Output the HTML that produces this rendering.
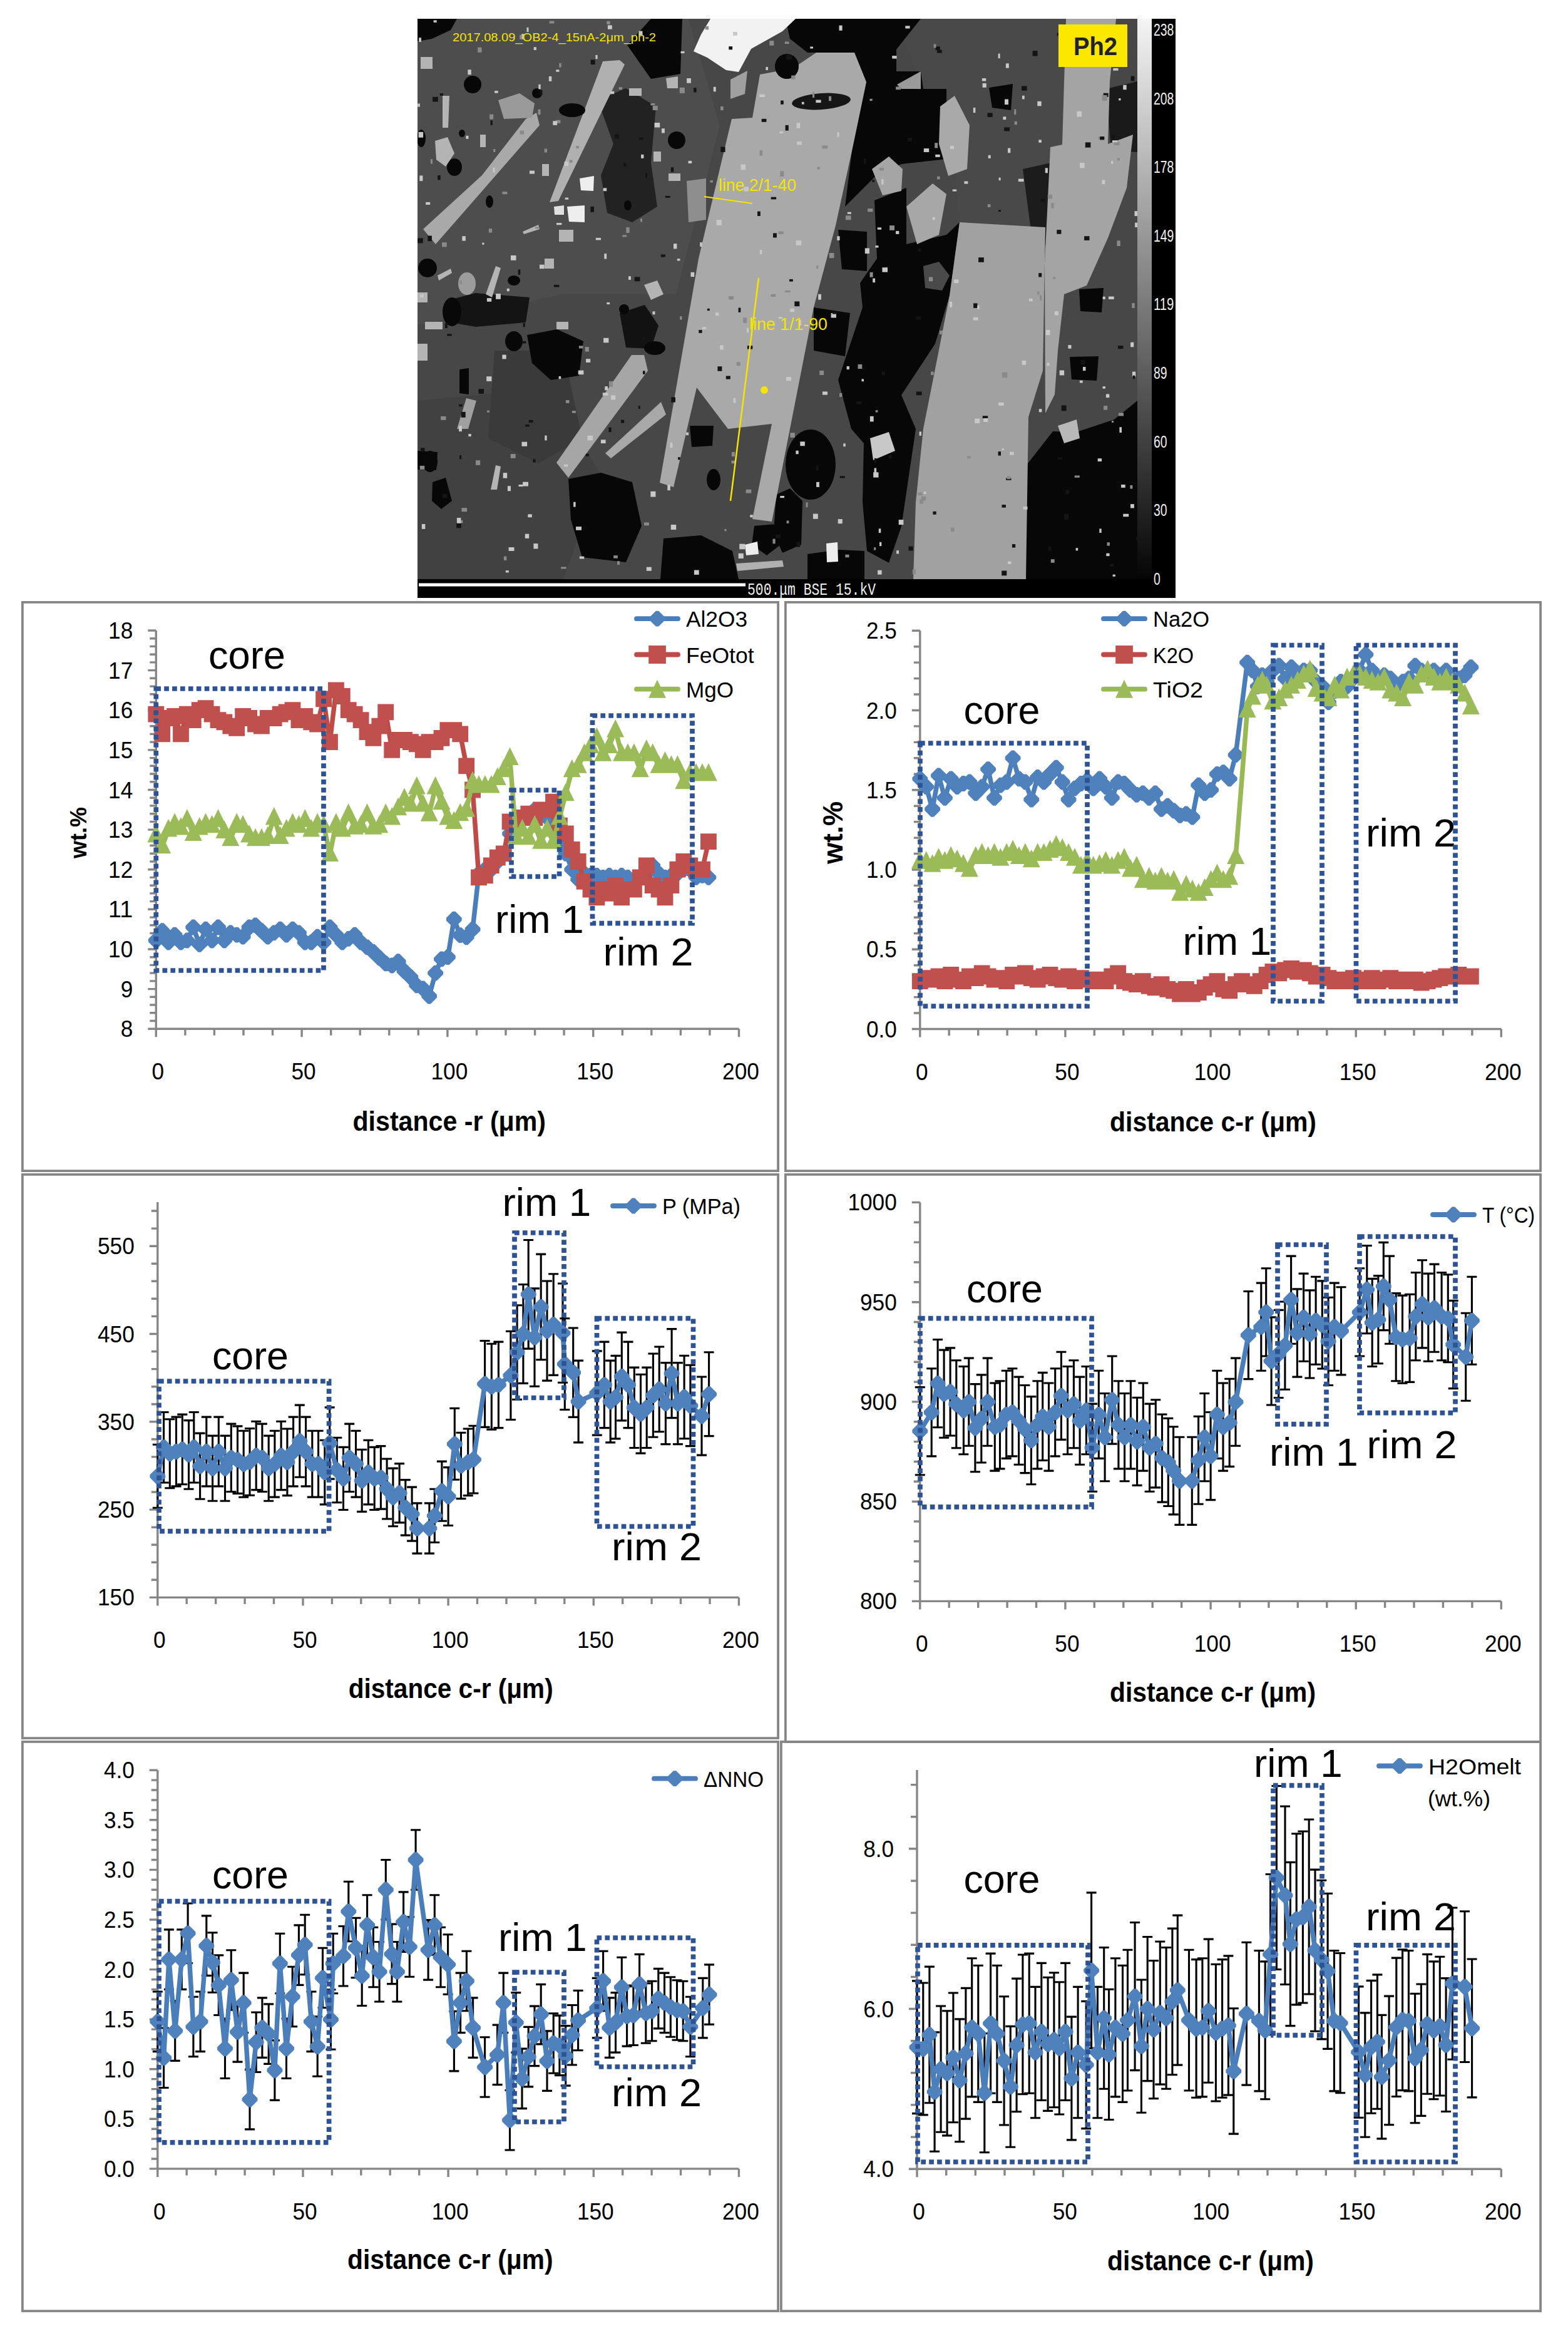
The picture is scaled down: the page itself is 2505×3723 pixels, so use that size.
<!DOCTYPE html>
<html><head><meta charset="utf-8"><style>
html,body{margin:0;padding:0;background:#fff;width:2505px;height:3723px;overflow:hidden}
svg{display:block;font-family:"Liberation Sans",sans-serif}
</style></head><body>
<svg width="2505" height="3723" viewBox="0 0 2505 3723" font-family="Liberation Sans, sans-serif">
<rect width="2505" height="3723" fill="#fff"/>
<defs><clipPath id="bclip"><rect x="667" y="30" width="1150" height="895"/></clipPath><linearGradient id="cbar" x1="0" y1="0" x2="0" y2="1"><stop offset="0" stop-color="#f4f4f4"/><stop offset="1" stop-color="#050505"/></linearGradient></defs>
<g clip-path="url(#bclip)">
<rect x="667" y="30" width="1150" height="895" fill="#474747"/>
<polygon points="667,30 1100,30 1150,200 1080,470 900,470 667,520" fill="#4d4d4d"/>
<polygon points="667,640 880,620 960,760 900,925 667,925" fill="#414141"/>
<polygon points="1432,30 1700,30 1703,363 1533,355 1512,142 1475,142" fill="#494949"/>
<polygon points="1670,452 1817,440 1817,640 1700,690 1660,690" fill="#474747"/>
<polygon points="790,560 900,560 930,700 860,740 780,700" fill="#3a3a3a"/>
<polygon points="667,30 730,30 720,48 690,62 667,66" fill="#070707"/>
<polygon points="1002,72 1040,30 1090,30 1087,118 1040,126" fill="#070707"/>
<circle cx="755" cy="135" r="14" fill="#070707"/>
<polygon points="955,160 1000,141 1048,170 1040,260 1050,330 1010,355 970,340 960,280 980,230" fill="#222222"/>
<polygon points="714,480 760,468 846,475 840,515 760,522 720,515" fill="#141414"/>
<polygon points="842,535 890,526 932,545 925,600 880,607 850,580" fill="#070707"/>
<polygon points="990,500 1030,487 1052,520 1040,557 1000,555" fill="#121212"/>
<polygon points="908,765 960,755 1010,770 1025,840 1000,898 930,890 912,830" fill="#070707"/>
<polygon points="1060,860 1120,855 1170,880 1180,925 1055,925" fill="#070707"/>
<polygon points="1102,680 1140,680 1138,712 1105,714" fill="#070707"/>
<ellipse cx="1140" cy="766" rx="11" ry="17" fill="#070707"/>
<ellipse cx="1295" cy="742" rx="40" ry="56" fill="#070707"/>
<polygon points="1240,790 1262,780 1282,800 1280,870 1250,883 1236,850" fill="#070707"/>
<polygon points="1205,840 1240,837 1247,870 1225,887 1201,870" fill="#070707"/>
<polygon points="1290,885 1340,878 1381,880 1381,925 1290,925" fill="#070707"/>
<polygon points="1320,868 1338,866 1339,897 1321,898" fill="#eeeeee"/>
<polygon points="667,720 699,722 697,751 667,750" fill="#070707"/>
<polygon points="691,770 712,763 722,800 705,813 690,800" fill="#070707"/>
<polygon points="734,590 749,588 749,630 734,628" fill="#070707"/>
<polygon points="1255,30 1471,30 1432,79 1432,114 1471,114 1475,142 1512,142 1512,254 1440,262 1400,280 1350,330 1361,241 1384,131 1365,84 1290,84 1262,62" fill="#070707"/>
<polygon points="1397,320 1448,300 1448,390 1512,375 1533,355 1517,472 1494,549 1440,631 1463,685 1440,841 1420,899 1385,880 1378,802 1380,708 1360,685 1339,607 1378,491 1374,452 1401,413" fill="#070707"/>
<polygon points="1339,367 1385,370 1385,433 1345,430" fill="#070707"/>
<polygon points="1475,425 1500,418 1517,440 1505,464 1478,460" fill="#4a4a4a"/>
<polygon points="1300,491 1358,500 1350,569 1300,560" fill="#070707"/>
<polygon points="1639,744 1682,689 1720,690 1780,670 1817,640 1817,925 1639,925" fill="#070707"/>
<polygon points="1767,142 1817,130 1817,243 1775,240" fill="#1a1a1a"/>
<polygon points="1724,462 1763,460 1760,499 1726,497" fill="#070707"/>
<polygon points="1709,570 1755,569 1752,608 1712,606" fill="#070707"/>
<polygon points="1580,140 1618,134 1615,176 1585,172" fill="#070707"/>
<polygon points="1634,270 1688,258 1688,394 1650,390" fill="#1c1c1c"/>
<polygon points="1214,119 1267,109 1304,84 1365,84 1384,131 1361,241 1335,360 1300,491 1233,833 1202,829 1233,677 1163,685 1113,619 1076,778 1054,771 1116,413 1151,265 1169,190 1202,188" fill="#a9a9a9"/>
<polygon points="1167,127 1194,113 1190,150 1167,158" fill="#a0a0a0"/>
<polygon points="1097,289 1128,285 1128,351 1100,355" fill="#8e8e8e"/>
<polygon points="1533,355 1670,363 1666,592 1643,666 1639,925 1459,925 1463,802 1475,685 1498,569 1517,472" fill="#a1a1a1"/>
<polygon points="1703,30 1783,30 1773,130 1770,230 1810,215 1800,300 1770,380 1736,456 1700,470 1690,560 1685,630 1670,660 1669,420 1678,235 1697,231" fill="#a4a4a4"/>
<polygon points="676,366 696,390 862,200 857,180 840,190 770,280" fill="#a9a9a9"/>
<polygon points="878,323 892,321 998,103 990,96 963,98" fill="#b0b0b0"/>
<polygon points="889,739 908,763 1035,592 1029,567 1009,567" fill="#a6a6a6"/>
<polygon points="967,724 976,732 1064,662 1056,642" fill="#a8a8a8"/>
<polygon points="1502,170 1525,153 1549,200 1545,270 1515,281 1500,230" fill="#a9a9a9"/>
<polygon points="1393,270 1420,250 1442,270 1440,305 1410,312" fill="#a5a5a5"/>
<polygon points="1448,330 1490,293 1512,310 1500,375 1465,390" fill="#a7a7a7"/>
<polygon points="796,160 830,149 854,165 850,188 805,190" fill="#9a9a9a"/>
<polygon points="730,685 745,636 761,640 748,685" fill="#a0a0a0"/>
<ellipse cx="746" cy="453" rx="14" ry="18" fill="#9c9c9c"/>
<polygon points="1176,900 1250,895 1252,905 1178,912" fill="#b0b0b0"/>
<polygon points="1433,135 1471,114 1471,142 1440,142" fill="#9a9a9a"/>
<ellipse cx="914" cy="176" rx="21" ry="11" fill="#080808"/>
<ellipse cx="858" cy="149" rx="8" ry="8" fill="#080808"/>
<ellipse cx="726" cy="267" rx="12" ry="14" fill="#080808"/>
<ellipse cx="673" cy="221" rx="7" ry="14" fill="#080808"/>
<ellipse cx="782" cy="322" rx="6" ry="10" fill="#080808"/>
<ellipse cx="738" cy="213" rx="5" ry="6" fill="#080808"/>
<ellipse cx="1003" cy="328" rx="6" ry="8" fill="#080808"/>
<ellipse cx="1081" cy="224" rx="14" ry="14" fill="#080808"/>
<ellipse cx="821" cy="448" rx="10" ry="8" fill="#080808"/>
<ellipse cx="997" cy="494" rx="8" ry="8" fill="#080808"/>
<ellipse cx="821" cy="545" rx="14" ry="16" fill="#080808"/>
<ellipse cx="1046" cy="556" rx="17" ry="11" fill="#080808"/>
<ellipse cx="687" cy="737" rx="12" ry="17" fill="#080808"/>
<ellipse cx="683" cy="428" rx="15" ry="15" fill="#080808"/>
<ellipse cx="722" cy="498" rx="15" ry="23" fill="#080808"/>
<polygon points="672,91 691,91 691,110 672,110" fill="#b4b4b4"/>
<polygon points="707,153 718,153 716,204 707,204" fill="#b4b4b4"/>
<polygon points="695,225 715,219 726,245 712,266 697,255" fill="#b4b4b4"/>
<polygon points="767,215 776,215 776,235 767,235" fill="#b4b4b4"/>
<polygon points="866,262 877,262 877,281 866,281" fill="#b4b4b4"/>
<polygon points="835,370 860,359 862,366 837,374" fill="#b4b4b4"/>
<polygon points="893,367 916,367 916,386 893,386" fill="#b4b4b4"/>
<polygon points="870,413 885,413 885,429 870,429" fill="#b4b4b4"/>
<polygon points="699,440 720,429 722,436 701,448" fill="#b4b4b4"/>
<polygon points="667,467 683,467 683,483 667,483" fill="#b4b4b4"/>
<polygon points="1029,455 1050,448 1060,470 1040,479" fill="#b4b4b4"/>
<polygon points="776,470 792,425 800,428 786,475" fill="#b4b4b4"/>
<polygon points="679,514 707,514 707,526 679,526" fill="#b4b4b4"/>
<polygon points="784,782 792,743 800,745 794,782" fill="#b4b4b4"/>
<polygon points="889,514 908,514 908,526 889,526" fill="#b4b4b4"/>
<polygon points="1068,277 1087,277 1087,289 1068,289" fill="#b4b4b4"/>
<polygon points="1044,242 1056,242 1056,258 1044,258" fill="#b4b4b4"/>
<polygon points="1005,141 1025,141 1025,153 1005,153" fill="#b4b4b4"/>
<polygon points="1064,125 1083,122 1083,141 1066,141" fill="#b4b4b4"/>
<polygon points="667,549 683,549 683,576 667,576" fill="#b4b4b4"/>
<polygon points="1135,30 1271,30 1250,50 1200,78 1180,115 1160,112 1130,92 1108,82 1120,55" fill="#f2f2f2"/>
<ellipse cx="1257" cy="106" rx="19" ry="20" fill="#080808"/>
<polygon points="926,285 949,281 948,305 928,304" fill="#eeeeee"/>
<polygon points="906,330 934,328 934,355 909,354" fill="#eeeeee"/>
<polygon points="885,330 901,328 901,343 886,343" fill="#e0e0e0"/>
<polygon points="1390,700 1420,690 1430,720 1395,735" fill="#c8c8c8"/>
<polygon points="1190,870 1210,865 1212,885 1192,887" fill="#eeeeee"/>
<polygon points="1690,680 1720,670 1725,700 1700,708" fill="#b8b8b8"/>
<ellipse cx="1312" cy="162" rx="47" ry="13" transform="rotate(-4 1312 162)" fill="#161616"/>
<rect x="1039.4" y="165" width="6.9" height="3.4" fill="#8a8a8a"/><rect x="1087.5" y="81.9" width="6" height="3.2" fill="#c8c8c8"/><rect x="747.3" y="111.2" width="5.5" height="8" fill="#c8c8c8"/><rect x="923.7" y="591.6" width="8.7" height="6.5" fill="#c8c8c8"/><rect x="1789.7" y="71.7" width="8.2" height="4.7" fill="#c8c8c8"/><rect x="802.5" y="306.1" width="7.9" height="4.1" fill="#8a8a8a"/><rect x="1401.8" y="363.3" width="6.3" height="3.4" fill="#c8c8c8"/><rect x="903.9" y="639" width="5.6" height="4.9" fill="#8a8a8a"/><rect x="1188.2" y="298.3" width="7.8" height="7.2" fill="#c8c8c8"/><rect x="1327.6" y="500.1" width="8.3" height="7.4" fill="#c8c8c8"/><rect x="1794.2" y="135.7" width="5.5" height="7.5" fill="#c8c8c8"/><rect x="1229.3" y="65.1" width="7" height="7.6" fill="#8a8a8a"/><rect x="1673.8" y="310.8" width="7.2" height="6.6" fill="#8a8a8a"/><rect x="1191.6" y="781.8" width="8.7" height="5.8" fill="#8a8a8a"/><rect x="736.8" y="657.8" width="6.9" height="9" fill="#141414"/><rect x="994.3" y="375.3" width="7" height="3.1" fill="#8a8a8a"/><rect x="860.3" y="134.8" width="3.4" height="7.6" fill="#c8c8c8"/><rect x="951.8" y="379.9" width="8.2" height="3.5" fill="#c8c8c8"/><rect x="1298.9" y="820.6" width="7.9" height="8.2" fill="#c8c8c8"/><rect x="1144.6" y="351.1" width="8.3" height="8.7" fill="#c8c8c8"/><rect x="869.7" y="237.6" width="4.4" height="5.9" fill="#8a8a8a"/><rect x="969.2" y="33.7" width="5.5" height="5.2" fill="#8a8a8a"/><rect x="1763.1" y="648" width="6.1" height="6.7" fill="#8a8a8a"/><rect x="729.1" y="835.1" width="7.7" height="8.2" fill="#141414"/><rect x="1118.2" y="387.1" width="3.6" height="6.8" fill="#c8c8c8"/><rect x="744.4" y="216.8" width="4" height="5" fill="#c8c8c8"/><rect x="667.3" y="165.4" width="3.6" height="5.2" fill="#c8c8c8"/><rect x="1672.5" y="579.6" width="3.9" height="4.5" fill="#c8c8c8"/><rect x="1085.8" y="139.9" width="8.1" height="9" fill="#8a8a8a"/><rect x="1223.4" y="106.9" width="3.6" height="5.1" fill="#c8c8c8"/><rect x="1620.2" y="174.5" width="3.1" height="8.7" fill="#8a8a8a"/><rect x="835.6" y="516.1" width="3.2" height="6.2" fill="#141414"/><rect x="1659.8" y="653.1" width="4.6" height="5.2" fill="#c8c8c8"/><rect x="1554.7" y="506.7" width="7.7" height="5" fill="#c8c8c8"/><rect x="1600.2" y="911.5" width="8.1" height="7.8" fill="#141414"/><rect x="1517.9" y="232.9" width="6.1" height="5.1" fill="#c8c8c8"/><rect x="699.1" y="280.1" width="4.6" height="7.2" fill="#141414"/><rect x="1181.3" y="868.6" width="8.9" height="8.7" fill="#c8c8c8"/><rect x="920.5" y="233" width="4.2" height="4.2" fill="#8a8a8a"/><rect x="1702.4" y="782.2" width="5.9" height="6.9" fill="#141414"/><rect x="764.5" y="621.2" width="8.5" height="7.7" fill="#141414"/><rect x="1216.7" y="189.8" width="7.7" height="5" fill="#141414"/><rect x="1784.4" y="384.3" width="5.4" height="8.7" fill="#8a8a8a"/><rect x="862.5" y="143.7" width="3.9" height="8.4" fill="#141414"/><rect x="835.1" y="769.7" width="8.9" height="6.9" fill="#c8c8c8"/><rect x="1298" y="147.2" width="3.1" height="8.8" fill="#8a8a8a"/><rect x="1272.6" y="865.6" width="5.6" height="8.2" fill="#141414"/><rect x="909.7" y="255.4" width="4.8" height="4.4" fill="#8a8a8a"/><rect x="965.3" y="405" width="3.8" height="8.5" fill="#c8c8c8"/><rect x="1193.9" y="552.1" width="8.4" height="5.5" fill="#141414"/><rect x="1243.9" y="506" width="6.1" height="3.1" fill="#c8c8c8"/><rect x="877.6" y="33.5" width="7.8" height="4" fill="#8a8a8a"/><rect x="1501" y="528" width="5" height="6.1" fill="#8a8a8a"/><rect x="1568.9" y="125" width="6.4" height="4.5" fill="#c8c8c8"/><rect x="1555.1" y="484.4" width="6.4" height="7.6" fill="#141414"/><rect x="1176.7" y="578.2" width="6" height="6.1" fill="#8a8a8a"/><rect x="1187.2" y="507.3" width="5.9" height="8.6" fill="#8a8a8a"/><rect x="1675" y="873.3" width="4.6" height="6.4" fill="#141414"/><rect x="1633" y="152.7" width="3.7" height="5.7" fill="#c8c8c8"/><rect x="943.7" y="95.4" width="7" height="7.7" fill="#141414"/><rect x="844.6" y="670.9" width="7" height="3.9" fill="#141414"/><rect x="1779.7" y="226.5" width="8.7" height="5.4" fill="#8a8a8a"/><rect x="1805.4" y="775" width="4" height="5.6" fill="#8a8a8a"/><rect x="1057" y="205.2" width="4.9" height="7.3" fill="#c8c8c8"/><rect x="1304.2" y="424.2" width="3.1" height="5" fill="#8a8a8a"/><rect x="1256.1" y="87.5" width="8.9" height="7.7" fill="#141414"/><rect x="787.5" y="267.7" width="3.2" height="7.7" fill="#c8c8c8"/><rect x="816" y="407.9" width="8.5" height="7.9" fill="#c8c8c8"/><rect x="838.8" y="852.7" width="6.4" height="7.2" fill="#c8c8c8"/><rect x="733.2" y="645.9" width="5.6" height="3.4" fill="#141414"/><rect x="1396.6" y="747.5" width="3.5" height="8.1" fill="#c8c8c8"/><rect x="1659.2" y="436.1" width="5" height="6.3" fill="#141414"/><rect x="975" y="145.7" width="6.2" height="4.4" fill="#c8c8c8"/><rect x="852.7" y="75.1" width="4.2" height="4.9" fill="#c8c8c8"/><rect x="1540.4" y="289.5" width="6" height="4.1" fill="#c8c8c8"/><rect x="687.9" y="254.2" width="3.1" height="7.4" fill="#8a8a8a"/><rect x="884.9" y="454.9" width="8.6" height="3.6" fill="#141414"/><rect x="1164" y="473" width="8" height="5.4" fill="#8a8a8a"/><rect x="1457.9" y="909.3" width="5.1" height="8" fill="#8a8a8a"/><rect x="1398.4" y="392.2" width="5.1" height="3.3" fill="#c8c8c8"/><rect x="748.3" y="693.1" width="4.5" height="4" fill="#c8c8c8"/><rect x="1634.5" y="809.1" width="7" height="4.7" fill="#c8c8c8"/><rect x="1004" y="441.2" width="3.9" height="5.7" fill="#c8c8c8"/><rect x="1773.1" y="900.5" width="6.3" height="4.5" fill="#141414"/><rect x="1023" y="349.1" width="3" height="5.3" fill="#8a8a8a"/><rect x="1245.2" y="209.9" width="6" height="3" fill="#c8c8c8"/><rect x="770.2" y="387.6" width="3.3" height="3.1" fill="#c8c8c8"/><rect x="934.7" y="554.1" width="6.2" height="7.5" fill="#8a8a8a"/><rect x="1490.4" y="816.8" width="5.3" height="5" fill="#141414"/><rect x="838.9" y="678.1" width="6.9" height="3.3" fill="#141414"/><rect x="1692.7" y="591.5" width="7.4" height="7.9" fill="#c8c8c8"/><rect x="1269.3" y="481.4" width="8" height="7.8" fill="#141414"/><rect x="1338.7" y="829.1" width="7.1" height="7.2" fill="#c8c8c8"/><rect x="702.8" y="149.1" width="5.2" height="3.6" fill="#141414"/><rect x="1309.3" y="591.9" width="6.8" height="7.1" fill="#8a8a8a"/><rect x="670.8" y="743.9" width="7.5" height="6" fill="#8a8a8a"/><rect x="1425.2" y="89.1" width="7.4" height="4.5" fill="#c8c8c8"/><rect x="972.4" y="682.8" width="4.2" height="7.4" fill="#141414"/><rect x="1235" y="372.4" width="5.9" height="7.1" fill="#141414"/><rect x="1376.5" y="605.3" width="3.5" height="3.9" fill="#c8c8c8"/><rect x="1521.7" y="302.5" width="6.4" height="3.1" fill="#c8c8c8"/><rect x="976.1" y="631.4" width="7.2" height="7.1" fill="#c8c8c8"/><rect x="1261" y="445.9" width="5.8" height="3.7" fill="#141414"/><rect x="896.1" y="905.4" width="8.6" height="3.1" fill="#8a8a8a"/><rect x="1609.9" y="896.5" width="5.7" height="4.6" fill="#c8c8c8"/><rect x="1754.4" y="218.6" width="6.5" height="3.9" fill="#8a8a8a"/><rect x="1762.7" y="148.7" width="7.9" height="6.1" fill="#141414"/><rect x="1475.8" y="237.1" width="8.4" height="5.9" fill="#c8c8c8"/><rect x="671.1" y="470.1" width="5.7" height="4.8" fill="#c8c8c8"/><rect x="1062.6" y="312.9" width="8" height="3" fill="#141414"/><rect x="1632" y="137.4" width="8.6" height="7.3" fill="#141414"/><rect x="1000.3" y="363.1" width="5.4" height="9" fill="#8a8a8a"/><rect x="1081.8" y="413.1" width="4.7" height="3.3" fill="#c8c8c8"/><rect x="1626.9" y="285.6" width="8.6" height="4.5" fill="#c8c8c8"/><rect x="1254.6" y="199.9" width="5.2" height="8.7" fill="#141414"/><rect x="1600.8" y="594.7" width="8.5" height="8.6" fill="#8a8a8a"/><rect x="1494.5" y="74.3" width="7.4" height="5.7" fill="#141414"/><rect x="1408.2" y="286.2" width="3.3" height="8.6" fill="#c8c8c8"/><rect x="1210" y="337.6" width="4.8" height="7.4" fill="#141414"/><rect x="966.2" y="617.1" width="4.8" height="6.3" fill="#c8c8c8"/><rect x="859.4" y="174.7" width="4.2" height="8.4" fill="#8a8a8a"/><rect x="920" y="841.1" width="9" height="5.7" fill="#c8c8c8"/><rect x="888.3" y="111.2" width="5.1" height="3.5" fill="#c8c8c8"/><rect x="964.1" y="539.8" width="8.3" height="7.5" fill="#c8c8c8"/><rect x="1143" y="499.1" width="5.3" height="5" fill="#c8c8c8"/><rect x="986.1" y="896.1" width="3.8" height="6" fill="#8a8a8a"/><rect x="1659.3" y="223.3" width="4.6" height="4.5" fill="#c8c8c8"/><rect x="1179.7" y="883.8" width="8.1" height="8.2" fill="#c8c8c8"/><rect x="704.1" y="665" width="8.4" height="5.8" fill="#8a8a8a"/><rect x="667.2" y="380.4" width="8.6" height="8" fill="#141414"/><rect x="1785.1" y="252.4" width="3.7" height="3.9" fill="#8a8a8a"/><rect x="1451.4" y="872.6" width="7.3" height="6.9" fill="#141414"/><rect x="1192.9" y="523.6" width="3.2" height="7.7" fill="#c8c8c8"/><rect x="1724.9" y="607.7" width="4.8" height="3.8" fill="#c8c8c8"/><rect x="1398.7" y="655.2" width="3.7" height="3.4" fill="#8a8a8a"/><rect x="1337.3" y="377.3" width="4.3" height="6.6" fill="#c8c8c8"/><rect x="1013.7" y="442.3" width="8.8" height="6.9" fill="#141414"/><rect x="1213.6" y="240.1" width="4.5" height="8.8" fill="#8a8a8a"/><rect x="1020.5" y="49.5" width="6" height="7" fill="#c8c8c8"/><rect x="962.8" y="627.3" width="8.6" height="4.4" fill="#c8c8c8"/><rect x="1055.8" y="406.4" width="7.1" height="4.2" fill="#141414"/><rect x="1517" y="481.9" width="4.2" height="8.8" fill="#c8c8c8"/><rect x="1610" y="236.6" width="4.3" height="7.6" fill="#c8c8c8"/><rect x="1761.7" y="473.7" width="4.1" height="4.3" fill="#c8c8c8"/><rect x="1432.1" y="879.1" width="3.9" height="5.4" fill="#c8c8c8"/><rect x="1787.2" y="157" width="3.3" height="3.4" fill="#c8c8c8"/><rect x="1699.9" y="820.8" width="7.4" height="9" fill="#141414"/><rect x="1045.6" y="196" width="8.6" height="7.5" fill="#c8c8c8"/><rect x="1431.1" y="368.9" width="5.2" height="5" fill="#c8c8c8"/><rect x="670.3" y="280.4" width="5.1" height="8.7" fill="#c8c8c8"/><rect x="1775.9" y="215.6" width="5.1" height="7.9" fill="#141414"/><rect x="1164.3" y="74.1" width="5.8" height="5.2" fill="#141414"/><rect x="889" y="356" width="8.4" height="3.2" fill="#c8c8c8"/><rect x="1600.6" y="716.2" width="3.2" height="3.2" fill="#c8c8c8"/><rect x="1725.1" y="260" width="7.5" height="8.4" fill="#c8c8c8"/><rect x="980.2" y="887.1" width="6.7" height="4.6" fill="#8a8a8a"/><rect x="1031" y="276.7" width="3" height="7.5" fill="#141414"/><rect x="1396.1" y="874.2" width="3.1" height="4.4" fill="#8a8a8a"/><rect x="1767.3" y="883.7" width="5.3" height="4.5" fill="#c8c8c8"/><rect x="1234.5" y="860.6" width="4.1" height="7.8" fill="#8a8a8a"/><rect x="1613.2" y="721.7" width="6.6" height="5" fill="#c8c8c8"/><rect x="1083.1" y="730.1" width="3.5" height="4.2" fill="#141414"/><rect x="951.4" y="87.9" width="3.2" height="6.3" fill="#c8c8c8"/><rect x="1794.3" y="820.7" width="8.9" height="4.6" fill="#c8c8c8"/><rect x="777.9" y="476.1" width="7.3" height="5.7" fill="#c8c8c8"/><rect x="1146.4" y="585.2" width="7" height="7.5" fill="#141414"/><rect x="1431.1" y="138.4" width="8" height="4.8" fill="#8a8a8a"/><rect x="1095.9" y="690.6" width="4.2" height="4.5" fill="#c8c8c8"/><rect x="843.3" y="821.3" width="6.5" height="5" fill="#c8c8c8"/><rect x="1808.3" y="484.1" width="4.4" height="7.9" fill="#8a8a8a"/><rect x="1806.6" y="121.6" width="5.8" height="7.9" fill="#141414"/><rect x="1718.5" y="66.1" width="4.8" height="3.7" fill="#c8c8c8"/><rect x="1785.9" y="552" width="8.6" height="5.2" fill="#141414"/><rect x="1183.5" y="262.7" width="7.7" height="8.7" fill="#c8c8c8"/><rect x="1352.6" y="584.9" width="4.3" height="5.2" fill="#c8c8c8"/><rect x="901.6" y="258.1" width="6.6" height="6.9" fill="#c8c8c8"/><rect x="680.1" y="322.9" width="7.1" height="4.1" fill="#c8c8c8"/><rect x="900.9" y="741.8" width="6.3" height="3.4" fill="#c8c8c8"/><rect x="1121.6" y="522.4" width="6.8" height="3.5" fill="#c8c8c8"/><rect x="1466.7" y="396.8" width="4.7" height="4.8" fill="#141414"/><rect x="1026.2" y="537" width="5.1" height="5.5" fill="#141414"/><rect x="1813.1" y="355.6" width="4.2" height="7.4" fill="#c8c8c8"/><rect x="673.8" y="837" width="5.5" height="7.9" fill="#c8c8c8"/><rect x="1682.3" y="442.5" width="4" height="3.1" fill="#8a8a8a"/><rect x="1403.8" y="844.3" width="3.5" height="6.7" fill="#c8c8c8"/><rect x="1247.1" y="160.6" width="4.7" height="6.1" fill="#141414"/><rect x="792.1" y="469" width="7.8" height="8.8" fill="#c8c8c8"/><rect x="812.6" y="874.1" width="8.9" height="5.9" fill="#c8c8c8"/><rect x="1732.1" y="377.2" width="8.4" height="6.7" fill="#141414"/><rect x="851.3" y="733.3" width="4.3" height="5.4" fill="#141414"/><rect x="1620.6" y="193.8" width="4.3" height="5.4" fill="#8a8a8a"/><rect x="1108.1" y="140.1" width="4.5" height="7.3" fill="#141414"/><rect x="714.3" y="533.3" width="7.5" height="3.2" fill="#141414"/><rect x="802.4" y="566.6" width="6.3" height="6.8" fill="#c8c8c8"/><rect x="1150.1" y="551.4" width="5.6" height="7" fill="#c8c8c8"/><rect x="1171.1" y="50.9" width="6.7" height="5.9" fill="#c8c8c8"/><rect x="1545.1" y="728.1" width="5.7" height="4.1" fill="#8a8a8a"/><rect x="790.1" y="145" width="5.6" height="3.6" fill="#c8c8c8"/><rect x="1253.7" y="66.5" width="6.8" height="3.5" fill="#8a8a8a"/><rect x="1561.3" y="487.8" width="3.3" height="6" fill="#c8c8c8"/><rect x="1760.5" y="151.9" width="8.1" height="9" fill="#8a8a8a"/><rect x="1604.2" y="203.4" width="8.9" height="6" fill="#141414"/><rect x="1720.4" y="177.8" width="7.7" height="8.6" fill="#c8c8c8"/><rect x="1070.5" y="706.8" width="4" height="8.4" fill="#c8c8c8"/><rect x="1605" y="158.5" width="6" height="8.5" fill="#c8c8c8"/><rect x="969.3" y="482.9" width="4.9" height="3.2" fill="#c8c8c8"/><rect x="852.4" y="868.1" width="7.1" height="8.4" fill="#c8c8c8"/><rect x="1569.6" y="133" width="6.2" height="6.8" fill="#c8c8c8"/><rect x="1670.9" y="526.9" width="6.5" height="8.3" fill="#c8c8c8"/><rect x="1808.9" y="593.6" width="5.4" height="7.8" fill="#c8c8c8"/><rect x="1806.1" y="546.7" width="5.2" height="7.6" fill="#c8c8c8"/><rect x="870.3" y="695.5" width="3.3" height="7.9" fill="#c8c8c8"/><rect x="1402.1" y="910.7" width="6.5" height="7" fill="#c8c8c8"/><rect x="669.1" y="60.2" width="3.9" height="6.7" fill="#c8c8c8"/><rect x="1256.6" y="831.5" width="3.8" height="4.4" fill="#8a8a8a"/><rect x="692.6" y="32.3" width="5.1" height="3.6" fill="#c8c8c8"/><rect x="924.9" y="552.3" width="6.5" height="4.2" fill="#8a8a8a"/><rect x="1213.1" y="150.6" width="8.6" height="4.5" fill="#c8c8c8"/><rect x="777.2" y="601.2" width="8.2" height="7.7" fill="#c8c8c8"/><rect x="970.9" y="40.3" width="6.9" height="6.4" fill="#c8c8c8"/><rect x="1409.4" y="427.2" width="8.6" height="7.4" fill="#c8c8c8"/><rect x="1706" y="69.4" width="6.2" height="5.4" fill="#c8c8c8"/><rect x="734.1" y="727.1" width="3.1" height="6.3" fill="#141414"/><rect x="830.6" y="208.6" width="6.6" height="6" fill="#8a8a8a"/><rect x="1602.4" y="186.3" width="4.9" height="4.8" fill="#c8c8c8"/><rect x="1689.8" y="730.8" width="7.3" height="3" fill="#141414"/><rect x="1524" y="446.4" width="7.5" height="5.7" fill="#c8c8c8"/><rect x="788.1" y="237.9" width="3.2" height="5" fill="#8a8a8a"/><rect x="1466.4" y="786.6" width="7.3" height="4.6" fill="#8a8a8a"/><rect x="1168.5" y="735.7" width="6.1" height="4.6" fill="#8a8a8a"/><rect x="1776.9" y="224.2" width="8.3" height="3.1" fill="#c8c8c8"/><rect x="938.5" y="695.8" width="8.7" height="7.5" fill="#c8c8c8"/><rect x="1679.2" y="324.1" width="4.4" height="8.4" fill="#8a8a8a"/><rect x="1463.8" y="625.4" width="8.9" height="5.8" fill="#141414"/><rect x="1469.3" y="797.5" width="5.6" height="7.3" fill="#8a8a8a"/><rect x="1020.9" y="219.7" width="6.7" height="3.5" fill="#141414"/><rect x="833.3" y="54.1" width="3.6" height="8.6" fill="#c8c8c8"/><rect x="830.1" y="55.7" width="3.2" height="7.2" fill="#8a8a8a"/><rect x="1468.6" y="689.4" width="3.4" height="6.5" fill="#c8c8c8"/><rect x="1607.2" y="763.5" width="8.3" height="3.4" fill="#141414"/><rect x="1718.6" y="875.2" width="3.6" height="4.2" fill="#c8c8c8"/><rect x="706.6" y="788.7" width="7.9" height="6.8" fill="#141414"/><rect x="1393.3" y="287.2" width="3.6" height="3.6" fill="#141414"/><rect x="902.7" y="315.6" width="5.5" height="3.1" fill="#c8c8c8"/><rect x="992" y="670.6" width="5.2" height="4.9" fill="#141414"/><rect x="1246.3" y="792" width="6.7" height="3.2" fill="#c8c8c8"/><rect x="1168.9" y="721.9" width="5.1" height="7.2" fill="#8a8a8a"/><rect x="916.1" y="801.7" width="3.5" height="7.9" fill="#c8c8c8"/><rect x="668.5" y="210.8" width="7.6" height="8.9" fill="#c8c8c8"/><rect x="1231.4" y="469.9" width="7.8" height="4.1" fill="#8a8a8a"/><rect x="1066.3" y="774.5" width="4.6" height="8.7" fill="#c8c8c8"/><rect x="913.9" y="656" width="6" height="3.7" fill="#8a8a8a"/><rect x="760" y="735.2" width="7.2" height="7.7" fill="#8a8a8a"/><rect x="1076" y="389.1" width="5.4" height="8.3" fill="#c8c8c8"/><rect x="1688.7" y="52.5" width="4.2" height="4.6" fill="#141414"/><rect x="1243.4" y="369.5" width="8.3" height="4.4" fill="#8a8a8a"/><rect x="1278.3" y="705.3" width="7.5" height="6.9" fill="#c8c8c8"/><rect x="1042.7" y="169" width="8.1" height="7" fill="#8a8a8a"/><rect x="862" y="422.7" width="7.6" height="6.5" fill="#c8c8c8"/><rect x="1198.3" y="822.2" width="4.4" height="4.1" fill="#c8c8c8"/><rect x="1475.6" y="785.1" width="3.9" height="3.9" fill="#c8c8c8"/><rect x="1042.5" y="497.3" width="4" height="5" fill="#c8c8c8"/><rect x="1788.4" y="682.2" width="3.6" height="8.8" fill="#c8c8c8"/><rect x="1108.9" y="910.5" width="7.8" height="7.4" fill="#c8c8c8"/><rect x="892.6" y="601" width="3.6" height="4.2" fill="#c8c8c8"/><rect x="706" y="387.1" width="7.7" height="7.2" fill="#8a8a8a"/><rect x="1394.2" y="444.6" width="3.9" height="6.6" fill="#c8c8c8"/><rect x="1519.1" y="842.7" width="5.6" height="6.4" fill="#8a8a8a"/><rect x="1151.3" y="234.6" width="7.3" height="8.3" fill="#141414"/><rect x="1472.1" y="792.9" width="7.1" height="6.8" fill="#8a8a8a"/><rect x="1027" y="592.3" width="3.6" height="5.5" fill="#141414"/><rect x="1487.1" y="593.5" width="4.5" height="5.5" fill="#8a8a8a"/><rect x="1381.8" y="396.4" width="7.1" height="8.6" fill="#c8c8c8"/><rect x="1419.7" y="726.5" width="5.3" height="5.9" fill="#141414"/><rect x="710.9" y="516.3" width="4" height="7.7" fill="#141414"/><rect x="1264.1" y="120.5" width="6.4" height="6.2" fill="#8a8a8a"/><rect x="1256" y="602.1" width="8" height="6.1" fill="#c8c8c8"/><rect x="1757.2" y="218" width="7.1" height="5.4" fill="#141414"/><rect x="807.8" y="911.1" width="5.1" height="3.3" fill="#c8c8c8"/><rect x="1126.6" y="41.9" width="5.5" height="5.5" fill="#8a8a8a"/><rect x="1071.9" y="267.3" width="4.3" height="7.4" fill="#141414"/><rect x="1273.1" y="225.9" width="7.8" height="5.4" fill="#c8c8c8"/><rect x="815.7" y="725.1" width="7.9" height="6.8" fill="#8a8a8a"/><rect x="1313.4" y="232.3" width="8.8" height="5.1" fill="#8a8a8a"/><rect x="1608.6" y="760.5" width="5.8" height="4.8" fill="#8a8a8a"/><rect x="810.9" y="776.2" width="5.1" height="8.1" fill="#c8c8c8"/><rect x="1099.6" y="256.9" width="5.6" height="4.1" fill="#c8c8c8"/><rect x="1497.1" y="281.7" width="4.5" height="4.8" fill="#8a8a8a"/><rect x="1159.8" y="600.4" width="7" height="5.2" fill="#141414"/><rect x="1649.6" y="81.1" width="8" height="8.4" fill="#141414"/><rect x="828.5" y="774" width="6.8" height="3.1" fill="#c8c8c8"/><rect x="1761.5" y="617.1" width="4.5" height="3.6" fill="#c8c8c8"/><rect x="935.7" y="724.8" width="5.1" height="3.9" fill="#141414"/><rect x="1577.4" y="180.3" width="8.3" height="6.7" fill="#141414"/><rect x="1435.7" y="830.1" width="7.7" height="8" fill="#c8c8c8"/><rect x="1463.7" y="505.1" width="7.5" height="5.6" fill="#141414"/><rect x="1305.3" y="266.7" width="4.4" height="3.8" fill="#8a8a8a"/><rect x="734.2" y="448" width="3.9" height="5.9" fill="#8a8a8a"/><rect x="1287.5" y="802.3" width="3" height="8" fill="#8a8a8a"/><rect x="1314" y="625.4" width="8" height="5.2" fill="#c8c8c8"/><rect x="1771.7" y="97.5" width="6.8" height="6.8" fill="#c8c8c8"/><rect x="1368.1" y="640.9" width="8.6" height="5" fill="#141414"/><rect x="1254.2" y="463.8" width="8.4" height="3.2" fill="#8a8a8a"/><rect x="1386.1" y="333.1" width="8.2" height="5.2" fill="#8a8a8a"/><rect x="1271.4" y="719.7" width="4.3" height="5.6" fill="#c8c8c8"/><rect x="1304.1" y="769.9" width="4.8" height="8" fill="#c8c8c8"/><rect x="1246.3" y="273.2" width="6" height="8.8" fill="#8a8a8a"/><rect x="1577.7" y="326.2" width="4.9" height="4.8" fill="#8a8a8a"/><rect x="1397" y="731.9" width="3.2" height="7.3" fill="#141414"/><rect x="1294.2" y="74.5" width="4.8" height="3" fill="#c8c8c8"/><rect x="1726.6" y="574.8" width="6.9" height="7.7" fill="#141414"/><rect x="1370.5" y="581.9" width="6.8" height="7.2" fill="#8a8a8a"/><rect x="1450.1" y="220.2" width="7" height="5.7" fill="#141414"/><rect x="783.6" y="192.3" width="3.2" height="7.6" fill="#141414"/><rect x="1421.1" y="360.1" width="7.9" height="7.7" fill="#8a8a8a"/><rect x="963.7" y="300.3" width="5.5" height="4.9" fill="#c8c8c8"/><rect x="1405" y="865.8" width="3.3" height="6.4" fill="#c8c8c8"/><rect x="803.7" y="755.2" width="6.5" height="8.5" fill="#c8c8c8"/><rect x="683.3" y="376.5" width="6.6" height="8.6" fill="#141414"/><rect x="1213.8" y="399.1" width="3.6" height="6.9" fill="#c8c8c8"/><rect x="841.5" y="43.9" width="3" height="7.1" fill="#c8c8c8"/><rect x="1778.3" y="108.9" width="8.2" height="3.8" fill="#c8c8c8"/><rect x="1494.3" y="246.8" width="7.4" height="4.1" fill="#c8c8c8"/><rect x="1557.1" y="668.6" width="8.1" height="7.4" fill="#c8c8c8"/><rect x="1389.9" y="664.8" width="5.8" height="8.6" fill="#c8c8c8"/><rect x="1776" y="671.9" width="3.1" height="3.1" fill="#8a8a8a"/><rect x="1606.9" y="101.3" width="4.9" height="7.4" fill="#c8c8c8"/><rect x="1657.1" y="465.3" width="3.4" height="5.2" fill="#8a8a8a"/><rect x="1171.5" y="635.8" width="3.9" height="7.8" fill="#c8c8c8"/><rect x="1408.6" y="593.6" width="5.5" height="5.3" fill="#141414"/><rect x="1753.7" y="732.2" width="6.4" height="4.8" fill="#c8c8c8"/><rect x="1787" y="659.4" width="8" height="5" fill="#8a8a8a"/><rect x="1791.1" y="774" width="6.6" height="4.9" fill="#c8c8c8"/><rect x="1688.3" y="367.1" width="7.1" height="6.6" fill="#141414"/><rect x="1595.6" y="283.6" width="3" height="4.6" fill="#c8c8c8"/><rect x="1341.6" y="760.3" width="8.3" height="3.3" fill="#141414"/><rect x="1600.5" y="806.1" width="6.4" height="4.6" fill="#141414"/><rect x="1595.1" y="642.8" width="8.5" height="5.1" fill="#c8c8c8"/><rect x="1303.7" y="743.7" width="4.2" height="7.5" fill="#141414"/><rect x="936.1" y="573.2" width="7.1" height="5.8" fill="#c8c8c8"/><rect x="959.9" y="702.3" width="7.7" height="5.8" fill="#c8c8c8"/><rect x="1594.6" y="721.1" width="4.4" height="6.5" fill="#141414"/><rect x="1684.9" y="497.1" width="5.9" height="6.5" fill="#c8c8c8"/><rect x="888.2" y="191.7" width="7.2" height="5.2" fill="#8a8a8a"/><rect x="1129.9" y="492.9" width="3.9" height="3.3" fill="#141414"/><rect x="1097.1" y="125" width="6.8" height="7.7" fill="#c8c8c8"/><rect x="1353.8" y="338.7" width="6.1" height="3.1" fill="#c8c8c8"/><rect x="1806" y="805.1" width="5.9" height="6.4" fill="#c8c8c8"/><rect x="1563.1" y="411.2" width="8.7" height="7.6" fill="#141414"/><rect x="1775" y="257.3" width="3.2" height="4.2" fill="#c8c8c8"/><rect x="763.2" y="75.6" width="6.3" height="8.2" fill="#8a8a8a"/><rect x="1756.3" y="844.4" width="3.4" height="6.6" fill="#c8c8c8"/><rect x="804.9" y="888.6" width="4.5" height="6.4" fill="#8a8a8a"/><rect x="1766.9" y="629.4" width="5.4" height="5.7" fill="#c8c8c8"/><rect x="1777.6" y="917.6" width="4.3" height="3.2" fill="#c8c8c8"/><rect x="1071.8" y="838" width="8.4" height="8" fill="#c8c8c8"/><rect x="1571.3" y="665.1" width="6.9" height="8.9" fill="#c8c8c8"/><rect x="833.5" y="705.7" width="8.6" height="7.1" fill="#c8c8c8"/><rect x="1347.2" y="708.3" width="3.6" height="4.9" fill="#c8c8c8"/><rect x="809.8" y="460.8" width="4" height="4.4" fill="#c8c8c8"/><rect x="1446.3" y="41.3" width="7.3" height="4.2" fill="#c8c8c8"/><rect x="1733.8" y="227.4" width="8.6" height="8.2" fill="#141414"/><rect x="827.7" y="430.3" width="3.6" height="8.6" fill="#141414"/><rect x="1389.6" y="434.8" width="5" height="7.9" fill="#8a8a8a"/><rect x="1389.4" y="157.8" width="4.3" height="3.3" fill="#8a8a8a"/><rect x="1303.4" y="159.5" width="8.2" height="4.6" fill="#c8c8c8"/><rect x="846" y="272.6" width="8" height="5" fill="#c8c8c8"/><rect x="1231.7" y="314.7" width="8.4" height="3.7" fill="#141414"/><rect x="732.4" y="831.1" width="7" height="4.3" fill="#8a8a8a"/><rect x="996.2" y="260.7" width="4.2" height="5.2" fill="#141414"/><rect x="1814.8" y="857.9" width="3.6" height="4.7" fill="#141414"/><rect x="733.1" y="680.2" width="4.8" height="8.9" fill="#c8c8c8"/><rect x="1595.1" y="335.1" width="3.8" height="3" fill="#141414"/><rect x="1272.6" y="196.3" width="5.6" height="8.5" fill="#c8c8c8"/><rect x="1324" y="153.6" width="4.1" height="7.6" fill="#8a8a8a"/><rect x="893.2" y="100.9" width="3.5" height="6.7" fill="#8a8a8a"/><rect x="982" y="214.4" width="6.7" height="7.2" fill="#141414"/><rect x="1337.4" y="211.1" width="3.4" height="7.4" fill="#c8c8c8"/><rect x="1496.9" y="79.6" width="7.9" height="5" fill="#141414"/><rect x="1661.2" y="471.3" width="3.1" height="8.5" fill="#8a8a8a"/><rect x="1669.8" y="268.3" width="4.1" height="8" fill="#c8c8c8"/><rect x="855" y="362.2" width="6.6" height="3" fill="#8a8a8a"/><rect x="1179.6" y="491.5" width="3.7" height="7.3" fill="#141414"/><rect x="1662.3" y="317.3" width="7.3" height="5.3" fill="#141414"/><rect x="737.4" y="811.2" width="8.7" height="6" fill="#8a8a8a"/><rect x="1277.1" y="510.9" width="3.1" height="8.8" fill="#c8c8c8"/><rect x="876.8" y="121.9" width="4.5" height="7.9" fill="#c8c8c8"/><rect x="777.9" y="655.6" width="4.2" height="3.1" fill="#8a8a8a"/><rect x="1330" y="498" width="7.2" height="3.6" fill="#141414"/><rect x="1491.7" y="70.4" width="3.7" height="6" fill="#8a8a8a"/><rect x="988.6" y="139.2" width="5.4" height="3.8" fill="#8a8a8a"/><rect x="1657.3" y="161.8" width="6.4" height="7.5" fill="#c8c8c8"/><rect x="1616.9" y="869.1" width="5.3" height="5.5" fill="#141414"/><rect x="1271.5" y="384.1" width="8.6" height="7.7" fill="#c8c8c8"/><rect x="943.4" y="329.9" width="5.6" height="8.9" fill="#141414"/><rect x="1716.7" y="759.5" width="8.1" height="3.3" fill="#8a8a8a"/><rect x="1768.5" y="866.2" width="4.5" height="5.5" fill="#8a8a8a"/><rect x="1086.1" y="505.1" width="3.4" height="5.6" fill="#8a8a8a"/><rect x="691" y="154.8" width="8.8" height="7.7" fill="#141414"/><rect x="1395.2" y="754.3" width="8.3" height="8.3" fill="#c8c8c8"/><rect x="1404.8" y="267.9" width="7.1" height="4.6" fill="#8a8a8a"/><rect x="1730" y="586" width="4.5" height="6.1" fill="#c8c8c8"/><rect x="1760.5" y="287.3" width="4.8" height="6.9" fill="#c8c8c8"/><rect x="1350.4" y="885.7" width="6.1" height="4.6" fill="#8a8a8a"/><rect x="1280.9" y="162.8" width="3.7" height="3.8" fill="#c8c8c8"/><rect x="1134.5" y="288" width="4.5" height="3.5" fill="#8a8a8a"/><rect x="1632.7" y="575.9" width="6.4" height="6.9" fill="#c8c8c8"/><rect x="1483.9" y="442.5" width="6.3" height="6.7" fill="#8a8a8a"/><rect x="1024.1" y="246.8" width="4.3" height="6.1" fill="#c8c8c8"/><rect x="1340.5" y="40.6" width="5.1" height="8.2" fill="#c8c8c8"/><rect x="1307.2" y="469.8" width="4.7" height="8.9" fill="#c8c8c8"/><rect x="1554.9" y="171.9" width="3.4" height="8.2" fill="#c8c8c8"/><rect x="738.3" y="377.2" width="5.6" height="7.4" fill="#c8c8c8"/><rect x="925.9" y="888.6" width="7.4" height="3.9" fill="#c8c8c8"/><rect x="1072.3" y="634.4" width="6.7" height="8.1" fill="#141414"/><rect x="1262.4" y="691.2" width="7.5" height="7.6" fill="#8a8a8a"/><rect x="1569.7" y="664.2" width="8.5" height="3.8" fill="#141414"/><rect x="672" y="715.3" width="6.5" height="6" fill="#141414"/><rect x="1324.8" y="404" width="7.7" height="8.2" fill="#8a8a8a"/><rect x="1103.5" y="434.8" width="5.7" height="7.3" fill="#c8c8c8"/><rect x="1116.3" y="527" width="5.3" height="4.9" fill="#141414"/><rect x="1644" y="477.1" width="5.7" height="4.1" fill="#c8c8c8"/><rect x="833.7" y="545" width="6.5" height="3.5" fill="#141414"/><rect x="1039.4" y="784.8" width="8" height="8.8" fill="#c8c8c8"/><rect x="1157.4" y="845" width="3.1" height="3.3" fill="#8a8a8a"/><rect x="1238.9" y="853.7" width="7.6" height="6.2" fill="#141414"/><rect x="1262.1" y="493" width="7.1" height="5.3" fill="#c8c8c8"/><rect x="1350.9" y="344.2" width="8.7" height="7.1" fill="#8a8a8a"/><rect x="780.8" y="365.1" width="5.4" height="6.4" fill="#8a8a8a"/><rect x="1678.8" y="893.2" width="5.9" height="5.6" fill="#8a8a8a"/><rect x="1812.5" y="337.2" width="6.2" height="7.9" fill="#c8c8c8"/><rect x="1032.8" y="905.7" width="8" height="6.1" fill="#c8c8c8"/><rect x="1695.7" y="647.4" width="7.9" height="8.9" fill="#141414"/><rect x="1151" y="170" width="4.7" height="6.1" fill="#8a8a8a"/><rect x="883.3" y="193.3" width="6.8" height="6.6" fill="#c8c8c8"/><rect x="1809.8" y="599.7" width="3.3" height="5.5" fill="#141414"/><rect x="1019.8" y="648.2" width="3" height="4.8" fill="#141414"/><rect x="1341.1" y="628" width="4.2" height="6" fill="#8a8a8a"/><rect x="972.9" y="608.9" width="6.2" height="9" fill="#8a8a8a"/><rect x="1139.8" y="138.7" width="3.9" height="7.6" fill="#c8c8c8"/><rect x="782.1" y="182.6" width="6.1" height="7.9" fill="#8a8a8a"/><rect x="1594.6" y="85.6" width="3.1" height="7.6" fill="#c8c8c8"/><rect x="1489.8" y="346.7" width="4" height="4.6" fill="#c8c8c8"/><rect x="1706.4" y="551.1" width="5.1" height="5.7" fill="#c8c8c8"/><rect x="729.9" y="827" width="6.5" height="8.8" fill="#c8c8c8"/><rect x="1380.2" y="253.1" width="3.3" height="8.6" fill="#141414"/><rect x="1029" y="834.5" width="7.9" height="4.8" fill="#8a8a8a"/><rect x="1771" y="473.5" width="8.7" height="4.5" fill="#c8c8c8"/><rect x="1493.2" y="228.2" width="4.9" height="8.3" fill="#8a8a8a"/><rect x="1578.7" y="247.8" width="4" height="5.2" fill="#c8c8c8"/>
</g>
<text x="723" y="66" font-size="19" text-anchor="start" textLength="325" lengthAdjust="spacingAndGlyphs" fill="#f5e400">2017.08.09_OB2-4_15nA-2μm_ph-2</text>
<text x="1148" y="305" font-size="27" text-anchor="start" textLength="124" lengthAdjust="spacingAndGlyphs" fill="#f5e400">line 2/1-40</text>
<text x="1197" y="527" font-size="27" text-anchor="start" textLength="125" lengthAdjust="spacingAndGlyphs" fill="#f5e400">line 1/1-90</text>
<line x1="1212" y1="444" x2="1167" y2="800" stroke="#f5e400" stroke-width="2.5"/>
<line x1="1125" y1="314" x2="1202" y2="325" stroke="#f5e400" stroke-width="2"/>
<circle cx="1221" cy="623" r="6" fill="#f5e400"/>
<rect x="1691" y="39" width="110" height="68" fill="#fbe700"/>
<text x="1750" y="88" font-size="40" text-anchor="middle" font-weight="bold" textLength="70" lengthAdjust="spacingAndGlyphs" fill="#222">Ph2</text>
<rect x="667" y="925" width="1211" height="30" fill="#000"/>
<rect x="1817" y="30" width="23" height="895" fill="url(#cbar)"/>
<rect x="1840" y="30" width="38" height="925" fill="#000"/>
<text x="1843" y="57" font-size="28" text-anchor="start" textLength="32.4" lengthAdjust="spacingAndGlyphs" fill="#eee">238</text>
<text x="1843" y="166.6" font-size="28" text-anchor="start" textLength="32.4" lengthAdjust="spacingAndGlyphs" fill="#eee">208</text>
<text x="1843" y="276.2" font-size="28" text-anchor="start" textLength="32.4" lengthAdjust="spacingAndGlyphs" fill="#eee">178</text>
<text x="1843" y="385.8" font-size="28" text-anchor="start" textLength="32.4" lengthAdjust="spacingAndGlyphs" fill="#eee">149</text>
<text x="1843" y="495.4" font-size="28" text-anchor="start" textLength="32.4" lengthAdjust="spacingAndGlyphs" fill="#eee">119</text>
<text x="1843" y="605" font-size="28" text-anchor="start" textLength="21.6" lengthAdjust="spacingAndGlyphs" fill="#eee">89</text>
<text x="1843" y="714.6" font-size="28" text-anchor="start" textLength="21.6" lengthAdjust="spacingAndGlyphs" fill="#eee">60</text>
<text x="1843" y="824.2" font-size="28" text-anchor="start" textLength="21.6" lengthAdjust="spacingAndGlyphs" fill="#eee">30</text>
<text x="1843" y="933.8" font-size="28" text-anchor="start" textLength="10.8" lengthAdjust="spacingAndGlyphs" fill="#eee">0</text>
<rect x="669" y="931.5" width="522" height="5" fill="#fff"/>
<text x="1194" y="950" font-size="28" text-anchor="start" textLength="205" lengthAdjust="spacingAndGlyphs" fill="#eee" font-family="Liberation Mono" font-variant-numeric="normal">500.μm BSE 15.kV</text>
<rect x="35.9" y="961.9" width="1207.2" height="908.2" fill="none" stroke="#868686" stroke-width="3.8"/>
<rect x="1254.9" y="961.9" width="1206.2" height="908.2" fill="none" stroke="#868686" stroke-width="3.8"/>
<rect x="35.9" y="1875.9" width="1207.2" height="900.2" fill="none" stroke="#868686" stroke-width="3.8"/>
<rect x="1254.9" y="1875.9" width="1206.2" height="906.2" fill="none" stroke="#868686" stroke-width="3.8"/>
<rect x="35.9" y="2781.9" width="1207.2" height="909.2" fill="none" stroke="#868686" stroke-width="3.8"/>
<rect x="1247.9" y="2781.9" width="1213.2" height="909.2" fill="none" stroke="#868686" stroke-width="3.8"/>
<path d="M249.3 1007V1656.2M236.3 1643.2H1180.5M239.3 1643.2H249.3M239.3 1630.5H249.3M239.3 1617.8H249.3M239.3 1605H249.3M239.3 1592.3H249.3M239.3 1579.6H249.3M239.3 1566.9H249.3M239.3 1554.1H249.3M239.3 1541.4H249.3M239.3 1528.7H249.3M239.3 1516H249.3M239.3 1503.2H249.3M239.3 1490.5H249.3M239.3 1477.8H249.3M239.3 1465.1H249.3M239.3 1452.3H249.3M239.3 1439.6H249.3M239.3 1426.9H249.3M239.3 1414.2H249.3M239.3 1401.4H249.3M239.3 1388.7H249.3M239.3 1376H249.3M239.3 1363.3H249.3M239.3 1350.5H249.3M239.3 1337.8H249.3M239.3 1325.1H249.3M239.3 1312.4H249.3M239.3 1299.7H249.3M239.3 1286.9H249.3M239.3 1274.2H249.3M239.3 1261.5H249.3M239.3 1248.8H249.3M239.3 1236H249.3M239.3 1223.3H249.3M239.3 1210.6H249.3M239.3 1197.9H249.3M239.3 1185.1H249.3M239.3 1172.4H249.3M239.3 1159.7H249.3M239.3 1147H249.3M239.3 1134.2H249.3M239.3 1121.5H249.3M239.3 1108.8H249.3M239.3 1096.1H249.3M239.3 1083.3H249.3M239.3 1070.6H249.3M239.3 1057.9H249.3M239.3 1045.2H249.3M239.3 1032.4H249.3M239.3 1019.7H249.3M239.3 1007H249.3M236.3 1643.2H249.3M236.3 1579.6H249.3M236.3 1516H249.3M236.3 1452.3H249.3M236.3 1388.7H249.3M236.3 1325.1H249.3M236.3 1261.5H249.3M236.3 1197.9H249.3M236.3 1134.2H249.3M236.3 1070.6H249.3M236.3 1007H249.3M295.9 1643.2V1653.7M342.4 1643.2V1653.7M389 1643.2V1653.7M435.5 1643.2V1653.7M482.1 1643.2V1656.2M528.7 1643.2V1653.7M575.2 1643.2V1653.7M621.8 1643.2V1653.7M668.3 1643.2V1653.7M714.9 1643.2V1656.2M761.5 1643.2V1653.7M808 1643.2V1653.7M854.6 1643.2V1653.7M901.1 1643.2V1653.7M947.7 1643.2V1656.2M994.3 1643.2V1653.7M1040.8 1643.2V1653.7M1087.4 1643.2V1653.7M1133.9 1643.2V1653.7M1180.5 1643.2V1656.2" stroke="#868686" stroke-width="3.4" fill="none"/>
<text x="212.3" y="1656.2" font-size="36.5" text-anchor="end" textLength="19.6" lengthAdjust="spacingAndGlyphs" fill="#000">8</text>
<text x="212.3" y="1592.6" font-size="36.5" text-anchor="end" textLength="19.6" lengthAdjust="spacingAndGlyphs" fill="#000">9</text>
<text x="212.3" y="1529" font-size="36.5" text-anchor="end" textLength="39.2" lengthAdjust="spacingAndGlyphs" fill="#000">10</text>
<text x="212.3" y="1465.3" font-size="36.5" text-anchor="end" textLength="39.2" lengthAdjust="spacingAndGlyphs" fill="#000">11</text>
<text x="212.3" y="1401.7" font-size="36.5" text-anchor="end" textLength="39.2" lengthAdjust="spacingAndGlyphs" fill="#000">12</text>
<text x="212.3" y="1338.1" font-size="36.5" text-anchor="end" textLength="39.2" lengthAdjust="spacingAndGlyphs" fill="#000">13</text>
<text x="212.3" y="1274.5" font-size="36.5" text-anchor="end" textLength="39.2" lengthAdjust="spacingAndGlyphs" fill="#000">14</text>
<text x="212.3" y="1210.9" font-size="36.5" text-anchor="end" textLength="39.2" lengthAdjust="spacingAndGlyphs" fill="#000">15</text>
<text x="212.3" y="1147.2" font-size="36.5" text-anchor="end" textLength="39.2" lengthAdjust="spacingAndGlyphs" fill="#000">16</text>
<text x="212.3" y="1083.6" font-size="36.5" text-anchor="end" textLength="39.2" lengthAdjust="spacingAndGlyphs" fill="#000">17</text>
<text x="212.3" y="1020" font-size="36.5" text-anchor="end" textLength="39.2" lengthAdjust="spacingAndGlyphs" fill="#000">18</text>
<text x="252.3" y="1724.2" font-size="36.5" text-anchor="middle" textLength="19.6" lengthAdjust="spacingAndGlyphs" fill="#000">0</text>
<text x="485.1" y="1724.2" font-size="36.5" text-anchor="middle" textLength="39.2" lengthAdjust="spacingAndGlyphs" fill="#000">50</text>
<text x="717.9" y="1724.2" font-size="36.5" text-anchor="middle" textLength="58.8" lengthAdjust="spacingAndGlyphs" fill="#000">100</text>
<text x="950.7" y="1724.2" font-size="36.5" text-anchor="middle" textLength="58.8" lengthAdjust="spacingAndGlyphs" fill="#000">150</text>
<text x="1183.5" y="1724.2" font-size="36.5" text-anchor="middle" textLength="58.8" lengthAdjust="spacingAndGlyphs" fill="#000">200</text>
<text x="333" y="1068" font-size="63" text-anchor="start" textLength="123" lengthAdjust="spacingAndGlyphs" fill="#000">core</text>
<text x="791" y="1490" font-size="63" text-anchor="start" textLength="141.6" lengthAdjust="spacingAndGlyphs" fill="#000">rim 1</text>
<text x="963.6" y="1542" font-size="63" text-anchor="start" textLength="144" lengthAdjust="spacingAndGlyphs" fill="#000">rim 2</text>
<path d="M249.3 1502 L259.2 1486.7 L269.1 1505.1 L279.1 1493.1 L289 1505.1 L298.9 1502 L308.8 1481 L318.7 1508.3 L328.6 1484.2 L338.6 1502 L348.5 1481 L358.4 1502 L368.3 1489.9 L378.2 1493.1 L388.1 1496.2 L398.1 1481 L408 1477.8 L417.9 1486.7 L427.8 1496.2 L437.7 1489.9 L447.6 1484.2 L457.6 1493.1 L467.5 1484.2 L477.4 1489.9 L487.3 1505.1 L497.2 1505.1 L507.1 1496.2 L517.1 1505.1 L527 1481 L536.9 1493.1 L546.8 1505.1 L556.7 1499.4 L566.7 1493.1 L576.6 1505.1 L586.5 1512.8 L596.4 1520.4 L606.3 1530 L616.2 1538.9 L626.2 1542 L636.1 1535.7 L646 1551 L655.9 1560.5 L665.8 1573.9 L675.7 1578.9 L685.7 1591 L695.6 1554.1 L705.5 1531.9 L715.4 1528.7 L725.3 1468.2 L735.2 1493.7 L745.2 1496.9 L755.1 1484.2 L765 1395.1 L774.9 1388.7 L784.8 1388.7 L794.8 1376 L804.7 1363.3 L814.6 1331.5 L824.5 1312.4 L834.4 1306 L844.3 1299.7 L854.3 1293.3 L864.2 1299.7 L874.1 1306 L884 1318.7 L893.9 1337.8 L903.8 1363.3 L913.8 1388.7 L923.7 1404.6 L933.6 1395.1 L943.5 1398.3 L953.4 1398.3 L963.3 1401.4 L973.3 1398.3 L983.2 1401.4 L993.1 1398.3 L1003 1401.4 L1012.9 1407.8 L1022.8 1401.4 L1032.8 1395.1 L1042.7 1382.4 L1052.6 1395.1 L1062.5 1401.4 L1072.4 1398.3 L1082.4 1395.1 L1092.3 1388.7 L1102.2 1388.7 L1112.1 1401.4 L1122 1398.3 L1131.9 1401.4" stroke="#4a7ebb" stroke-width="7.5" fill="none" stroke-linejoin="round" stroke-linecap="round"/>
<path d="M247.1 1489.6L251.5 1489.6L261.7 1499.8L261.7 1504.2L251.5 1514.4L247.1 1514.4L236.9 1504.2L236.9 1499.8ZM257 1474.3L261.4 1474.3L271.6 1484.5L271.6 1488.9L261.4 1499.1L257 1499.1L246.8 1488.9L246.8 1484.5ZM266.9 1492.7L271.3 1492.7L281.5 1502.9L281.5 1507.3L271.3 1517.5L266.9 1517.5L256.7 1507.3L256.7 1502.9ZM276.9 1480.7L281.3 1480.7L291.5 1490.9L291.5 1495.3L281.3 1505.5L276.9 1505.5L266.7 1495.3L266.7 1490.9ZM286.8 1492.7L291.2 1492.7L301.4 1502.9L301.4 1507.3L291.2 1517.5L286.8 1517.5L276.6 1507.3L276.6 1502.9ZM296.7 1489.6L301.1 1489.6L311.3 1499.8L311.3 1504.2L301.1 1514.4L296.7 1514.4L286.5 1504.2L286.5 1499.8ZM306.6 1468.6L311 1468.6L321.2 1478.8L321.2 1483.2L311 1493.4L306.6 1493.4L296.4 1483.2L296.4 1478.8ZM316.5 1495.9L320.9 1495.9L331.1 1506.1L331.1 1510.5L320.9 1520.7L316.5 1520.7L306.3 1510.5L306.3 1506.1ZM326.4 1471.8L330.8 1471.8L341 1482L341 1486.4L330.8 1496.6L326.4 1496.6L316.2 1486.4L316.2 1482ZM336.4 1489.6L340.8 1489.6L351 1499.8L351 1504.2L340.8 1514.4L336.4 1514.4L326.2 1504.2L326.2 1499.8ZM346.3 1468.6L350.7 1468.6L360.9 1478.8L360.9 1483.2L350.7 1493.4L346.3 1493.4L336.1 1483.2L336.1 1478.8ZM356.2 1489.6L360.6 1489.6L370.8 1499.8L370.8 1504.2L360.6 1514.4L356.2 1514.4L346 1504.2L346 1499.8ZM366.1 1477.5L370.5 1477.5L380.7 1487.7L380.7 1492.1L370.5 1502.3L366.1 1502.3L355.9 1492.1L355.9 1487.7ZM376 1480.7L380.4 1480.7L390.6 1490.9L390.6 1495.3L380.4 1505.5L376 1505.5L365.8 1495.3L365.8 1490.9ZM385.9 1483.8L390.3 1483.8L400.5 1494L400.5 1498.4L390.3 1508.6L385.9 1508.6L375.7 1498.4L375.7 1494ZM395.9 1468.6L400.3 1468.6L410.5 1478.8L410.5 1483.2L400.3 1493.4L395.9 1493.4L385.7 1483.2L385.7 1478.8ZM405.8 1465.4L410.2 1465.4L420.4 1475.6L420.4 1480L410.2 1490.2L405.8 1490.2L395.6 1480L395.6 1475.6ZM415.7 1474.3L420.1 1474.3L430.3 1484.5L430.3 1488.9L420.1 1499.1L415.7 1499.1L405.5 1488.9L405.5 1484.5ZM425.6 1483.8L430 1483.8L440.2 1494L440.2 1498.4L430 1508.6L425.6 1508.6L415.4 1498.4L415.4 1494ZM435.5 1477.5L439.9 1477.5L450.1 1487.7L450.1 1492.1L439.9 1502.3L435.5 1502.3L425.3 1492.1L425.3 1487.7ZM445.4 1471.8L449.8 1471.8L460 1482L460 1486.4L449.8 1496.6L445.4 1496.6L435.2 1486.4L435.2 1482ZM455.4 1480.7L459.8 1480.7L470 1490.9L470 1495.3L459.8 1505.5L455.4 1505.5L445.2 1495.3L445.2 1490.9ZM465.3 1471.8L469.7 1471.8L479.9 1482L479.9 1486.4L469.7 1496.6L465.3 1496.6L455.1 1486.4L455.1 1482ZM475.2 1477.5L479.6 1477.5L489.8 1487.7L489.8 1492.1L479.6 1502.3L475.2 1502.3L465 1492.1L465 1487.7ZM485.1 1492.7L489.5 1492.7L499.7 1502.9L499.7 1507.3L489.5 1517.5L485.1 1517.5L474.9 1507.3L474.9 1502.9ZM495 1492.7L499.4 1492.7L509.6 1502.9L509.6 1507.3L499.4 1517.5L495 1517.5L484.8 1507.3L484.8 1502.9ZM504.9 1483.8L509.3 1483.8L519.5 1494L519.5 1498.4L509.3 1508.6L504.9 1508.6L494.7 1498.4L494.7 1494ZM514.9 1492.7L519.3 1492.7L529.5 1502.9L529.5 1507.3L519.3 1517.5L514.9 1517.5L504.7 1507.3L504.7 1502.9ZM524.8 1468.6L529.2 1468.6L539.4 1478.8L539.4 1483.2L529.2 1493.4L524.8 1493.4L514.6 1483.2L514.6 1478.8ZM534.7 1480.7L539.1 1480.7L549.3 1490.9L549.3 1495.3L539.1 1505.5L534.7 1505.5L524.5 1495.3L524.5 1490.9ZM544.6 1492.7L549 1492.7L559.2 1502.9L559.2 1507.3L549 1517.5L544.6 1517.5L534.4 1507.3L534.4 1502.9ZM554.5 1487L558.9 1487L569.1 1497.2L569.1 1501.6L558.9 1511.8L554.5 1511.8L544.3 1501.6L544.3 1497.2ZM564.5 1480.7L568.9 1480.7L579.1 1490.9L579.1 1495.3L568.9 1505.5L564.5 1505.5L554.3 1495.3L554.3 1490.9ZM574.4 1492.7L578.8 1492.7L589 1502.9L589 1507.3L578.8 1517.5L574.4 1517.5L564.2 1507.3L564.2 1502.9ZM584.3 1500.4L588.7 1500.4L598.9 1510.6L598.9 1515L588.7 1525.2L584.3 1525.2L574.1 1515L574.1 1510.6ZM594.2 1508L598.6 1508L608.8 1518.2L608.8 1522.6L598.6 1532.8L594.2 1532.8L584 1522.6L584 1518.2ZM604.1 1517.6L608.5 1517.6L618.7 1527.8L618.7 1532.2L608.5 1542.4L604.1 1542.4L593.9 1532.2L593.9 1527.8ZM614 1526.5L618.4 1526.5L628.6 1536.7L628.6 1541.1L618.4 1551.3L614 1551.3L603.8 1541.1L603.8 1536.7ZM624 1529.6L628.4 1529.6L638.6 1539.8L638.6 1544.2L628.4 1554.4L624 1554.4L613.8 1544.2L613.8 1539.8ZM633.9 1523.3L638.3 1523.3L648.5 1533.5L648.5 1537.9L638.3 1548.1L633.9 1548.1L623.7 1537.9L623.7 1533.5ZM643.8 1538.6L648.2 1538.6L658.4 1548.8L658.4 1553.2L648.2 1563.4L643.8 1563.4L633.6 1553.2L633.6 1548.8ZM653.7 1548.1L658.1 1548.1L668.3 1558.3L668.3 1562.7L658.1 1572.9L653.7 1572.9L643.5 1562.7L643.5 1558.3ZM663.6 1561.5L668 1561.5L678.2 1571.7L678.2 1576.1L668 1586.3L663.6 1586.3L653.4 1576.1L653.4 1571.7ZM673.5 1566.5L677.9 1566.5L688.1 1576.7L688.1 1581.1L677.9 1591.3L673.5 1591.3L663.3 1581.1L663.3 1576.7ZM683.5 1578.6L687.9 1578.6L698.1 1588.8L698.1 1593.2L687.9 1603.4L683.5 1603.4L673.3 1593.2L673.3 1588.8ZM693.4 1541.7L697.8 1541.7L708 1551.9L708 1556.3L697.8 1566.5L693.4 1566.5L683.2 1556.3L683.2 1551.9ZM703.3 1519.5L707.7 1519.5L717.9 1529.7L717.9 1534.1L707.7 1544.3L703.3 1544.3L693.1 1534.1L693.1 1529.7ZM713.2 1516.3L717.6 1516.3L727.8 1526.5L727.8 1530.9L717.6 1541.1L713.2 1541.1L703 1530.9L703 1526.5ZM723.1 1455.8L727.5 1455.8L737.7 1466L737.7 1470.4L727.5 1480.6L723.1 1480.6L712.9 1470.4L712.9 1466ZM733 1481.3L737.4 1481.3L747.6 1491.5L747.6 1495.9L737.4 1506.1L733 1506.1L722.8 1495.9L722.8 1491.5ZM743 1484.5L747.4 1484.5L757.6 1494.7L757.6 1499.1L747.4 1509.3L743 1509.3L732.8 1499.1L732.8 1494.7ZM752.9 1471.8L757.3 1471.8L767.5 1482L767.5 1486.4L757.3 1496.6L752.9 1496.6L742.7 1486.4L742.7 1482ZM762.8 1382.7L767.2 1382.7L777.4 1392.9L777.4 1397.3L767.2 1407.5L762.8 1407.5L752.6 1397.3L752.6 1392.9ZM772.7 1376.3L777.1 1376.3L787.3 1386.5L787.3 1390.9L777.1 1401.1L772.7 1401.1L762.5 1390.9L762.5 1386.5ZM782.6 1376.3L787 1376.3L797.2 1386.5L797.2 1390.9L787 1401.1L782.6 1401.1L772.4 1390.9L772.4 1386.5ZM792.6 1363.6L797 1363.6L807.2 1373.8L807.2 1378.2L797 1388.4L792.6 1388.4L782.4 1378.2L782.4 1373.8ZM802.5 1350.9L806.9 1350.9L817.1 1361.1L817.1 1365.5L806.9 1375.7L802.5 1375.7L792.3 1365.5L792.3 1361.1ZM812.4 1319.1L816.8 1319.1L827 1329.3L827 1333.7L816.8 1343.9L812.4 1343.9L802.2 1333.7L802.2 1329.3ZM822.3 1300L826.7 1300L836.9 1310.2L836.9 1314.6L826.7 1324.8L822.3 1324.8L812.1 1314.6L812.1 1310.2ZM832.2 1293.6L836.6 1293.6L846.8 1303.8L846.8 1308.2L836.6 1318.4L832.2 1318.4L822 1308.2L822 1303.8ZM842.1 1287.3L846.5 1287.3L856.7 1297.5L856.7 1301.9L846.5 1312.1L842.1 1312.1L831.9 1301.9L831.9 1297.5ZM852.1 1280.9L856.5 1280.9L866.7 1291.1L866.7 1295.5L856.5 1305.7L852.1 1305.7L841.9 1295.5L841.9 1291.1ZM862 1287.3L866.4 1287.3L876.6 1297.5L876.6 1301.9L866.4 1312.1L862 1312.1L851.8 1301.9L851.8 1297.5ZM871.9 1293.6L876.3 1293.6L886.5 1303.8L886.5 1308.2L876.3 1318.4L871.9 1318.4L861.7 1308.2L861.7 1303.8ZM881.8 1306.3L886.2 1306.3L896.4 1316.5L896.4 1320.9L886.2 1331.1L881.8 1331.1L871.6 1320.9L871.6 1316.5ZM891.7 1325.4L896.1 1325.4L906.3 1335.6L906.3 1340L896.1 1350.2L891.7 1350.2L881.5 1340L881.5 1335.6ZM901.6 1350.9L906 1350.9L916.2 1361.1L916.2 1365.5L906 1375.7L901.6 1375.7L891.4 1365.5L891.4 1361.1ZM911.6 1376.3L916 1376.3L926.2 1386.5L926.2 1390.9L916 1401.1L911.6 1401.1L901.4 1390.9L901.4 1386.5ZM921.5 1392.2L925.9 1392.2L936.1 1402.4L936.1 1406.8L925.9 1417L921.5 1417L911.3 1406.8L911.3 1402.4ZM931.4 1382.7L935.8 1382.7L946 1392.9L946 1397.3L935.8 1407.5L931.4 1407.5L921.2 1397.3L921.2 1392.9ZM941.3 1385.9L945.7 1385.9L955.9 1396.1L955.9 1400.5L945.7 1410.7L941.3 1410.7L931.1 1400.5L931.1 1396.1ZM951.2 1385.9L955.6 1385.9L965.8 1396.1L965.8 1400.5L955.6 1410.7L951.2 1410.7L941 1400.5L941 1396.1ZM961.1 1389L965.5 1389L975.7 1399.2L975.7 1403.6L965.5 1413.8L961.1 1413.8L950.9 1403.6L950.9 1399.2ZM971.1 1385.9L975.5 1385.9L985.7 1396.1L985.7 1400.5L975.5 1410.7L971.1 1410.7L960.9 1400.5L960.9 1396.1ZM981 1389L985.4 1389L995.6 1399.2L995.6 1403.6L985.4 1413.8L981 1413.8L970.8 1403.6L970.8 1399.2ZM990.9 1385.9L995.3 1385.9L1005.5 1396.1L1005.5 1400.5L995.3 1410.7L990.9 1410.7L980.7 1400.5L980.7 1396.1ZM1000.8 1389L1005.2 1389L1015.4 1399.2L1015.4 1403.6L1005.2 1413.8L1000.8 1413.8L990.6 1403.6L990.6 1399.2ZM1010.7 1395.4L1015.1 1395.4L1025.3 1405.6L1025.3 1410L1015.1 1420.2L1010.7 1420.2L1000.5 1410L1000.5 1405.6ZM1020.6 1389L1025 1389L1035.2 1399.2L1035.2 1403.6L1025 1413.8L1020.6 1413.8L1010.4 1403.6L1010.4 1399.2ZM1030.6 1382.7L1035 1382.7L1045.2 1392.9L1045.2 1397.3L1035 1407.5L1030.6 1407.5L1020.4 1397.3L1020.4 1392.9ZM1040.5 1370L1044.9 1370L1055.1 1380.2L1055.1 1384.6L1044.9 1394.8L1040.5 1394.8L1030.3 1384.6L1030.3 1380.2ZM1050.4 1382.7L1054.8 1382.7L1065 1392.9L1065 1397.3L1054.8 1407.5L1050.4 1407.5L1040.2 1397.3L1040.2 1392.9ZM1060.3 1389L1064.7 1389L1074.9 1399.2L1074.9 1403.6L1064.7 1413.8L1060.3 1413.8L1050.1 1403.6L1050.1 1399.2ZM1070.2 1385.9L1074.6 1385.9L1084.8 1396.1L1084.8 1400.5L1074.6 1410.7L1070.2 1410.7L1060 1400.5L1060 1396.1ZM1080.2 1382.7L1084.6 1382.7L1094.8 1392.9L1094.8 1397.3L1084.6 1407.5L1080.2 1407.5L1070 1397.3L1070 1392.9ZM1090.1 1376.3L1094.5 1376.3L1104.7 1386.5L1104.7 1390.9L1094.5 1401.1L1090.1 1401.1L1079.9 1390.9L1079.9 1386.5ZM1100 1376.3L1104.4 1376.3L1114.6 1386.5L1114.6 1390.9L1104.4 1401.1L1100 1401.1L1089.8 1390.9L1089.8 1386.5ZM1109.9 1389L1114.3 1389L1124.5 1399.2L1124.5 1403.6L1114.3 1413.8L1109.9 1413.8L1099.7 1403.6L1099.7 1399.2ZM1119.8 1385.9L1124.2 1385.9L1134.4 1396.1L1134.4 1400.5L1124.2 1410.7L1119.8 1410.7L1109.6 1400.5L1109.6 1396.1ZM1129.7 1389L1134.1 1389L1144.3 1399.2L1144.3 1403.6L1134.1 1413.8L1129.7 1413.8L1119.5 1403.6L1119.5 1399.2Z" fill="#4f81bd"/>
<path d="M249.3 1140.6 L259.2 1172.4 L269.1 1147 L279.1 1143.8 L289 1172.4 L298.9 1140.6 L308.8 1150.1 L318.7 1134.2 L328.6 1131.1 L338.6 1140.6 L348.5 1150.1 L358.4 1153.3 L368.3 1159.7 L378.2 1162.9 L388.1 1143.8 L398.1 1147 L408 1156.5 L417.9 1159.7 L427.8 1147 L437.7 1147 L447.6 1140.6 L457.6 1137.4 L467.5 1134.2 L477.4 1150.1 L487.3 1143.8 L497.2 1153.3 L507.1 1156.5 L517.1 1116.4 L527 1185.1 L536.9 1102.4 L546.8 1112 L556.7 1134.2 L566.7 1140.6 L576.6 1150.1 L586.5 1169.2 L596.4 1178.8 L606.3 1159.7 L616.2 1137.4 L626.2 1197.9 L636.1 1182 L646 1182 L655.9 1185.1 L665.8 1188.3 L675.7 1197.9 L685.7 1185.1 L695.6 1185.1 L705.5 1178.8 L715.4 1166.1 L725.3 1166.1 L735.2 1172.4 L745.2 1223.3 L755.1 1261.5 L765 1401.4 L774.9 1398.3 L784.8 1382.4 L794.8 1369.6 L804.7 1363.3 L814.6 1312.4 L824.5 1318.7 L834.4 1306 L844.3 1299.7 L854.3 1306 L864.2 1293.3 L874.1 1293.3 L884 1280.6 L893.9 1318.7 L903.8 1331.5 L913.8 1356.9 L923.7 1376 L933.6 1407.8 L943.5 1420.5 L953.4 1433.3 L963.3 1420.5 L973.3 1426.9 L983.2 1414.2 L993.1 1433.3 L1003 1420.5 L1012.9 1420.5 L1022.8 1401.4 L1032.8 1382.4 L1042.7 1414.2 L1052.6 1420.5 L1062.5 1433.3 L1072.4 1414.2 L1082.4 1388.7 L1092.3 1376 L1102.2 1382.4 L1112.1 1388.7 L1122 1388.7 L1131.9 1344.2" stroke="#be4b48" stroke-width="7.5" fill="none" stroke-linejoin="round" stroke-linecap="round"/>
<path d="M236.4 1127.7h25.8v25.8h-25.8ZM246.3 1159.5h25.8v25.8h-25.8ZM256.2 1134.1h25.8v25.8h-25.8ZM266.2 1130.9h25.8v25.8h-25.8ZM276.1 1159.5h25.8v25.8h-25.8ZM286 1127.7h25.8v25.8h-25.8ZM295.9 1137.2h25.8v25.8h-25.8ZM305.8 1121.3h25.8v25.8h-25.8ZM315.7 1118.2h25.8v25.8h-25.8ZM325.7 1127.7h25.8v25.8h-25.8ZM335.6 1137.2h25.8v25.8h-25.8ZM345.5 1140.4h25.8v25.8h-25.8ZM355.4 1146.8h25.8v25.8h-25.8ZM365.3 1150h25.8v25.8h-25.8ZM375.2 1130.9h25.8v25.8h-25.8ZM385.2 1134.1h25.8v25.8h-25.8ZM395.1 1143.6h25.8v25.8h-25.8ZM405 1146.8h25.8v25.8h-25.8ZM414.9 1134.1h25.8v25.8h-25.8ZM424.8 1134.1h25.8v25.8h-25.8ZM434.7 1127.7h25.8v25.8h-25.8ZM444.7 1124.5h25.8v25.8h-25.8ZM454.6 1121.3h25.8v25.8h-25.8ZM464.5 1137.2h25.8v25.8h-25.8ZM474.4 1130.9h25.8v25.8h-25.8ZM484.3 1140.4h25.8v25.8h-25.8ZM494.2 1143.6h25.8v25.8h-25.8ZM504.2 1103.5h25.8v25.8h-25.8ZM514.1 1172.2h25.8v25.8h-25.8ZM524 1089.5h25.8v25.8h-25.8ZM533.9 1099.1h25.8v25.8h-25.8ZM543.8 1121.3h25.8v25.8h-25.8ZM553.8 1127.7h25.8v25.8h-25.8ZM563.7 1137.2h25.8v25.8h-25.8ZM573.6 1156.3h25.8v25.8h-25.8ZM583.5 1165.9h25.8v25.8h-25.8ZM593.4 1146.8h25.8v25.8h-25.8ZM603.3 1124.5h25.8v25.8h-25.8ZM613.3 1185h25.8v25.8h-25.8ZM623.2 1169.1h25.8v25.8h-25.8ZM633.1 1169.1h25.8v25.8h-25.8ZM643 1172.2h25.8v25.8h-25.8ZM652.9 1175.4h25.8v25.8h-25.8ZM662.8 1185h25.8v25.8h-25.8ZM672.8 1172.2h25.8v25.8h-25.8ZM682.7 1172.2h25.8v25.8h-25.8ZM692.6 1165.9h25.8v25.8h-25.8ZM702.5 1153.2h25.8v25.8h-25.8ZM712.4 1153.2h25.8v25.8h-25.8ZM722.3 1159.5h25.8v25.8h-25.8ZM732.3 1210.4h25.8v25.8h-25.8ZM742.2 1248.6h25.8v25.8h-25.8ZM752.1 1388.5h25.8v25.8h-25.8ZM762 1385.4h25.8v25.8h-25.8ZM771.9 1369.5h25.8v25.8h-25.8ZM781.9 1356.7h25.8v25.8h-25.8ZM791.8 1350.4h25.8v25.8h-25.8ZM801.7 1299.5h25.8v25.8h-25.8ZM811.6 1305.8h25.8v25.8h-25.8ZM821.5 1293.1h25.8v25.8h-25.8ZM831.4 1286.8h25.8v25.8h-25.8ZM841.4 1293.1h25.8v25.8h-25.8ZM851.3 1280.4h25.8v25.8h-25.8ZM861.2 1280.4h25.8v25.8h-25.8ZM871.1 1267.7h25.8v25.8h-25.8ZM881 1305.8h25.8v25.8h-25.8ZM890.9 1318.6h25.8v25.8h-25.8ZM900.9 1344h25.8v25.8h-25.8ZM910.8 1363.1h25.8v25.8h-25.8ZM920.7 1394.9h25.8v25.8h-25.8ZM930.6 1407.6h25.8v25.8h-25.8ZM940.5 1420.4h25.8v25.8h-25.8ZM950.4 1407.6h25.8v25.8h-25.8ZM960.4 1414h25.8v25.8h-25.8ZM970.3 1401.3h25.8v25.8h-25.8ZM980.2 1420.4h25.8v25.8h-25.8ZM990.1 1407.6h25.8v25.8h-25.8ZM1000 1407.6h25.8v25.8h-25.8ZM1009.9 1388.5h25.8v25.8h-25.8ZM1019.9 1369.5h25.8v25.8h-25.8ZM1029.8 1401.3h25.8v25.8h-25.8ZM1039.7 1407.6h25.8v25.8h-25.8ZM1049.6 1420.4h25.8v25.8h-25.8ZM1059.5 1401.3h25.8v25.8h-25.8ZM1069.5 1375.8h25.8v25.8h-25.8ZM1079.4 1363.1h25.8v25.8h-25.8ZM1089.3 1369.5h25.8v25.8h-25.8ZM1099.2 1375.8h25.8v25.8h-25.8ZM1109.1 1375.8h25.8v25.8h-25.8ZM1119 1331.3h25.8v25.8h-25.8Z" fill="#c0504d"/>
<path d="M249.3 1334 L259.2 1351.8 L269.1 1325.1 L279.1 1315.6 L289 1321.9 L298.9 1309.2 L308.8 1331.5 L318.7 1321.9 L328.6 1315.6 L338.6 1318.7 L348.5 1309.2 L358.4 1327.6 L368.3 1339.7 L378.2 1315.6 L388.1 1318.7 L398.1 1334 L408 1339.7 L417.9 1339.7 L427.8 1336.6 L437.7 1306 L447.6 1336.6 L457.6 1325.1 L467.5 1315.6 L477.4 1318.7 L487.3 1309.2 L497.2 1325.1 L507.1 1315.6 L517.1 1318.7 L527 1364.5 L536.9 1315.6 L546.8 1325.1 L556.7 1300.3 L566.7 1321.3 L576.6 1318.7 L586.5 1300.3 L596.4 1321.3 L606.3 1318.7 L616.2 1300.3 L626.2 1306 L636.1 1290.7 L646 1275.5 L655.9 1285 L665.8 1257 L675.7 1285 L685.7 1300.3 L695.6 1257 L705.5 1281.8 L715.4 1306 L725.3 1312.4 L735.2 1299.7 L745.2 1293.3 L755.1 1248.8 L765 1255.1 L774.9 1255.1 L784.8 1255.1 L794.8 1242.4 L804.7 1229.7 L814.6 1210.6 L824.5 1337.8 L834.4 1325.1 L844.3 1337.8 L854.3 1318.7 L864.2 1344.2 L874.1 1325.1 L884 1344.2 L893.9 1306 L903.8 1267.8 L913.8 1229.7 L923.7 1223.3 L933.6 1204.2 L943.5 1191.5 L953.4 1178.8 L963.3 1204.2 L973.3 1191.5 L983.2 1166.1 L993.1 1204.2 L1003 1204.2 L1012.9 1204.2 L1022.8 1229.7 L1032.8 1197.9 L1042.7 1204.2 L1052.6 1223.3 L1062.5 1216.9 L1072.4 1223.3 L1082.4 1223.3 L1092.3 1248.8 L1102.2 1236 L1112.1 1236 L1122 1236 L1131.9 1236" stroke="#98b954" stroke-width="7.5" fill="none" stroke-linejoin="round" stroke-linecap="round"/>
<path d="M249.3 1317L263.3 1345.5L235.3 1345.5ZM259.2 1334.8L273.2 1363.3L245.2 1363.3ZM269.1 1308.1L283.1 1336.6L255.1 1336.6ZM279.1 1298.6L293.1 1327.1L265.1 1327.1ZM289 1304.9L303 1333.4L275 1333.4ZM298.9 1292.2L312.9 1320.7L284.9 1320.7ZM308.8 1314.5L322.8 1343L294.8 1343ZM318.7 1304.9L332.7 1333.4L304.7 1333.4ZM328.6 1298.6L342.6 1327.1L314.6 1327.1ZM338.6 1301.7L352.6 1330.2L324.6 1330.2ZM348.5 1292.2L362.5 1320.7L334.5 1320.7ZM358.4 1310.6L372.4 1339.1L344.4 1339.1ZM368.3 1322.7L382.3 1351.2L354.3 1351.2ZM378.2 1298.6L392.2 1327.1L364.2 1327.1ZM388.1 1301.7L402.1 1330.2L374.1 1330.2ZM398.1 1317L412.1 1345.5L384.1 1345.5ZM408 1322.7L422 1351.2L394 1351.2ZM417.9 1322.7L431.9 1351.2L403.9 1351.2ZM427.8 1319.6L441.8 1348.1L413.8 1348.1ZM437.7 1289L451.7 1317.5L423.7 1317.5ZM447.6 1319.6L461.6 1348.1L433.6 1348.1ZM457.6 1308.1L471.6 1336.6L443.6 1336.6ZM467.5 1298.6L481.5 1327.1L453.5 1327.1ZM477.4 1301.7L491.4 1330.2L463.4 1330.2ZM487.3 1292.2L501.3 1320.7L473.3 1320.7ZM497.2 1308.1L511.2 1336.6L483.2 1336.6ZM507.1 1298.6L521.1 1327.1L493.1 1327.1ZM517.1 1301.7L531.1 1330.2L503.1 1330.2ZM527 1347.5L541 1376L513 1376ZM536.9 1298.6L550.9 1327.1L522.9 1327.1ZM546.8 1308.1L560.8 1336.6L532.8 1336.6ZM556.7 1283.3L570.7 1311.8L542.7 1311.8ZM566.7 1304.3L580.7 1332.8L552.7 1332.8ZM576.6 1301.7L590.6 1330.2L562.6 1330.2ZM586.5 1283.3L600.5 1311.8L572.5 1311.8ZM596.4 1304.3L610.4 1332.8L582.4 1332.8ZM606.3 1301.7L620.3 1330.2L592.3 1330.2ZM616.2 1283.3L630.2 1311.8L602.2 1311.8ZM626.2 1289L640.2 1317.5L612.2 1317.5ZM636.1 1273.7L650.1 1302.2L622.1 1302.2ZM646 1258.5L660 1287L632 1287ZM655.9 1268L669.9 1296.5L641.9 1296.5ZM665.8 1240L679.8 1268.5L651.8 1268.5ZM675.7 1268L689.7 1296.5L661.7 1296.5ZM685.7 1283.3L699.7 1311.8L671.7 1311.8ZM695.6 1240L709.6 1268.5L681.6 1268.5ZM705.5 1264.8L719.5 1293.3L691.5 1293.3ZM715.4 1289L729.4 1317.5L701.4 1317.5ZM725.3 1295.4L739.3 1323.9L711.3 1323.9ZM735.2 1282.7L749.2 1311.2L721.2 1311.2ZM745.2 1276.3L759.2 1304.8L731.2 1304.8ZM755.1 1231.8L769.1 1260.3L741.1 1260.3ZM765 1238.1L779 1266.6L751 1266.6ZM774.9 1238.1L788.9 1266.6L760.9 1266.6ZM784.8 1238.1L798.8 1266.6L770.8 1266.6ZM794.8 1225.4L808.8 1253.9L780.8 1253.9ZM804.7 1212.7L818.7 1241.2L790.7 1241.2ZM814.6 1193.6L828.6 1222.1L800.6 1222.1ZM824.5 1320.8L838.5 1349.3L810.5 1349.3ZM834.4 1308.1L848.4 1336.6L820.4 1336.6ZM844.3 1320.8L858.3 1349.3L830.3 1349.3ZM854.3 1301.7L868.3 1330.2L840.3 1330.2ZM864.2 1327.2L878.2 1355.7L850.2 1355.7ZM874.1 1308.1L888.1 1336.6L860.1 1336.6ZM884 1327.2L898 1355.7L870 1355.7ZM893.9 1289L907.9 1317.5L879.9 1317.5ZM903.8 1250.8L917.8 1279.3L889.8 1279.3ZM913.8 1212.7L927.8 1241.2L899.8 1241.2ZM923.7 1206.3L937.7 1234.8L909.7 1234.8ZM933.6 1187.2L947.6 1215.7L919.6 1215.7ZM943.5 1174.5L957.5 1203L929.5 1203ZM953.4 1161.8L967.4 1190.3L939.4 1190.3ZM963.3 1187.2L977.3 1215.7L949.3 1215.7ZM973.3 1174.5L987.3 1203L959.3 1203ZM983.2 1149.1L997.2 1177.6L969.2 1177.6ZM993.1 1187.2L1007.1 1215.7L979.1 1215.7ZM1003 1187.2L1017 1215.7L989 1215.7ZM1012.9 1187.2L1026.9 1215.7L998.9 1215.7ZM1022.8 1212.7L1036.8 1241.2L1008.8 1241.2ZM1032.8 1180.9L1046.8 1209.4L1018.8 1209.4ZM1042.7 1187.2L1056.7 1215.7L1028.7 1215.7ZM1052.6 1206.3L1066.6 1234.8L1038.6 1234.8ZM1062.5 1199.9L1076.5 1228.4L1048.5 1228.4ZM1072.4 1206.3L1086.4 1234.8L1058.4 1234.8ZM1082.4 1206.3L1096.4 1234.8L1068.4 1234.8ZM1092.3 1231.8L1106.3 1260.3L1078.3 1260.3ZM1102.2 1219L1116.2 1247.5L1088.2 1247.5ZM1112.1 1219L1126.1 1247.5L1098.1 1247.5ZM1122 1219L1136 1247.5L1108 1247.5ZM1131.9 1219L1145.9 1247.5L1117.9 1247.5Z" fill="#9bbb59"/>
<rect x="249.3" y="1100" width="267.7" height="450" fill="none" stroke="#2e5395" stroke-width="7.7" stroke-dasharray="7.7 5.2"/>
<rect x="817" y="1262" width="76.6" height="138" fill="none" stroke="#2e5395" stroke-width="7.7" stroke-dasharray="7.7 5.2"/>
<rect x="946.5" y="1143" width="159.5" height="331.7" fill="none" stroke="#2e5395" stroke-width="7.7" stroke-dasharray="7.7 5.2"/>
<line x1="1017" y1="988.2" x2="1083" y2="988.2" stroke="#4a7ebb" stroke-width="7.8" stroke-linecap="round"/>
<path d="M1047.8 975.8L1052.2 975.8L1062.4 986L1062.4 990.4L1052.2 1000.6L1047.8 1000.6L1037.6 990.4L1037.6 986Z" fill="#4f81bd"/>
<text x="1096" y="1001.2" font-size="35.5" text-anchor="start" textLength="98" lengthAdjust="spacingAndGlyphs" fill="#000">Al2O3</text>
<line x1="1017" y1="1045.5" x2="1083" y2="1045.5" stroke="#be4b48" stroke-width="7.8" stroke-linecap="round"/>
<rect x="1036.2" y="1031" width="27.7" height="29" fill="#c0504d"/>
<text x="1096" y="1058.5" font-size="35.5" text-anchor="start" textLength="108.5" lengthAdjust="spacingAndGlyphs" fill="#000">FeOtot</text>
<line x1="1017" y1="1100.7" x2="1083" y2="1100.7" stroke="#98b954" stroke-width="7.8" stroke-linecap="round"/>
<path d="M1050 1085.7L1064 1114.7L1036 1114.7Z" fill="#9bbb59"/>
<text x="1096" y="1113.7" font-size="35.5" text-anchor="start" textLength="76" lengthAdjust="spacingAndGlyphs" fill="#000">MgO</text>
<text transform="translate(137.5,1330) rotate(-90)" font-size="37" font-weight="bold" text-anchor="middle" textLength="82" lengthAdjust="spacingAndGlyphs">wt.%</text>
<text x="563.5" y="1805.5" font-size="45" text-anchor="start" font-weight="bold" textLength="308.5" lengthAdjust="spacingAndGlyphs" fill="#000">distance -r (μm)</text>
<path d="M1469.8 1007.2V1656.5M1456.8 1643.5H2398.3M1459.8 1643.5H1469.8M1459.8 1618H1469.8M1459.8 1592.6H1469.8M1459.8 1567.1H1469.8M1459.8 1541.7H1469.8M1459.8 1516.2H1469.8M1459.8 1490.8H1469.8M1459.8 1465.3H1469.8M1459.8 1439.9H1469.8M1459.8 1414.4H1469.8M1459.8 1389H1469.8M1459.8 1363.5H1469.8M1459.8 1338.1H1469.8M1459.8 1312.6H1469.8M1459.8 1287.2H1469.8M1459.8 1261.7H1469.8M1459.8 1236.3H1469.8M1459.8 1210.8H1469.8M1459.8 1185.4H1469.8M1459.8 1159.9H1469.8M1459.8 1134.5H1469.8M1459.8 1109H1469.8M1459.8 1083.6H1469.8M1459.8 1058.1H1469.8M1459.8 1032.7H1469.8M1459.8 1007.2H1469.8M1456.8 1643.5H1469.8M1456.8 1516.2H1469.8M1456.8 1389H1469.8M1456.8 1261.7H1469.8M1456.8 1134.5H1469.8M1456.8 1007.2H1469.8M1516.2 1643.5V1654M1562.7 1643.5V1654M1609.1 1643.5V1654M1655.5 1643.5V1654M1701.9 1643.5V1656.5M1748.3 1643.5V1654M1794.8 1643.5V1654M1841.2 1643.5V1654M1887.6 1643.5V1654M1934.1 1643.5V1656.5M1980.5 1643.5V1654M2026.9 1643.5V1654M2073.3 1643.5V1654M2119.8 1643.5V1654M2166.2 1643.5V1656.5M2212.6 1643.5V1654M2259 1643.5V1654M2305.4 1643.5V1654M2351.9 1643.5V1654M2398.3 1643.5V1656.5" stroke="#868686" stroke-width="3.4" fill="none"/>
<text x="1432.8" y="1656.5" font-size="36.5" text-anchor="end" textLength="48.8" lengthAdjust="spacingAndGlyphs" fill="#000">0.0</text>
<text x="1432.8" y="1529.2" font-size="36.5" text-anchor="end" textLength="48.8" lengthAdjust="spacingAndGlyphs" fill="#000">0.5</text>
<text x="1432.8" y="1402" font-size="36.5" text-anchor="end" textLength="48.8" lengthAdjust="spacingAndGlyphs" fill="#000">1.0</text>
<text x="1432.8" y="1274.7" font-size="36.5" text-anchor="end" textLength="48.8" lengthAdjust="spacingAndGlyphs" fill="#000">1.5</text>
<text x="1432.8" y="1147.5" font-size="36.5" text-anchor="end" textLength="48.8" lengthAdjust="spacingAndGlyphs" fill="#000">2.0</text>
<text x="1432.8" y="1020.2" font-size="36.5" text-anchor="end" textLength="48.8" lengthAdjust="spacingAndGlyphs" fill="#000">2.5</text>
<text x="1472.8" y="1724.5" font-size="36.5" text-anchor="middle" textLength="19.6" lengthAdjust="spacingAndGlyphs" fill="#000">0</text>
<text x="1704.9" y="1724.5" font-size="36.5" text-anchor="middle" textLength="39.2" lengthAdjust="spacingAndGlyphs" fill="#000">50</text>
<text x="1937.1" y="1724.5" font-size="36.5" text-anchor="middle" textLength="58.8" lengthAdjust="spacingAndGlyphs" fill="#000">100</text>
<text x="2169.2" y="1724.5" font-size="36.5" text-anchor="middle" textLength="58.8" lengthAdjust="spacingAndGlyphs" fill="#000">150</text>
<text x="2401.3" y="1724.5" font-size="36.5" text-anchor="middle" textLength="58.8" lengthAdjust="spacingAndGlyphs" fill="#000">200</text>
<text x="1539.4" y="1155.7" font-size="63" text-anchor="start" textLength="122" lengthAdjust="spacingAndGlyphs" fill="#000">core</text>
<text x="1889.5" y="1525" font-size="63" text-anchor="start" textLength="141.6" lengthAdjust="spacingAndGlyphs" fill="#000">rim 1</text>
<text x="2182" y="1352" font-size="63" text-anchor="start" textLength="144" lengthAdjust="spacingAndGlyphs" fill="#000">rim 2</text>
<path d="M1469.8 1243.9 L1479.7 1256.6 L1489.6 1292.3 L1499.5 1238.8 L1509.4 1274.4 L1519.2 1243.9 L1529.1 1256.6 L1539 1251.5 L1548.9 1249 L1558.8 1266.8 L1568.7 1256.6 L1578.6 1228.6 L1588.5 1274.4 L1598.4 1254.1 L1608.2 1249 L1618.1 1210.8 L1628 1243.9 L1637.9 1249 L1647.8 1277 L1657.7 1241.4 L1667.6 1249 L1677.5 1236.3 L1687.3 1226.1 L1697.2 1249 L1707.1 1277 L1717 1259.2 L1726.9 1251.5 L1736.8 1246.4 L1746.7 1259.2 L1756.6 1243.9 L1766.5 1256.6 L1776.3 1274.4 L1786.2 1249 L1796.1 1251.5 L1806 1261.7 L1815.9 1269.4 L1825.8 1266.8 L1835.7 1274.4 L1845.6 1266.8 L1855.5 1292.3 L1865.3 1287.2 L1875.2 1294.8 L1885.1 1302.4 L1895 1299.9 L1904.9 1305 L1914.8 1254.1 L1924.7 1266.8 L1934.6 1261.7 L1944.4 1236.3 L1954.3 1233.7 L1964.2 1243.9 L1974.1 1205.7 L1992.6 1058.1 L2000.9 1070.8 L2009.4 1096.3 L2016.5 1078.5 L2023.6 1088.6 L2033.4 1070.8 L2043.3 1063.2 L2053.2 1083.6 L2063.1 1065.7 L2073 1078.5 L2082.9 1070.8 L2092.8 1070.8 L2102.7 1088.6 L2112.6 1096.3 L2122.4 1121.7 L2132.3 1103.9 L2142.2 1088.6 L2152.1 1096.3 L2162 1083.6 L2171.9 1070.8 L2181.8 1045.4 L2191.7 1070.8 L2201.6 1088.6 L2211.4 1078.5 L2221.3 1083.6 L2231.2 1096.3 L2241.1 1088.6 L2251 1083.6 L2260.9 1063.2 L2270.8 1070.8 L2280.7 1078.5 L2290.5 1070.8 L2300.4 1078.5 L2310.3 1070.8 L2320.2 1083.6 L2330.1 1083.6 L2340 1078.5 L2349.9 1065.7" stroke="#4a7ebb" stroke-width="7.5" fill="none" stroke-linejoin="round" stroke-linecap="round"/>
<path d="M1467.6 1231.5L1472 1231.5L1482.2 1241.7L1482.2 1246.1L1472 1256.3L1467.6 1256.3L1457.4 1246.1L1457.4 1241.7ZM1477.5 1244.2L1481.9 1244.2L1492.1 1254.4L1492.1 1258.8L1481.9 1269L1477.5 1269L1467.3 1258.8L1467.3 1254.4ZM1487.4 1279.9L1491.8 1279.9L1502 1290.1L1502 1294.5L1491.8 1304.7L1487.4 1304.7L1477.2 1294.5L1477.2 1290.1ZM1497.3 1226.4L1501.7 1226.4L1511.9 1236.6L1511.9 1241L1501.7 1251.2L1497.3 1251.2L1487.1 1241L1487.1 1236.6ZM1507.2 1262L1511.6 1262L1521.8 1272.2L1521.8 1276.6L1511.6 1286.8L1507.2 1286.8L1497 1276.6L1497 1272.2ZM1517 1231.5L1521.4 1231.5L1531.6 1241.7L1531.6 1246.1L1521.4 1256.3L1517 1256.3L1506.8 1246.1L1506.8 1241.7ZM1526.9 1244.2L1531.3 1244.2L1541.5 1254.4L1541.5 1258.8L1531.3 1269L1526.9 1269L1516.7 1258.8L1516.7 1254.4ZM1536.8 1239.1L1541.2 1239.1L1551.4 1249.3L1551.4 1253.7L1541.2 1263.9L1536.8 1263.9L1526.6 1253.7L1526.6 1249.3ZM1546.7 1236.6L1551.1 1236.6L1561.3 1246.8L1561.3 1251.2L1551.1 1261.4L1546.7 1261.4L1536.5 1251.2L1536.5 1246.8ZM1556.6 1254.4L1561 1254.4L1571.2 1264.6L1571.2 1269L1561 1279.2L1556.6 1279.2L1546.4 1269L1546.4 1264.6ZM1566.5 1244.2L1570.9 1244.2L1581.1 1254.4L1581.1 1258.8L1570.9 1269L1566.5 1269L1556.3 1258.8L1556.3 1254.4ZM1576.4 1216.2L1580.8 1216.2L1591 1226.4L1591 1230.8L1580.8 1241L1576.4 1241L1566.2 1230.8L1566.2 1226.4ZM1586.3 1262L1590.7 1262L1600.9 1272.2L1600.9 1276.6L1590.7 1286.8L1586.3 1286.8L1576.1 1276.6L1576.1 1272.2ZM1596.2 1241.7L1600.6 1241.7L1610.8 1251.9L1610.8 1256.3L1600.6 1266.5L1596.2 1266.5L1586 1256.3L1586 1251.9ZM1606 1236.6L1610.4 1236.6L1620.6 1246.8L1620.6 1251.2L1610.4 1261.4L1606 1261.4L1595.8 1251.2L1595.8 1246.8ZM1615.9 1198.4L1620.3 1198.4L1630.5 1208.6L1630.5 1213L1620.3 1223.2L1615.9 1223.2L1605.7 1213L1605.7 1208.6ZM1625.8 1231.5L1630.2 1231.5L1640.4 1241.7L1640.4 1246.1L1630.2 1256.3L1625.8 1256.3L1615.6 1246.1L1615.6 1241.7ZM1635.7 1236.6L1640.1 1236.6L1650.3 1246.8L1650.3 1251.2L1640.1 1261.4L1635.7 1261.4L1625.5 1251.2L1625.5 1246.8ZM1645.6 1264.6L1650 1264.6L1660.2 1274.8L1660.2 1279.2L1650 1289.4L1645.6 1289.4L1635.4 1279.2L1635.4 1274.8ZM1655.5 1229L1659.9 1229L1670.1 1239.2L1670.1 1243.6L1659.9 1253.8L1655.5 1253.8L1645.3 1243.6L1645.3 1239.2ZM1665.4 1236.6L1669.8 1236.6L1680 1246.8L1680 1251.2L1669.8 1261.4L1665.4 1261.4L1655.2 1251.2L1655.2 1246.8ZM1675.3 1223.9L1679.7 1223.9L1689.9 1234.1L1689.9 1238.5L1679.7 1248.7L1675.3 1248.7L1665.1 1238.5L1665.1 1234.1ZM1685.1 1213.7L1689.5 1213.7L1699.7 1223.9L1699.7 1228.3L1689.5 1238.5L1685.1 1238.5L1674.9 1228.3L1674.9 1223.9ZM1695 1236.6L1699.4 1236.6L1709.6 1246.8L1709.6 1251.2L1699.4 1261.4L1695 1261.4L1684.8 1251.2L1684.8 1246.8ZM1704.9 1264.6L1709.3 1264.6L1719.5 1274.8L1719.5 1279.2L1709.3 1289.4L1704.9 1289.4L1694.7 1279.2L1694.7 1274.8ZM1714.8 1246.8L1719.2 1246.8L1729.4 1257L1729.4 1261.4L1719.2 1271.6L1714.8 1271.6L1704.6 1261.4L1704.6 1257ZM1724.7 1239.1L1729.1 1239.1L1739.3 1249.3L1739.3 1253.7L1729.1 1263.9L1724.7 1263.9L1714.5 1253.7L1714.5 1249.3ZM1734.6 1234L1739 1234L1749.2 1244.2L1749.2 1248.6L1739 1258.8L1734.6 1258.8L1724.4 1248.6L1724.4 1244.2ZM1744.5 1246.8L1748.9 1246.8L1759.1 1257L1759.1 1261.4L1748.9 1271.6L1744.5 1271.6L1734.3 1261.4L1734.3 1257ZM1754.4 1231.5L1758.8 1231.5L1769 1241.7L1769 1246.1L1758.8 1256.3L1754.4 1256.3L1744.2 1246.1L1744.2 1241.7ZM1764.3 1244.2L1768.7 1244.2L1778.9 1254.4L1778.9 1258.8L1768.7 1269L1764.3 1269L1754.1 1258.8L1754.1 1254.4ZM1774.1 1262L1778.5 1262L1788.7 1272.2L1788.7 1276.6L1778.5 1286.8L1774.1 1286.8L1763.9 1276.6L1763.9 1272.2ZM1784 1236.6L1788.4 1236.6L1798.6 1246.8L1798.6 1251.2L1788.4 1261.4L1784 1261.4L1773.8 1251.2L1773.8 1246.8ZM1793.9 1239.1L1798.3 1239.1L1808.5 1249.3L1808.5 1253.7L1798.3 1263.9L1793.9 1263.9L1783.7 1253.7L1783.7 1249.3ZM1803.8 1249.3L1808.2 1249.3L1818.4 1259.5L1818.4 1263.9L1808.2 1274.1L1803.8 1274.1L1793.6 1263.9L1793.6 1259.5ZM1813.7 1257L1818.1 1257L1828.3 1267.2L1828.3 1271.6L1818.1 1281.8L1813.7 1281.8L1803.5 1271.6L1803.5 1267.2ZM1823.6 1254.4L1828 1254.4L1838.2 1264.6L1838.2 1269L1828 1279.2L1823.6 1279.2L1813.4 1269L1813.4 1264.6ZM1833.5 1262L1837.9 1262L1848.1 1272.2L1848.1 1276.6L1837.9 1286.8L1833.5 1286.8L1823.3 1276.6L1823.3 1272.2ZM1843.4 1254.4L1847.8 1254.4L1858 1264.6L1858 1269L1847.8 1279.2L1843.4 1279.2L1833.2 1269L1833.2 1264.6ZM1853.3 1279.9L1857.7 1279.9L1867.9 1290.1L1867.9 1294.5L1857.7 1304.7L1853.3 1304.7L1843.1 1294.5L1843.1 1290.1ZM1863.1 1274.8L1867.5 1274.8L1877.7 1285L1877.7 1289.4L1867.5 1299.6L1863.1 1299.6L1852.9 1289.4L1852.9 1285ZM1873 1282.4L1877.4 1282.4L1887.6 1292.6L1887.6 1297L1877.4 1307.2L1873 1307.2L1862.8 1297L1862.8 1292.6ZM1882.9 1290L1887.3 1290L1897.5 1300.2L1897.5 1304.6L1887.3 1314.8L1882.9 1314.8L1872.7 1304.6L1872.7 1300.2ZM1892.8 1287.5L1897.2 1287.5L1907.4 1297.7L1907.4 1302.1L1897.2 1312.3L1892.8 1312.3L1882.6 1302.1L1882.6 1297.7ZM1902.7 1292.6L1907.1 1292.6L1917.3 1302.8L1917.3 1307.2L1907.1 1317.4L1902.7 1317.4L1892.5 1307.2L1892.5 1302.8ZM1912.6 1241.7L1917 1241.7L1927.2 1251.9L1927.2 1256.3L1917 1266.5L1912.6 1266.5L1902.4 1256.3L1902.4 1251.9ZM1922.5 1254.4L1926.9 1254.4L1937.1 1264.6L1937.1 1269L1926.9 1279.2L1922.5 1279.2L1912.3 1269L1912.3 1264.6ZM1932.4 1249.3L1936.8 1249.3L1947 1259.5L1947 1263.9L1936.8 1274.1L1932.4 1274.1L1922.2 1263.9L1922.2 1259.5ZM1942.2 1223.9L1946.6 1223.9L1956.8 1234.1L1956.8 1238.5L1946.6 1248.7L1942.2 1248.7L1932 1238.5L1932 1234.1ZM1952.1 1221.3L1956.5 1221.3L1966.7 1231.5L1966.7 1235.9L1956.5 1246.1L1952.1 1246.1L1941.9 1235.9L1941.9 1231.5ZM1962 1231.5L1966.4 1231.5L1976.6 1241.7L1976.6 1246.1L1966.4 1256.3L1962 1256.3L1951.8 1246.1L1951.8 1241.7ZM1971.9 1193.3L1976.3 1193.3L1986.5 1203.5L1986.5 1207.9L1976.3 1218.1L1971.9 1218.1L1961.7 1207.9L1961.7 1203.5ZM1990.4 1045.7L1994.8 1045.7L2005 1055.9L2005 1060.3L1994.8 1070.5L1990.4 1070.5L1980.2 1060.3L1980.2 1055.9ZM1998.7 1058.4L2003.1 1058.4L2013.3 1068.6L2013.3 1073L2003.1 1083.2L1998.7 1083.2L1988.5 1073L1988.5 1068.6ZM2007.2 1083.9L2011.6 1083.9L2021.8 1094.1L2021.8 1098.5L2011.6 1108.7L2007.2 1108.7L1997 1098.5L1997 1094.1ZM2014.3 1066.1L2018.7 1066.1L2028.9 1076.3L2028.9 1080.7L2018.7 1090.9L2014.3 1090.9L2004.1 1080.7L2004.1 1076.3ZM2021.4 1076.2L2025.8 1076.2L2036 1086.4L2036 1090.8L2025.8 1101L2021.4 1101L2011.2 1090.8L2011.2 1086.4ZM2031.2 1058.4L2035.6 1058.4L2045.8 1068.6L2045.8 1073L2035.6 1083.2L2031.2 1083.2L2021 1073L2021 1068.6ZM2041.1 1050.8L2045.5 1050.8L2055.7 1061L2055.7 1065.4L2045.5 1075.6L2041.1 1075.6L2030.9 1065.4L2030.9 1061ZM2051 1071.2L2055.4 1071.2L2065.6 1081.4L2065.6 1085.8L2055.4 1096L2051 1096L2040.8 1085.8L2040.8 1081.4ZM2060.9 1053.3L2065.3 1053.3L2075.5 1063.5L2075.5 1067.9L2065.3 1078.1L2060.9 1078.1L2050.7 1067.9L2050.7 1063.5ZM2070.8 1066.1L2075.2 1066.1L2085.4 1076.3L2085.4 1080.7L2075.2 1090.9L2070.8 1090.9L2060.6 1080.7L2060.6 1076.3ZM2080.7 1058.4L2085.1 1058.4L2095.3 1068.6L2095.3 1073L2085.1 1083.2L2080.7 1083.2L2070.5 1073L2070.5 1068.6ZM2090.6 1058.4L2095 1058.4L2105.2 1068.6L2105.2 1073L2095 1083.2L2090.6 1083.2L2080.4 1073L2080.4 1068.6ZM2100.5 1076.2L2104.9 1076.2L2115.1 1086.4L2115.1 1090.8L2104.9 1101L2100.5 1101L2090.3 1090.8L2090.3 1086.4ZM2110.4 1083.9L2114.8 1083.9L2125 1094.1L2125 1098.5L2114.8 1108.7L2110.4 1108.7L2100.2 1098.5L2100.2 1094.1ZM2120.2 1109.3L2124.6 1109.3L2134.8 1119.5L2134.8 1123.9L2124.6 1134.1L2120.2 1134.1L2110 1123.9L2110 1119.5ZM2130.1 1091.5L2134.5 1091.5L2144.7 1101.7L2144.7 1106.1L2134.5 1116.3L2130.1 1116.3L2119.9 1106.1L2119.9 1101.7ZM2140 1076.2L2144.4 1076.2L2154.6 1086.4L2154.6 1090.8L2144.4 1101L2140 1101L2129.8 1090.8L2129.8 1086.4ZM2149.9 1083.9L2154.3 1083.9L2164.5 1094.1L2164.5 1098.5L2154.3 1108.7L2149.9 1108.7L2139.7 1098.5L2139.7 1094.1ZM2159.8 1071.2L2164.2 1071.2L2174.4 1081.4L2174.4 1085.8L2164.2 1096L2159.8 1096L2149.6 1085.8L2149.6 1081.4ZM2169.7 1058.4L2174.1 1058.4L2184.3 1068.6L2184.3 1073L2174.1 1083.2L2169.7 1083.2L2159.5 1073L2159.5 1068.6ZM2179.6 1033L2184 1033L2194.2 1043.2L2194.2 1047.6L2184 1057.8L2179.6 1057.8L2169.4 1047.6L2169.4 1043.2ZM2189.5 1058.4L2193.9 1058.4L2204.1 1068.6L2204.1 1073L2193.9 1083.2L2189.5 1083.2L2179.3 1073L2179.3 1068.6ZM2199.4 1076.2L2203.8 1076.2L2214 1086.4L2214 1090.8L2203.8 1101L2199.4 1101L2189.2 1090.8L2189.2 1086.4ZM2209.2 1066.1L2213.6 1066.1L2223.8 1076.3L2223.8 1080.7L2213.6 1090.9L2209.2 1090.9L2199 1080.7L2199 1076.3ZM2219.1 1071.2L2223.5 1071.2L2233.7 1081.4L2233.7 1085.8L2223.5 1096L2219.1 1096L2208.9 1085.8L2208.9 1081.4ZM2229 1083.9L2233.4 1083.9L2243.6 1094.1L2243.6 1098.5L2233.4 1108.7L2229 1108.7L2218.8 1098.5L2218.8 1094.1ZM2238.9 1076.2L2243.3 1076.2L2253.5 1086.4L2253.5 1090.8L2243.3 1101L2238.9 1101L2228.7 1090.8L2228.7 1086.4ZM2248.8 1071.2L2253.2 1071.2L2263.4 1081.4L2263.4 1085.8L2253.2 1096L2248.8 1096L2238.6 1085.8L2238.6 1081.4ZM2258.7 1050.8L2263.1 1050.8L2273.3 1061L2273.3 1065.4L2263.1 1075.6L2258.7 1075.6L2248.5 1065.4L2248.5 1061ZM2268.6 1058.4L2273 1058.4L2283.2 1068.6L2283.2 1073L2273 1083.2L2268.6 1083.2L2258.4 1073L2258.4 1068.6ZM2278.5 1066.1L2282.9 1066.1L2293.1 1076.3L2293.1 1080.7L2282.9 1090.9L2278.5 1090.9L2268.3 1080.7L2268.3 1076.3ZM2288.3 1058.4L2292.7 1058.4L2302.9 1068.6L2302.9 1073L2292.7 1083.2L2288.3 1083.2L2278.1 1073L2278.1 1068.6ZM2298.2 1066.1L2302.6 1066.1L2312.8 1076.3L2312.8 1080.7L2302.6 1090.9L2298.2 1090.9L2288 1080.7L2288 1076.3ZM2308.1 1058.4L2312.5 1058.4L2322.7 1068.6L2322.7 1073L2312.5 1083.2L2308.1 1083.2L2297.9 1073L2297.9 1068.6ZM2318 1071.2L2322.4 1071.2L2332.6 1081.4L2332.6 1085.8L2322.4 1096L2318 1096L2307.8 1085.8L2307.8 1081.4ZM2327.9 1071.2L2332.3 1071.2L2342.5 1081.4L2342.5 1085.8L2332.3 1096L2327.9 1096L2317.7 1085.8L2317.7 1081.4ZM2337.8 1066.1L2342.2 1066.1L2352.4 1076.3L2352.4 1080.7L2342.2 1090.9L2337.8 1090.9L2327.6 1080.7L2327.6 1076.3ZM2347.7 1053.3L2352.1 1053.3L2362.3 1063.5L2362.3 1067.9L2352.1 1078.1L2347.7 1078.1L2337.5 1067.9L2337.5 1063.5Z" fill="#4f81bd"/>
<path d="M1469.8 1567.1 L1479.7 1562.1 L1489.6 1564.6 L1499.5 1559.5 L1509.4 1567.1 L1519.2 1557 L1529.1 1564.6 L1539 1567.1 L1548.9 1559.5 L1558.8 1562.1 L1568.7 1554.4 L1578.6 1559.5 L1588.5 1564.6 L1598.4 1562.1 L1608.2 1567.1 L1618.1 1557 L1628 1559.5 L1637.9 1554.4 L1647.8 1562.1 L1657.7 1564.6 L1667.6 1559.5 L1677.5 1557 L1687.3 1562.1 L1697.2 1564.6 L1707.1 1559.5 L1717 1567.1 L1726.9 1562.1 L1736.8 1564.6 L1746.7 1567.1 L1756.6 1564.6 L1766.5 1567.1 L1776.3 1559.5 L1786.2 1554.4 L1796.1 1567.1 L1806 1569.7 L1815.9 1572.2 L1825.8 1567.1 L1835.7 1574.8 L1845.6 1577.3 L1855.5 1572.2 L1865.3 1579.9 L1875.2 1582.4 L1885.1 1587.5 L1895 1579.9 L1904.9 1587.5 L1914.8 1585 L1924.7 1577.3 L1934.6 1572.2 L1944.4 1567.1 L1954.3 1579.9 L1964.2 1582.4 L1974.1 1572.2 L1984 1567.1 L1993.9 1572.2 L2003.8 1574.8 L2013.7 1567.1 L2023.6 1557 L2033.4 1551.9 L2043.3 1554.4 L2053.2 1549.3 L2063.1 1546.8 L2073 1551.9 L2082.9 1549.3 L2092.8 1554.4 L2102.7 1559.5 L2112.6 1557 L2122.4 1562.1 L2132.3 1567.1 L2142.2 1564.6 L2152.1 1567.1 L2162 1562.1 L2171.9 1564.6 L2181.8 1567.1 L2191.7 1562.1 L2201.6 1567.1 L2211.4 1564.6 L2221.3 1562.1 L2231.2 1567.1 L2241.1 1564.6 L2251 1567.1 L2260.9 1564.6 L2270.8 1569.7 L2280.7 1567.1 L2290.5 1564.6 L2300.4 1562.1 L2310.3 1559.5 L2320.2 1559.5 L2330.1 1557 L2340 1559.5 L2349.9 1559.5" stroke="#be4b48" stroke-width="7.5" fill="none" stroke-linejoin="round" stroke-linecap="round"/>
<path d="M1456.9 1554.2h25.8v25.8h-25.8ZM1466.8 1549.2h25.8v25.8h-25.8ZM1476.7 1551.7h25.8v25.8h-25.8ZM1486.6 1546.6h25.8v25.8h-25.8ZM1496.5 1554.2h25.8v25.8h-25.8ZM1506.3 1544.1h25.8v25.8h-25.8ZM1516.2 1551.7h25.8v25.8h-25.8ZM1526.1 1554.2h25.8v25.8h-25.8ZM1536 1546.6h25.8v25.8h-25.8ZM1545.9 1549.2h25.8v25.8h-25.8ZM1555.8 1541.5h25.8v25.8h-25.8ZM1565.7 1546.6h25.8v25.8h-25.8ZM1575.6 1551.7h25.8v25.8h-25.8ZM1585.5 1549.2h25.8v25.8h-25.8ZM1595.3 1554.2h25.8v25.8h-25.8ZM1605.2 1544.1h25.8v25.8h-25.8ZM1615.1 1546.6h25.8v25.8h-25.8ZM1625 1541.5h25.8v25.8h-25.8ZM1634.9 1549.2h25.8v25.8h-25.8ZM1644.8 1551.7h25.8v25.8h-25.8ZM1654.7 1546.6h25.8v25.8h-25.8ZM1664.6 1544.1h25.8v25.8h-25.8ZM1674.4 1549.2h25.8v25.8h-25.8ZM1684.3 1551.7h25.8v25.8h-25.8ZM1694.2 1546.6h25.8v25.8h-25.8ZM1704.1 1554.2h25.8v25.8h-25.8ZM1714 1549.2h25.8v25.8h-25.8ZM1723.9 1551.7h25.8v25.8h-25.8ZM1733.8 1554.2h25.8v25.8h-25.8ZM1743.7 1551.7h25.8v25.8h-25.8ZM1753.6 1554.2h25.8v25.8h-25.8ZM1763.4 1546.6h25.8v25.8h-25.8ZM1773.3 1541.5h25.8v25.8h-25.8ZM1783.2 1554.2h25.8v25.8h-25.8ZM1793.1 1556.8h25.8v25.8h-25.8ZM1803 1559.3h25.8v25.8h-25.8ZM1812.9 1554.2h25.8v25.8h-25.8ZM1822.8 1561.9h25.8v25.8h-25.8ZM1832.7 1564.4h25.8v25.8h-25.8ZM1842.6 1559.3h25.8v25.8h-25.8ZM1852.4 1567h25.8v25.8h-25.8ZM1862.3 1569.5h25.8v25.8h-25.8ZM1872.2 1574.6h25.8v25.8h-25.8ZM1882.1 1567h25.8v25.8h-25.8ZM1892 1574.6h25.8v25.8h-25.8ZM1901.9 1572.1h25.8v25.8h-25.8ZM1911.8 1564.4h25.8v25.8h-25.8ZM1921.7 1559.3h25.8v25.8h-25.8ZM1931.5 1554.2h25.8v25.8h-25.8ZM1941.4 1567h25.8v25.8h-25.8ZM1951.3 1569.5h25.8v25.8h-25.8ZM1961.2 1559.3h25.8v25.8h-25.8ZM1971.1 1554.2h25.8v25.8h-25.8ZM1981 1559.3h25.8v25.8h-25.8ZM1990.9 1561.9h25.8v25.8h-25.8ZM2000.8 1554.2h25.8v25.8h-25.8ZM2010.7 1544.1h25.8v25.8h-25.8ZM2020.5 1539h25.8v25.8h-25.8ZM2030.4 1541.5h25.8v25.8h-25.8ZM2040.3 1536.4h25.8v25.8h-25.8ZM2050.2 1533.9h25.8v25.8h-25.8ZM2060.1 1539h25.8v25.8h-25.8ZM2070 1536.4h25.8v25.8h-25.8ZM2079.9 1541.5h25.8v25.8h-25.8ZM2089.8 1546.6h25.8v25.8h-25.8ZM2099.7 1544.1h25.8v25.8h-25.8ZM2109.5 1549.2h25.8v25.8h-25.8ZM2119.4 1554.2h25.8v25.8h-25.8ZM2129.3 1551.7h25.8v25.8h-25.8ZM2139.2 1554.2h25.8v25.8h-25.8ZM2149.1 1549.2h25.8v25.8h-25.8ZM2159 1551.7h25.8v25.8h-25.8ZM2168.9 1554.2h25.8v25.8h-25.8ZM2178.8 1549.2h25.8v25.8h-25.8ZM2188.7 1554.2h25.8v25.8h-25.8ZM2198.5 1551.7h25.8v25.8h-25.8ZM2208.4 1549.2h25.8v25.8h-25.8ZM2218.3 1554.2h25.8v25.8h-25.8ZM2228.2 1551.7h25.8v25.8h-25.8ZM2238.1 1554.2h25.8v25.8h-25.8ZM2248 1551.7h25.8v25.8h-25.8ZM2257.9 1556.8h25.8v25.8h-25.8ZM2267.8 1554.2h25.8v25.8h-25.8ZM2277.6 1551.7h25.8v25.8h-25.8ZM2287.5 1549.2h25.8v25.8h-25.8ZM2297.4 1546.6h25.8v25.8h-25.8ZM2307.3 1546.6h25.8v25.8h-25.8ZM2317.2 1544.1h25.8v25.8h-25.8ZM2327.1 1546.6h25.8v25.8h-25.8ZM2337 1546.6h25.8v25.8h-25.8Z" fill="#c0504d"/>
<path d="M1469.8 1376.3 L1479.7 1376.3 L1489.6 1381.3 L1499.5 1371.2 L1509.4 1376.3 L1519.2 1368.6 L1529.1 1373.7 L1539 1381.3 L1548.9 1389 L1558.8 1368.6 L1568.7 1363.5 L1578.6 1368.6 L1588.5 1363.5 L1598.4 1371.2 L1608.2 1363.5 L1618.1 1358.4 L1628 1368.6 L1637.9 1363.5 L1647.8 1373.7 L1657.7 1363.5 L1667.6 1363.5 L1677.5 1358.4 L1687.3 1350.8 L1697.2 1355.9 L1707.1 1363.5 L1717 1371.2 L1726.9 1383.9 L1736.8 1376.3 L1746.7 1383.9 L1756.6 1381.3 L1766.5 1376.3 L1776.3 1383.9 L1786.2 1376.3 L1796.1 1371.2 L1806 1389 L1815.9 1383.9 L1825.8 1406.8 L1835.7 1401.7 L1845.6 1409.3 L1855.5 1401.7 L1865.3 1409.3 L1875.2 1406.8 L1885.1 1427.2 L1895 1414.4 L1904.9 1422.1 L1914.8 1427.2 L1924.7 1419.5 L1934.6 1406.8 L1944.4 1396.6 L1954.3 1406.8 L1964.2 1401.7 L1974.1 1368.6 L1992.6 1134.5 L2000.9 1114.1 L2009.4 1096.3 L2016.5 1088.6 L2023.6 1096.3 L2033.4 1121.7 L2043.3 1116.6 L2053.2 1103.9 L2063.1 1096.3 L2073 1088.6 L2082.9 1078.5 L2092.8 1070.8 L2102.7 1101.4 L2112.6 1109 L2122.4 1116.6 L2132.3 1096.3 L2142.2 1103.9 L2152.1 1083.6 L2162 1078.5 L2171.9 1078.5 L2181.8 1083.6 L2191.7 1088.6 L2201.6 1091.2 L2211.4 1083.6 L2221.3 1103.9 L2231.2 1109 L2241.1 1116.6 L2251 1091.2 L2260.9 1096.3 L2270.8 1078.5 L2280.7 1070.8 L2290.5 1083.6 L2300.4 1091.2 L2310.3 1083.6 L2320.2 1091.2 L2330.1 1096.3 L2340 1109 L2349.9 1129.4" stroke="#98b954" stroke-width="7.5" fill="none" stroke-linejoin="round" stroke-linecap="round"/>
<path d="M1469.8 1359.3L1483.8 1387.8L1455.8 1387.8ZM1479.7 1359.3L1493.7 1387.8L1465.7 1387.8ZM1489.6 1364.3L1503.6 1392.8L1475.6 1392.8ZM1499.5 1354.2L1513.5 1382.7L1485.5 1382.7ZM1509.4 1359.3L1523.4 1387.8L1495.4 1387.8ZM1519.2 1351.6L1533.2 1380.1L1505.2 1380.1ZM1529.1 1356.7L1543.1 1385.2L1515.1 1385.2ZM1539 1364.3L1553 1392.8L1525 1392.8ZM1548.9 1372L1562.9 1400.5L1534.9 1400.5ZM1558.8 1351.6L1572.8 1380.1L1544.8 1380.1ZM1568.7 1346.5L1582.7 1375L1554.7 1375ZM1578.6 1351.6L1592.6 1380.1L1564.6 1380.1ZM1588.5 1346.5L1602.5 1375L1574.5 1375ZM1598.4 1354.2L1612.4 1382.7L1584.4 1382.7ZM1608.2 1346.5L1622.2 1375L1594.2 1375ZM1618.1 1341.4L1632.1 1369.9L1604.1 1369.9ZM1628 1351.6L1642 1380.1L1614 1380.1ZM1637.9 1346.5L1651.9 1375L1623.9 1375ZM1647.8 1356.7L1661.8 1385.2L1633.8 1385.2ZM1657.7 1346.5L1671.7 1375L1643.7 1375ZM1667.6 1346.5L1681.6 1375L1653.6 1375ZM1677.5 1341.4L1691.5 1369.9L1663.5 1369.9ZM1687.3 1333.8L1701.3 1362.3L1673.3 1362.3ZM1697.2 1338.9L1711.2 1367.4L1683.2 1367.4ZM1707.1 1346.5L1721.1 1375L1693.1 1375ZM1717 1354.2L1731 1382.7L1703 1382.7ZM1726.9 1366.9L1740.9 1395.4L1712.9 1395.4ZM1736.8 1359.3L1750.8 1387.8L1722.8 1387.8ZM1746.7 1366.9L1760.7 1395.4L1732.7 1395.4ZM1756.6 1364.3L1770.6 1392.8L1742.6 1392.8ZM1766.5 1359.3L1780.5 1387.8L1752.5 1387.8ZM1776.3 1366.9L1790.3 1395.4L1762.3 1395.4ZM1786.2 1359.3L1800.2 1387.8L1772.2 1387.8ZM1796.1 1354.2L1810.1 1382.7L1782.1 1382.7ZM1806 1372L1820 1400.5L1792 1400.5ZM1815.9 1366.9L1829.9 1395.4L1801.9 1395.4ZM1825.8 1389.8L1839.8 1418.3L1811.8 1418.3ZM1835.7 1384.7L1849.7 1413.2L1821.7 1413.2ZM1845.6 1392.3L1859.6 1420.8L1831.6 1420.8ZM1855.5 1384.7L1869.5 1413.2L1841.5 1413.2ZM1865.3 1392.3L1879.3 1420.8L1851.3 1420.8ZM1875.2 1389.8L1889.2 1418.3L1861.2 1418.3ZM1885.1 1410.2L1899.1 1438.7L1871.1 1438.7ZM1895 1397.4L1909 1425.9L1881 1425.9ZM1904.9 1405.1L1918.9 1433.6L1890.9 1433.6ZM1914.8 1410.2L1928.8 1438.7L1900.8 1438.7ZM1924.7 1402.5L1938.7 1431L1910.7 1431ZM1934.6 1389.8L1948.6 1418.3L1920.6 1418.3ZM1944.4 1379.6L1958.4 1408.1L1930.4 1408.1ZM1954.3 1389.8L1968.3 1418.3L1940.3 1418.3ZM1964.2 1384.7L1978.2 1413.2L1950.2 1413.2ZM1974.1 1351.6L1988.1 1380.1L1960.1 1380.1ZM1992.6 1117.5L2006.6 1146L1978.6 1146ZM2000.9 1097.1L2014.9 1125.6L1986.9 1125.6ZM2009.4 1079.3L2023.4 1107.8L1995.4 1107.8ZM2016.5 1071.6L2030.5 1100.1L2002.5 1100.1ZM2023.6 1079.3L2037.6 1107.8L2009.6 1107.8ZM2033.4 1104.7L2047.4 1133.2L2019.4 1133.2ZM2043.3 1099.6L2057.3 1128.1L2029.3 1128.1ZM2053.2 1086.9L2067.2 1115.4L2039.2 1115.4ZM2063.1 1079.3L2077.1 1107.8L2049.1 1107.8ZM2073 1071.6L2087 1100.1L2059 1100.1ZM2082.9 1061.5L2096.9 1090L2068.9 1090ZM2092.8 1053.8L2106.8 1082.3L2078.8 1082.3ZM2102.7 1084.4L2116.7 1112.9L2088.7 1112.9ZM2112.6 1092L2126.6 1120.5L2098.6 1120.5ZM2122.4 1099.6L2136.4 1128.1L2108.4 1128.1ZM2132.3 1079.3L2146.3 1107.8L2118.3 1107.8ZM2142.2 1086.9L2156.2 1115.4L2128.2 1115.4ZM2152.1 1066.6L2166.1 1095.1L2138.1 1095.1ZM2162 1061.5L2176 1090L2148 1090ZM2171.9 1061.5L2185.9 1090L2157.9 1090ZM2181.8 1066.6L2195.8 1095.1L2167.8 1095.1ZM2191.7 1071.6L2205.7 1100.1L2177.7 1100.1ZM2201.6 1074.2L2215.6 1102.7L2187.6 1102.7ZM2211.4 1066.6L2225.4 1095.1L2197.4 1095.1ZM2221.3 1086.9L2235.3 1115.4L2207.3 1115.4ZM2231.2 1092L2245.2 1120.5L2217.2 1120.5ZM2241.1 1099.6L2255.1 1128.1L2227.1 1128.1ZM2251 1074.2L2265 1102.7L2237 1102.7ZM2260.9 1079.3L2274.9 1107.8L2246.9 1107.8ZM2270.8 1061.5L2284.8 1090L2256.8 1090ZM2280.7 1053.8L2294.7 1082.3L2266.7 1082.3ZM2290.5 1066.6L2304.5 1095.1L2276.5 1095.1ZM2300.4 1074.2L2314.4 1102.7L2286.4 1102.7ZM2310.3 1066.6L2324.3 1095.1L2296.3 1095.1ZM2320.2 1074.2L2334.2 1102.7L2306.2 1102.7ZM2330.1 1079.3L2344.1 1107.8L2316.1 1107.8ZM2340 1092L2354 1120.5L2326 1120.5ZM2349.9 1112.4L2363.9 1140.9L2335.9 1140.9Z" fill="#9bbb59"/>
<rect x="1470" y="1187" width="267" height="420" fill="none" stroke="#2e5395" stroke-width="7.7" stroke-dasharray="7.7 5.2"/>
<rect x="2034" y="1030.5" width="78" height="568.5" fill="none" stroke="#2e5395" stroke-width="7.7" stroke-dasharray="7.7 5.2"/>
<rect x="2166.5" y="1030.5" width="158.5" height="568.5" fill="none" stroke="#2e5395" stroke-width="7.7" stroke-dasharray="7.7 5.2"/>
<line x1="1763" y1="988.2" x2="1829" y2="988.2" stroke="#4a7ebb" stroke-width="7.8" stroke-linecap="round"/>
<path d="M1793.8 975.8L1798.2 975.8L1808.4 986L1808.4 990.4L1798.2 1000.6L1793.8 1000.6L1783.6 990.4L1783.6 986Z" fill="#4f81bd"/>
<text x="1842" y="1001.2" font-size="35.5" text-anchor="start" textLength="90" lengthAdjust="spacingAndGlyphs" fill="#000">Na2O</text>
<line x1="1763" y1="1045.5" x2="1829" y2="1045.5" stroke="#be4b48" stroke-width="7.8" stroke-linecap="round"/>
<rect x="1782.2" y="1031" width="27.7" height="29" fill="#c0504d"/>
<text x="1842" y="1058.5" font-size="35.5" text-anchor="start" textLength="65" lengthAdjust="spacingAndGlyphs" fill="#000">K2O</text>
<line x1="1763" y1="1100.7" x2="1829" y2="1100.7" stroke="#98b954" stroke-width="7.8" stroke-linecap="round"/>
<path d="M1796 1085.7L1810 1114.7L1782 1114.7Z" fill="#9bbb59"/>
<text x="1842" y="1113.7" font-size="35.5" text-anchor="start" textLength="80" lengthAdjust="spacingAndGlyphs" fill="#000">TiO2</text>
<text transform="translate(1346,1330) rotate(-90)" font-size="44" font-weight="bold" text-anchor="middle" textLength="100" lengthAdjust="spacingAndGlyphs">wt.%</text>
<text x="1773" y="1807" font-size="45" text-anchor="start" font-weight="bold" textLength="330" lengthAdjust="spacingAndGlyphs" fill="#000">distance c-r (μm)</text>
<path d="M251.8 1920V2564.4M238.8 2551.4H1180.4M241.8 2551.4H251.8M241.8 2523.3H251.8M241.8 2495.3H251.8M241.8 2467.2H251.8M241.8 2439.2H251.8M241.8 2411.1H251.8M241.8 2383H251.8M241.8 2355H251.8M241.8 2326.9H251.8M241.8 2298.8H251.8M241.8 2270.8H251.8M241.8 2242.7H251.8M241.8 2214.7H251.8M241.8 2186.6H251.8M241.8 2158.5H251.8M241.8 2130.5H251.8M241.8 2102.4H251.8M241.8 2074.3H251.8M241.8 2046.3H251.8M241.8 2018.2H251.8M241.8 1990.2H251.8M241.8 1962.1H251.8M241.8 1934H251.8M238.8 2551.4H251.8M238.8 2411.1H251.8M238.8 2270.8H251.8M238.8 2130.5H251.8M238.8 1990.2H251.8M298.2 2551.4V2561.9M344.7 2551.4V2561.9M391.1 2551.4V2561.9M437.5 2551.4V2561.9M484 2551.4V2564.4M530.4 2551.4V2561.9M576.8 2551.4V2561.9M623.2 2551.4V2561.9M669.7 2551.4V2561.9M716.1 2551.4V2564.4M762.5 2551.4V2561.9M809 2551.4V2561.9M855.4 2551.4V2561.9M901.8 2551.4V2561.9M948.3 2551.4V2564.4M994.7 2551.4V2561.9M1041.1 2551.4V2561.9M1087.5 2551.4V2561.9M1134 2551.4V2561.9M1180.4 2551.4V2564.4" stroke="#868686" stroke-width="3.4" fill="none"/>
<text x="214.8" y="2564.4" font-size="36.5" text-anchor="end" textLength="58.8" lengthAdjust="spacingAndGlyphs" fill="#000">150</text>
<text x="214.8" y="2424.1" font-size="36.5" text-anchor="end" textLength="58.8" lengthAdjust="spacingAndGlyphs" fill="#000">250</text>
<text x="214.8" y="2283.8" font-size="36.5" text-anchor="end" textLength="58.8" lengthAdjust="spacingAndGlyphs" fill="#000">350</text>
<text x="214.8" y="2143.5" font-size="36.5" text-anchor="end" textLength="58.8" lengthAdjust="spacingAndGlyphs" fill="#000">450</text>
<text x="214.8" y="2003.2" font-size="36.5" text-anchor="end" textLength="58.8" lengthAdjust="spacingAndGlyphs" fill="#000">550</text>
<text x="254.8" y="2632.4" font-size="36.5" text-anchor="middle" textLength="19.6" lengthAdjust="spacingAndGlyphs" fill="#000">0</text>
<text x="487" y="2632.4" font-size="36.5" text-anchor="middle" textLength="39.2" lengthAdjust="spacingAndGlyphs" fill="#000">50</text>
<text x="719.1" y="2632.4" font-size="36.5" text-anchor="middle" textLength="58.8" lengthAdjust="spacingAndGlyphs" fill="#000">100</text>
<text x="951.3" y="2632.4" font-size="36.5" text-anchor="middle" textLength="58.8" lengthAdjust="spacingAndGlyphs" fill="#000">150</text>
<text x="1183.4" y="2632.4" font-size="36.5" text-anchor="middle" textLength="58.8" lengthAdjust="spacingAndGlyphs" fill="#000">200</text>
<text x="339" y="2187.4" font-size="63" text-anchor="start" textLength="122" lengthAdjust="spacingAndGlyphs" fill="#000">core</text>
<text x="802.5" y="1942" font-size="63" text-anchor="start" textLength="141.6" lengthAdjust="spacingAndGlyphs" fill="#000">rim 1</text>
<text x="977" y="2492" font-size="63" text-anchor="start" textLength="144" lengthAdjust="spacingAndGlyphs" fill="#000">rim 2</text>
<path d="M251.8 2307.3V2408.3M243.8 2307.3h16M243.8 2408.3h16M261.6 2255.5V2368M253.6 2255.5h16M253.6 2368h16M271.3 2266.7V2376.7M263.3 2266.7h16M263.3 2376.7h16M281.5 2263.1V2373.9M273.5 2263.1h16M273.5 2373.9h16M291.3 2259.1V2370.8M283.3 2259.1h16M283.3 2370.8h16M301.5 2268.6V2378.2M293.5 2268.6h16M293.5 2378.2h16M309.8 2255.5V2368M301.8 2255.5h16M301.8 2368h16M319.6 2289.1V2394.2M311.6 2289.1h16M311.6 2394.2h16M329.8 2263.1V2373.9M321.8 2263.1h16M321.8 2373.9h16M339.6 2293.1V2397.2M331.6 2293.1h16M331.6 2397.2h16M349.3 2263.1V2373.9M341.3 2263.1h16M341.3 2373.9h16M359.5 2293.1V2397.2M351.5 2293.1h16M351.5 2397.2h16M369.3 2274.1V2382.5M361.3 2274.1h16M361.3 2382.5h16M379.5 2277.9V2385.4M371.5 2277.9h16M371.5 2385.4h16M389.2 2285.3V2391.2M381.2 2285.3h16M381.2 2391.2h16M399 2281.5V2388.3M391 2281.5h16M391 2388.3h16M409.2 2270.3V2379.6M401.2 2270.3h16M401.2 2379.6h16M418.9 2274.1V2382.5M410.9 2274.1h16M410.9 2382.5h16M429.2 2293.1V2397.2M421.2 2293.1h16M421.2 2397.2h16M438.9 2285.2V2391.1M430.9 2285.2h16M430.9 2391.1h16M449.1 2270.3V2379.6M441.1 2270.3h16M441.1 2379.6h16M458.9 2282V2388.6M450.9 2282h16M450.9 2388.6h16M468.6 2263.1V2373.9M460.6 2263.1h16M460.6 2373.9h16M478.8 2244.1V2359.2M470.8 2244.1h16M470.8 2359.2h16M488.6 2263.1V2373.9M480.6 2263.1h16M480.6 2373.9h16M498.8 2285.2V2391.1M490.8 2285.2h16M490.8 2391.1h16M508.6 2285.2V2391.1M500.6 2285.2h16M500.6 2391.1h16M518.8 2300.3V2402.9M510.8 2300.3h16M510.8 2402.9h16M526.7 2247.9V2362.1M518.7 2247.9h16M518.7 2362.1h16M538.3 2296.2V2399.7M530.3 2296.2h16M530.3 2399.7h16M548.5 2311.4V2411.5M540.5 2311.4h16M540.5 2411.5h16M558.2 2274.1V2382.5M550.2 2274.1h16M550.2 2382.5h16M568.5 2285.2V2391.1M560.5 2285.2h16M560.5 2391.1h16M578.2 2315.2V2414.4M570.2 2315.2h16M570.2 2414.4h16M588.4 2300.3V2402.9M580.4 2300.3h16M580.4 2402.9h16M598.2 2311.4V2411.5M590.2 2311.4h16M590.2 2411.5h16M608.4 2309.6V2410.1M600.4 2309.6h16M600.4 2410.1h16M618.1 2330V2426M610.1 2330h16M610.1 2426h16M627.9 2345.1V2437.7M619.9 2345.1h16M619.9 2437.7h16M638.1 2337.6V2431.9M630.1 2337.6h16M630.1 2431.9h16M647.8 2363.6V2452.1M639.8 2363.6h16M639.8 2452.1h16M658.1 2375.1V2461.1M650.1 2375.1h16M650.1 2461.1h16M666.4 2400.9V2481.1M658.4 2400.9h16M658.4 2481.1h16M685.9 2400.9V2481.1M677.9 2400.9h16M677.9 2481.1h16M694.3 2378.3V2463.5M686.3 2378.3h16M686.3 2463.5h16M705.9 2334.1V2429.2M697.9 2334.1h16M697.9 2429.2h16M716.1 2343.6V2436.5M708.1 2343.6h16M708.1 2436.5h16M726.3 2249.3V2363.2M718.3 2249.3h16M718.3 2363.2h16M736.5 2288.3V2393.6M728.5 2288.3h16M728.5 2393.6h16M747.7 2282V2388.6M739.7 2282h16M739.7 2388.6h16M756.5 2277.3V2385M748.5 2277.3h16M748.5 2385h16M774.6 2141.5V2279.4M766.6 2141.5h16M766.6 2279.4h16M785.3 2146.3V2283.1M777.3 2146.3h16M777.3 2283.1h16M796.4 2143.1V2280.6M788.4 2143.1h16M788.4 2280.6h16M815.9 2126.2V2267.5M807.9 2126.2h16M807.9 2267.5h16M826.1 2084.7V2235.2M818.1 2084.7h16M818.1 2235.2h16M835.9 2051.5V2209.4M827.9 2051.5h16M827.9 2209.4h16M844.2 1980.5V2154.1M836.2 1980.5h16M836.2 2154.1h16M854 2057.9V2214.3M846 2057.9h16M846 2214.3h16M864.2 2003.1V2171.7M856.2 2003.1h16M856.2 2171.7h16M874 2046V2205.1M866 2046h16M866 2205.1h16M884.2 2034.8V2196.4M876.2 2034.8h16M876.2 2196.4h16M899 2050V2208.2M891 2050h16M891 2208.2h16M902.3 2105.7V2251.5M894.3 2105.7h16M894.3 2251.5h16M915.7 2121V2263.4M907.7 2121h16M907.7 2263.4h16M924.1 2173.1V2303.9M916.1 2173.1h16M916.1 2303.9h16M953.8 2157.9V2292.1M945.8 2157.9h16M945.8 2292.1h16M965.4 2143.1V2280.6M957.4 2143.1h16M957.4 2280.6h16M975.2 2173.1V2303.9M967.2 2173.1h16M967.2 2303.9h16M983.5 2165.4V2297.9M975.5 2165.4h16M975.5 2297.9h16M993.3 2128.1V2268.9M985.3 2128.1h16M985.3 2268.9h16M1003.5 2143.1V2280.6M995.5 2143.1h16M995.5 2280.6h16M1013.3 2184.1V2312.5M1005.3 2184.1h16M1005.3 2312.5h16M1023.5 2195.2V2321.1M1015.5 2195.2h16M1015.5 2321.1h16M1033.2 2184.1V2312.5M1025.2 2184.1h16M1025.2 2312.5h16M1043.4 2162V2295.3M1035.4 2162h16M1035.4 2295.3h16M1053.2 2151V2286.7M1045.2 2151h16M1045.2 2286.7h16M1063.4 2176.6V2306.6M1055.4 2176.6h16M1055.4 2306.6h16M1073.1 2122.6V2264.6M1065.1 2122.6h16M1065.1 2264.6h16M1082.9 2176.6V2306.6M1074.9 2176.6h16M1074.9 2306.6h16M1093.1 2165.2V2297.8M1085.1 2165.2h16M1085.1 2297.8h16M1102.9 2180.3V2309.6M1094.9 2180.3h16M1094.9 2309.6h16M1121 2199V2324.1M1113 2199h16M1113 2324.1h16M1132.6 2159.8V2293.6M1124.6 2159.8h16M1124.6 2293.6h16" stroke="#000" stroke-width="3.1" fill="none"/>
<path d="M251.8 2357.8 L261.6 2311.7 L271.3 2321.7 L281.5 2318.5 L291.3 2315 L301.5 2323.4 L309.8 2311.7 L319.6 2341.6 L329.8 2318.5 L339.6 2345.1 L349.3 2318.5 L359.5 2345.1 L369.3 2328.3 L379.5 2331.7 L389.2 2338.3 L399 2334.9 L409.2 2324.9 L418.9 2328.3 L429.2 2345.1 L438.9 2338.1 L449.1 2324.9 L458.9 2335.3 L468.6 2318.5 L478.8 2301.6 L488.6 2318.5 L498.8 2338.1 L508.6 2338.1 L518.8 2351.6 L526.7 2305 L538.3 2347.9 L548.5 2361.4 L558.2 2328.3 L568.5 2338.1 L578.2 2364.8 L588.4 2351.6 L598.2 2361.4 L608.4 2359.9 L618.1 2378 L627.9 2391.4 L638.1 2384.7 L647.8 2407.9 L658.1 2418.1 L666.4 2441 L685.9 2441 L694.3 2420.9 L705.9 2381.6 L716.1 2390 L726.3 2306.3 L736.5 2340.9 L747.7 2335.3 L756.5 2331.1 L774.6 2210.4 L785.3 2214.7 L796.4 2211.8 L815.9 2196.8 L826.1 2159.9 L835.9 2130.5 L844.2 2067.3 L854 2136.1 L864.2 2087.4 L874 2125.6 L884.2 2115.6 L899 2129.1 L902.3 2178.6 L915.7 2192.2 L924.1 2238.5 L953.8 2225 L965.4 2211.8 L975.2 2238.5 L983.5 2231.6 L993.3 2198.5 L1003.5 2211.8 L1013.3 2248.3 L1023.5 2258.1 L1033.2 2248.3 L1043.4 2228.7 L1053.2 2218.9 L1063.4 2241.6 L1073.1 2193.6 L1082.9 2241.6 L1093.1 2231.5 L1102.9 2245 L1121 2261.5 L1132.6 2226.7" stroke="#4a7ebb" stroke-width="7.5" fill="none" stroke-linejoin="round" stroke-linecap="round"/>
<path d="M249.6 2345.4L254 2345.4L264.2 2355.6L264.2 2360L254 2370.2L249.6 2370.2L239.4 2360L239.4 2355.6ZM259.4 2299.3L263.8 2299.3L274 2309.5L274 2313.9L263.8 2324.1L259.4 2324.1L249.2 2313.9L249.2 2309.5ZM269.1 2309.3L273.5 2309.3L283.7 2319.5L283.7 2323.9L273.5 2334.1L269.1 2334.1L258.9 2323.9L258.9 2319.5ZM279.3 2306.1L283.7 2306.1L293.9 2316.3L293.9 2320.7L283.7 2330.9L279.3 2330.9L269.1 2320.7L269.1 2316.3ZM289.1 2302.6L293.5 2302.6L303.7 2312.8L303.7 2317.2L293.5 2327.4L289.1 2327.4L278.9 2317.2L278.9 2312.8ZM299.3 2311L303.7 2311L313.9 2321.2L313.9 2325.6L303.7 2335.8L299.3 2335.8L289.1 2325.6L289.1 2321.2ZM307.6 2299.3L312 2299.3L322.2 2309.5L322.2 2313.9L312 2324.1L307.6 2324.1L297.4 2313.9L297.4 2309.5ZM317.4 2329.2L321.8 2329.2L332 2339.4L332 2343.8L321.8 2354L317.4 2354L307.2 2343.8L307.2 2339.4ZM327.6 2306.1L332 2306.1L342.2 2316.3L342.2 2320.7L332 2330.9L327.6 2330.9L317.4 2320.7L317.4 2316.3ZM337.4 2332.7L341.8 2332.7L352 2342.9L352 2347.3L341.8 2357.5L337.4 2357.5L327.2 2347.3L327.2 2342.9ZM347.1 2306.1L351.5 2306.1L361.7 2316.3L361.7 2320.7L351.5 2330.9L347.1 2330.9L336.9 2320.7L336.9 2316.3ZM357.3 2332.7L361.7 2332.7L371.9 2342.9L371.9 2347.3L361.7 2357.5L357.3 2357.5L347.1 2347.3L347.1 2342.9ZM367.1 2315.9L371.5 2315.9L381.7 2326.1L381.7 2330.5L371.5 2340.7L367.1 2340.7L356.9 2330.5L356.9 2326.1ZM377.3 2319.3L381.7 2319.3L391.9 2329.5L391.9 2333.9L381.7 2344.1L377.3 2344.1L367.1 2333.9L367.1 2329.5ZM387 2325.9L391.4 2325.9L401.6 2336.1L401.6 2340.5L391.4 2350.7L387 2350.7L376.8 2340.5L376.8 2336.1ZM396.8 2322.5L401.2 2322.5L411.4 2332.7L411.4 2337.1L401.2 2347.3L396.8 2347.3L386.6 2337.1L386.6 2332.7ZM407 2312.5L411.4 2312.5L421.6 2322.7L421.6 2327.1L411.4 2337.3L407 2337.3L396.8 2327.1L396.8 2322.7ZM416.7 2315.9L421.1 2315.9L431.3 2326.1L431.3 2330.5L421.1 2340.7L416.7 2340.7L406.5 2330.5L406.5 2326.1ZM427 2332.7L431.4 2332.7L441.6 2342.9L441.6 2347.3L431.4 2357.5L427 2357.5L416.8 2347.3L416.8 2342.9ZM436.7 2325.7L441.1 2325.7L451.3 2335.9L451.3 2340.3L441.1 2350.5L436.7 2350.5L426.5 2340.3L426.5 2335.9ZM446.9 2312.5L451.3 2312.5L461.5 2322.7L461.5 2327.1L451.3 2337.3L446.9 2337.3L436.7 2327.1L436.7 2322.7ZM456.7 2322.9L461.1 2322.9L471.3 2333.1L471.3 2337.5L461.1 2347.7L456.7 2347.7L446.5 2337.5L446.5 2333.1ZM466.4 2306.1L470.8 2306.1L481 2316.3L481 2320.7L470.8 2330.9L466.4 2330.9L456.2 2320.7L456.2 2316.3ZM476.6 2289.2L481 2289.2L491.2 2299.4L491.2 2303.8L481 2314L476.6 2314L466.4 2303.8L466.4 2299.4ZM486.4 2306.1L490.8 2306.1L501 2316.3L501 2320.7L490.8 2330.9L486.4 2330.9L476.2 2320.7L476.2 2316.3ZM496.6 2325.7L501 2325.7L511.2 2335.9L511.2 2340.3L501 2350.5L496.6 2350.5L486.4 2340.3L486.4 2335.9ZM506.4 2325.7L510.8 2325.7L521 2335.9L521 2340.3L510.8 2350.5L506.4 2350.5L496.2 2340.3L496.2 2335.9ZM516.6 2339.2L521 2339.2L531.2 2349.4L531.2 2353.8L521 2364L516.6 2364L506.4 2353.8L506.4 2349.4ZM524.5 2292.6L528.9 2292.6L539.1 2302.8L539.1 2307.2L528.9 2317.4L524.5 2317.4L514.3 2307.2L514.3 2302.8ZM536.1 2335.5L540.5 2335.5L550.7 2345.7L550.7 2350.1L540.5 2360.3L536.1 2360.3L525.9 2350.1L525.9 2345.7ZM546.3 2349L550.7 2349L560.9 2359.2L560.9 2363.6L550.7 2373.8L546.3 2373.8L536.1 2363.6L536.1 2359.2ZM556 2315.9L560.4 2315.9L570.6 2326.1L570.6 2330.5L560.4 2340.7L556 2340.7L545.8 2330.5L545.8 2326.1ZM566.3 2325.7L570.7 2325.7L580.9 2335.9L580.9 2340.3L570.7 2350.5L566.3 2350.5L556.1 2340.3L556.1 2335.9ZM576 2352.4L580.4 2352.4L590.6 2362.6L590.6 2367L580.4 2377.2L576 2377.2L565.8 2367L565.8 2362.6ZM586.2 2339.2L590.6 2339.2L600.8 2349.4L600.8 2353.8L590.6 2364L586.2 2364L576 2353.8L576 2349.4ZM596 2349L600.4 2349L610.6 2359.2L610.6 2363.6L600.4 2373.8L596 2373.8L585.8 2363.6L585.8 2359.2ZM606.2 2347.5L610.6 2347.5L620.8 2357.7L620.8 2362.1L610.6 2372.3L606.2 2372.3L596 2362.1L596 2357.7ZM615.9 2365.6L620.3 2365.6L630.5 2375.8L630.5 2380.2L620.3 2390.4L615.9 2390.4L605.7 2380.2L605.7 2375.8ZM625.7 2379L630.1 2379L640.3 2389.2L640.3 2393.6L630.1 2403.8L625.7 2403.8L615.5 2393.6L615.5 2389.2ZM635.9 2372.3L640.3 2372.3L650.5 2382.5L650.5 2386.9L640.3 2397.1L635.9 2397.1L625.7 2386.9L625.7 2382.5ZM645.6 2395.5L650 2395.5L660.2 2405.7L660.2 2410.1L650 2420.3L645.6 2420.3L635.4 2410.1L635.4 2405.7ZM655.9 2405.7L660.3 2405.7L670.5 2415.9L670.5 2420.3L660.3 2430.5L655.9 2430.5L645.7 2420.3L645.7 2415.9ZM664.2 2428.6L668.6 2428.6L678.8 2438.8L678.8 2443.2L668.6 2453.4L664.2 2453.4L654 2443.2L654 2438.8ZM683.7 2428.6L688.1 2428.6L698.3 2438.8L698.3 2443.2L688.1 2453.4L683.7 2453.4L673.5 2443.2L673.5 2438.8ZM692.1 2408.5L696.5 2408.5L706.7 2418.7L706.7 2423.1L696.5 2433.3L692.1 2433.3L681.9 2423.1L681.9 2418.7ZM703.7 2369.2L708.1 2369.2L718.3 2379.4L718.3 2383.8L708.1 2394L703.7 2394L693.5 2383.8L693.5 2379.4ZM713.9 2377.6L718.3 2377.6L728.5 2387.8L728.5 2392.2L718.3 2402.4L713.9 2402.4L703.7 2392.2L703.7 2387.8ZM724.1 2293.9L728.5 2293.9L738.7 2304.1L738.7 2308.5L728.5 2318.7L724.1 2318.7L713.9 2308.5L713.9 2304.1ZM734.3 2328.5L738.7 2328.5L748.9 2338.7L748.9 2343.1L738.7 2353.3L734.3 2353.3L724.1 2343.1L724.1 2338.7ZM745.5 2322.9L749.9 2322.9L760.1 2333.1L760.1 2337.5L749.9 2347.7L745.5 2347.7L735.3 2337.5L735.3 2333.1ZM754.3 2318.7L758.7 2318.7L768.9 2328.9L768.9 2333.3L758.7 2343.5L754.3 2343.5L744.1 2333.3L744.1 2328.9ZM772.4 2198L776.8 2198L787 2208.2L787 2212.6L776.8 2222.8L772.4 2222.8L762.2 2212.6L762.2 2208.2ZM783.1 2202.3L787.5 2202.3L797.7 2212.5L797.7 2216.9L787.5 2227.1L783.1 2227.1L772.9 2216.9L772.9 2212.5ZM794.2 2199.4L798.6 2199.4L808.8 2209.6L808.8 2214L798.6 2224.2L794.2 2224.2L784 2214L784 2209.6ZM813.7 2184.4L818.1 2184.4L828.3 2194.6L828.3 2199L818.1 2209.2L813.7 2209.2L803.5 2199L803.5 2194.6ZM823.9 2147.5L828.3 2147.5L838.5 2157.7L838.5 2162.1L828.3 2172.3L823.9 2172.3L813.7 2162.1L813.7 2157.7ZM833.7 2118.1L838.1 2118.1L848.3 2128.3L848.3 2132.7L838.1 2142.9L833.7 2142.9L823.5 2132.7L823.5 2128.3ZM842 2054.9L846.4 2054.9L856.6 2065.1L856.6 2069.5L846.4 2079.7L842 2079.7L831.8 2069.5L831.8 2065.1ZM851.8 2123.7L856.2 2123.7L866.4 2133.9L866.4 2138.3L856.2 2148.5L851.8 2148.5L841.6 2138.3L841.6 2133.9ZM862 2075L866.4 2075L876.6 2085.2L876.6 2089.6L866.4 2099.8L862 2099.8L851.8 2089.6L851.8 2085.2ZM871.8 2113.2L876.2 2113.2L886.4 2123.4L886.4 2127.8L876.2 2138L871.8 2138L861.6 2127.8L861.6 2123.4ZM882 2103.2L886.4 2103.2L896.6 2113.4L896.6 2117.8L886.4 2128L882 2128L871.8 2117.8L871.8 2113.4ZM896.8 2116.7L901.2 2116.7L911.4 2126.9L911.4 2131.3L901.2 2141.5L896.8 2141.5L886.6 2131.3L886.6 2126.9ZM900.1 2166.2L904.5 2166.2L914.7 2176.4L914.7 2180.8L904.5 2191L900.1 2191L889.9 2180.8L889.9 2176.4ZM913.5 2179.8L917.9 2179.8L928.1 2190L928.1 2194.4L917.9 2204.6L913.5 2204.6L903.3 2194.4L903.3 2190ZM921.9 2226.1L926.3 2226.1L936.5 2236.3L936.5 2240.7L926.3 2250.9L921.9 2250.9L911.7 2240.7L911.7 2236.3ZM951.6 2212.6L956 2212.6L966.2 2222.8L966.2 2227.2L956 2237.4L951.6 2237.4L941.4 2227.2L941.4 2222.8ZM963.2 2199.4L967.6 2199.4L977.8 2209.6L977.8 2214L967.6 2224.2L963.2 2224.2L953 2214L953 2209.6ZM973 2226.1L977.4 2226.1L987.6 2236.3L987.6 2240.7L977.4 2250.9L973 2250.9L962.8 2240.7L962.8 2236.3ZM981.3 2219.2L985.7 2219.2L995.9 2229.4L995.9 2233.8L985.7 2244L981.3 2244L971.1 2233.8L971.1 2229.4ZM991.1 2186.1L995.5 2186.1L1005.7 2196.3L1005.7 2200.7L995.5 2210.9L991.1 2210.9L980.9 2200.7L980.9 2196.3ZM1001.3 2199.4L1005.7 2199.4L1015.9 2209.6L1015.9 2214L1005.7 2224.2L1001.3 2224.2L991.1 2214L991.1 2209.6ZM1011.1 2235.9L1015.5 2235.9L1025.7 2246.1L1025.7 2250.5L1015.5 2260.7L1011.1 2260.7L1000.9 2250.5L1000.9 2246.1ZM1021.3 2245.7L1025.7 2245.7L1035.9 2255.9L1035.9 2260.3L1025.7 2270.5L1021.3 2270.5L1011.1 2260.3L1011.1 2255.9ZM1031 2235.9L1035.4 2235.9L1045.6 2246.1L1045.6 2250.5L1035.4 2260.7L1031 2260.7L1020.8 2250.5L1020.8 2246.1ZM1041.2 2216.3L1045.6 2216.3L1055.8 2226.5L1055.8 2230.9L1045.6 2241.1L1041.2 2241.1L1031 2230.9L1031 2226.5ZM1051 2206.5L1055.4 2206.5L1065.6 2216.7L1065.6 2221.1L1055.4 2231.3L1051 2231.3L1040.8 2221.1L1040.8 2216.7ZM1061.2 2229.2L1065.6 2229.2L1075.8 2239.4L1075.8 2243.8L1065.6 2254L1061.2 2254L1051 2243.8L1051 2239.4ZM1070.9 2181.2L1075.3 2181.2L1085.5 2191.4L1085.5 2195.8L1075.3 2206L1070.9 2206L1060.7 2195.8L1060.7 2191.4ZM1080.7 2229.2L1085.1 2229.2L1095.3 2239.4L1095.3 2243.8L1085.1 2254L1080.7 2254L1070.5 2243.8L1070.5 2239.4ZM1090.9 2219.1L1095.3 2219.1L1105.5 2229.3L1105.5 2233.7L1095.3 2243.9L1090.9 2243.9L1080.7 2233.7L1080.7 2229.3ZM1100.7 2232.6L1105.1 2232.6L1115.3 2242.8L1115.3 2247.2L1105.1 2257.4L1100.7 2257.4L1090.5 2247.2L1090.5 2242.8ZM1118.8 2249.1L1123.2 2249.1L1133.4 2259.3L1133.4 2263.7L1123.2 2273.9L1118.8 2273.9L1108.6 2263.7L1108.6 2259.3ZM1130.4 2214.3L1134.8 2214.3L1145 2224.5L1145 2228.9L1134.8 2239.1L1130.4 2239.1L1120.2 2228.9L1120.2 2224.5Z" fill="#4f81bd"/>
<rect x="254" y="2206" width="271.6" height="239.7" fill="none" stroke="#2e5395" stroke-width="7.7" stroke-dasharray="7.7 5.2"/>
<rect x="822" y="1969" width="79" height="263.5" fill="none" stroke="#2e5395" stroke-width="7.7" stroke-dasharray="7.7 5.2"/>
<rect x="953.5" y="2105.7" width="154" height="332.3" fill="none" stroke="#2e5395" stroke-width="7.7" stroke-dasharray="7.7 5.2"/>
<line x1="979" y1="1926" x2="1045" y2="1926" stroke="#4a7ebb" stroke-width="7.8" stroke-linecap="round"/>
<path d="M1009.8 1913.6L1014.2 1913.6L1024.4 1923.8L1024.4 1928.2L1014.2 1938.4L1009.8 1938.4L999.6 1928.2L999.6 1923.8Z" fill="#4f81bd"/>
<text x="1058" y="1939" font-size="35.5" text-anchor="start" textLength="125" lengthAdjust="spacingAndGlyphs" fill="#000">P (MPa)</text>
<text x="556.7" y="2711.8" font-size="45" text-anchor="start" font-weight="bold" textLength="327" lengthAdjust="spacingAndGlyphs" fill="#000">distance c-r (μm)</text>
<path d="M1469.8 1920.4V2570.4M1456.8 2557.4H2398.3M1459.8 2557.4H1469.8M1459.8 2525.6H1469.8M1459.8 2493.7H1469.8M1459.8 2461.8H1469.8M1459.8 2430H1469.8M1459.8 2398.2H1469.8M1459.8 2366.3H1469.8M1459.8 2334.5H1469.8M1459.8 2302.6H1469.8M1459.8 2270.8H1469.8M1459.8 2238.9H1469.8M1459.8 2207.1H1469.8M1459.8 2175.2H1469.8M1459.8 2143.3H1469.8M1459.8 2111.5H1469.8M1459.8 2079.7H1469.8M1459.8 2047.8H1469.8M1459.8 2016H1469.8M1459.8 1984.1H1469.8M1459.8 1952.2H1469.8M1459.8 1920.4H1469.8M1456.8 2557.4H1469.8M1456.8 2398.2H1469.8M1456.8 2238.9H1469.8M1456.8 2079.7H1469.8M1456.8 1920.4H1469.8M1516.2 2557.4V2567.9M1562.7 2557.4V2567.9M1609.1 2557.4V2567.9M1655.5 2557.4V2567.9M1701.9 2557.4V2570.4M1748.3 2557.4V2567.9M1794.8 2557.4V2567.9M1841.2 2557.4V2567.9M1887.6 2557.4V2567.9M1934.1 2557.4V2570.4M1980.5 2557.4V2567.9M2026.9 2557.4V2567.9M2073.3 2557.4V2567.9M2119.8 2557.4V2567.9M2166.2 2557.4V2570.4M2212.6 2557.4V2567.9M2259 2557.4V2567.9M2305.4 2557.4V2567.9M2351.9 2557.4V2567.9M2398.3 2557.4V2570.4" stroke="#868686" stroke-width="3.4" fill="none"/>
<text x="1432.8" y="2570.4" font-size="36.5" text-anchor="end" textLength="58.8" lengthAdjust="spacingAndGlyphs" fill="#000">800</text>
<text x="1432.8" y="2411.2" font-size="36.5" text-anchor="end" textLength="58.8" lengthAdjust="spacingAndGlyphs" fill="#000">850</text>
<text x="1432.8" y="2251.9" font-size="36.5" text-anchor="end" textLength="58.8" lengthAdjust="spacingAndGlyphs" fill="#000">900</text>
<text x="1432.8" y="2092.7" font-size="36.5" text-anchor="end" textLength="58.8" lengthAdjust="spacingAndGlyphs" fill="#000">950</text>
<text x="1432.8" y="1933.4" font-size="36.5" text-anchor="end" textLength="78.4" lengthAdjust="spacingAndGlyphs" fill="#000">1000</text>
<text x="1472.8" y="2638.4" font-size="36.5" text-anchor="middle" textLength="19.6" lengthAdjust="spacingAndGlyphs" fill="#000">0</text>
<text x="1704.9" y="2638.4" font-size="36.5" text-anchor="middle" textLength="39.2" lengthAdjust="spacingAndGlyphs" fill="#000">50</text>
<text x="1937.1" y="2638.4" font-size="36.5" text-anchor="middle" textLength="58.8" lengthAdjust="spacingAndGlyphs" fill="#000">100</text>
<text x="2169.2" y="2638.4" font-size="36.5" text-anchor="middle" textLength="58.8" lengthAdjust="spacingAndGlyphs" fill="#000">150</text>
<text x="2401.3" y="2638.4" font-size="36.5" text-anchor="middle" textLength="58.8" lengthAdjust="spacingAndGlyphs" fill="#000">200</text>
<text x="1544" y="2080" font-size="63" text-anchor="start" textLength="122" lengthAdjust="spacingAndGlyphs" fill="#000">core</text>
<text x="2028" y="2340.7" font-size="63" text-anchor="start" textLength="141.6" lengthAdjust="spacingAndGlyphs" fill="#000">rim 1</text>
<text x="2183.6" y="2329" font-size="63" text-anchor="start" textLength="144" lengthAdjust="spacingAndGlyphs" fill="#000">rim 2</text>
<path d="M1469.8 2215.6V2355.8M1461.8 2215.6h16M1461.8 2355.8h16M1488.2 2185.7V2325.9M1480.2 2185.7h16M1480.2 2325.9h16M1498.1 2139.5V2279.7M1490.1 2139.5h16M1490.1 2279.7h16M1508.1 2156.1V2296.2M1500.1 2156.1h16M1500.1 2296.2h16M1518.1 2152.9V2293M1510.1 2152.9h16M1510.1 2293h16M1527.8 2172.7V2312.8M1519.8 2172.7h16M1519.8 2312.8h16M1539.4 2182.5V2322.7M1531.4 2182.5h16M1531.4 2322.7h16M1547.8 2169.1V2309.3M1539.8 2169.1h16M1539.8 2309.3h16M1557.9 2210.6V2350.7M1549.9 2210.6h16M1549.9 2350.7h16M1567.8 2195.9V2336M1559.8 2195.9h16M1559.8 2336h16M1577.7 2169.1V2309.3M1569.7 2169.1h16M1569.7 2309.3h16M1589.3 2209V2349.1M1581.3 2209h16M1581.3 2349.1h16M1597.5 2205.8V2345.9M1589.5 2205.8h16M1589.5 2345.9h16M1607.7 2189.2V2329.4M1599.7 2189.2h16M1599.7 2329.4h16M1617.4 2185.7V2325.9M1609.4 2185.7h16M1609.4 2325.9h16M1627.6 2199.1V2339.2M1619.6 2199.1h16M1619.6 2339.2h16M1637.4 2212.5V2352.6M1629.4 2212.5h16M1629.4 2352.6h16M1647.4 2230.6V2370.8M1639.4 2230.6h16M1639.4 2370.8h16M1657.4 2205.8V2345.9M1649.4 2205.8h16M1649.4 2345.9h16M1665.7 2192.4V2332.5M1657.7 2192.4h16M1657.7 2332.5h16M1675.5 2209V2349.1M1667.5 2209h16M1667.5 2349.1h16M1685.7 2185.7V2325.9M1677.7 2185.7h16M1677.7 2325.9h16M1695.4 2159.3V2299.4M1687.4 2159.3h16M1687.4 2299.4h16M1705.6 2182.5V2322.7M1697.6 2182.5h16M1697.6 2322.7h16M1715.4 2172.7V2312.8M1707.4 2172.7h16M1707.4 2312.8h16M1725.1 2199.1V2339.2M1717.1 2199.1h16M1717.1 2339.2h16M1735.4 2182.5V2322.7M1727.4 2182.5h16M1727.4 2322.7h16M1745.1 2242.1V2382.2M1737.1 2242.1h16M1737.1 2382.2h16M1755.3 2189.2V2329.4M1747.3 2189.2h16M1747.3 2329.4h16M1765.1 2225.5V2365.7M1757.1 2225.5h16M1757.1 2365.7h16M1776.7 2166V2306.1M1768.7 2166h16M1768.7 2306.1h16M1786.9 2205.8V2345.9M1778.9 2205.8h16M1778.9 2345.9h16M1796.6 2225.5V2365.7M1788.6 2225.5h16M1788.6 2365.7h16M1806.4 2205.8V2345.9M1798.4 2205.8h16M1798.4 2345.9h16M1816.6 2232.2V2372.4M1808.6 2232.2h16M1808.6 2372.4h16M1826.3 2209V2349.1M1818.3 2209h16M1818.3 2349.1h16M1836.6 2242.1V2382.2M1828.6 2242.1h16M1828.6 2382.2h16M1846.3 2235.7V2375.9M1838.3 2235.7h16M1838.3 2375.9h16M1856.5 2259V2399.1M1848.5 2259h16M1848.5 2399.1h16M1866.3 2265.3V2405.5M1858.3 2265.3h16M1858.3 2405.5h16M1874.6 2278.7V2418.9M1866.6 2278.7h16M1866.6 2418.9h16M1884.4 2295.3V2435.4M1876.4 2295.3h16M1876.4 2435.4h16M1904.3 2295.3V2435.4M1896.3 2295.3h16M1896.3 2435.4h16M1914.6 2262.2V2402.3M1906.6 2262.2h16M1906.6 2402.3h16M1924.3 2225.5V2365.7M1916.3 2225.5h16M1916.3 2365.7h16M1934.1 2255.5V2395.6M1926.1 2255.5h16M1926.1 2395.6h16M1944.3 2189.2V2329.4M1936.3 2189.2h16M1936.3 2329.4h16M1954 2209V2349.1M1946 2209h16M1946 2349.1h16M1964.2 2202.3V2342.4M1956.2 2202.3h16M1956.2 2342.4h16M1974 2169.1V2309.3M1966 2169.1h16M1966 2309.3h16M1994.4 2062.5V2202.6M1986.4 2062.5h16M1986.4 2202.6h16M2014.8 2049.1V2189.2M2006.8 2049.1h16M2006.8 2189.2h16M2022.7 2025.8V2166M2014.7 2025.8h16M2014.7 2166h16M2031.1 2103.9V2244M2023.1 2103.9h16M2023.1 2244h16M2042.7 2092.4V2232.5M2034.7 2092.4h16M2034.7 2232.5h16M2052.9 2079V2219.2M2044.9 2079h16M2044.9 2219.2h16M2062.6 2006.1V2146.2M2054.6 2006.1h16M2054.6 2146.2h16M2072.4 2058.9V2199.1M2064.4 2058.9h16M2064.4 2199.1h16M2082.6 2034.1V2174.2M2074.6 2034.1h16M2074.6 2174.2h16M2092.4 2060.9V2201M2084.4 2060.9h16M2084.4 2201h16M2102.1 2039.2V2179.3M2094.1 2039.2h16M2094.1 2179.3h16M2112.3 2045.9V2186M2104.3 2045.9h16M2104.3 2186h16M2122.1 2072.3V2212.5M2114.1 2072.3h16M2114.1 2212.5h16M2131.8 2049.1V2189.2M2123.8 2049.1h16M2123.8 2189.2h16M2142.5 2055.8V2195.9M2134.5 2055.8h16M2134.5 2195.9h16M2172.2 2025.8V2166M2164.2 2025.8h16M2164.2 2166h16M2183.8 1989.5V2129.7M2175.8 1989.5h16M2175.8 2129.7h16M2192.2 2042.4V2182.5M2184.2 2042.4h16M2184.2 2182.5h16M2201.9 2037.6V2177.7M2193.9 2037.6h16M2193.9 2177.7h16M2210.3 1984.4V2124.6M2202.3 1984.4h16M2202.3 2124.6h16M2220 2006.1V2146.2M2212 2006.1h16M2212 2146.2h16M2230.2 2065.6V2205.8M2222.2 2065.6h16M2222.2 2205.8h16M2240.5 2069.1V2209.3M2232.5 2069.1h16M2232.5 2209.3h16M2252.1 2067.2V2207.4M2244.1 2067.2h16M2244.1 2207.4h16M2261.8 2032.5V2172.7M2253.8 2032.5h16M2253.8 2172.7h16M2272 2012.8V2152.9M2264 2012.8h16M2264 2152.9h16M2281.8 2034.1V2174.2M2273.8 2034.1h16M2273.8 2174.2h16M2291.5 2019.1V2159.3M2283.5 2019.1h16M2283.5 2159.3h16M2303.1 2032.5V2172.7M2295.1 2032.5h16M2295.1 2172.7h16M2313.3 2035.7V2175.8M2305.3 2035.7h16M2305.3 2175.8h16M2321.7 2077.4V2217.6M2313.7 2077.4h16M2313.7 2217.6h16M2341.7 2097.2V2237.3M2333.7 2097.2h16M2333.7 2237.3h16M2351.4 2039.2V2179.3M2343.4 2039.2h16M2343.4 2179.3h16" stroke="#000" stroke-width="3.1" fill="none"/>
<path d="M1469.8 2285.7 L1488.2 2255.8 L1498.1 2209.6 L1508.1 2226.2 L1518.1 2223 L1527.8 2242.7 L1539.4 2252.6 L1547.8 2239.2 L1557.9 2280.6 L1567.8 2266 L1577.7 2239.2 L1589.3 2279 L1597.5 2275.8 L1607.7 2259.3 L1617.4 2255.8 L1627.6 2269.2 L1637.4 2282.5 L1647.4 2300.7 L1657.4 2275.8 L1665.7 2262.5 L1675.5 2279 L1685.7 2255.8 L1695.4 2229.3 L1705.6 2252.6 L1715.4 2242.7 L1725.1 2269.2 L1735.4 2252.6 L1745.1 2312.2 L1755.3 2259.3 L1765.1 2295.6 L1776.7 2236 L1786.9 2275.8 L1796.6 2295.6 L1806.4 2275.8 L1816.6 2302.3 L1826.3 2279 L1836.6 2312.2 L1846.3 2305.8 L1856.5 2329 L1866.3 2335.4 L1874.6 2348.8 L1884.4 2365.3 L1904.3 2365.3 L1914.6 2332.2 L1924.3 2295.6 L1934.1 2325.5 L1944.3 2259.3 L1954 2279 L1964.2 2272.3 L1974 2239.2 L1994.4 2132.5 L2014.8 2119.1 L2022.7 2095.9 L2031.1 2173.9 L2042.7 2162.5 L2052.9 2149.1 L2062.6 2076.1 L2072.4 2129 L2082.6 2104.2 L2092.4 2130.9 L2102.1 2109.3 L2112.3 2116 L2122.1 2142.4 L2131.8 2119.1 L2142.5 2125.8 L2172.2 2095.9 L2183.8 2059.6 L2192.2 2112.5 L2201.9 2107.7 L2210.3 2054.5 L2220 2076.1 L2230.2 2135.7 L2240.5 2139.2 L2252.1 2137.3 L2261.8 2102.6 L2272 2082.8 L2281.8 2104.2 L2291.5 2089.2 L2303.1 2102.6 L2313.3 2105.8 L2321.7 2147.5 L2341.7 2167.2 L2351.4 2109.3" stroke="#4a7ebb" stroke-width="7.5" fill="none" stroke-linejoin="round" stroke-linecap="round"/>
<path d="M1467.6 2273.3L1472 2273.3L1482.2 2283.5L1482.2 2287.9L1472 2298.1L1467.6 2298.1L1457.4 2287.9L1457.4 2283.5ZM1486 2243.4L1490.4 2243.4L1500.6 2253.6L1500.6 2258L1490.4 2268.2L1486 2268.2L1475.8 2258L1475.8 2253.6ZM1495.9 2197.2L1500.3 2197.2L1510.5 2207.4L1510.5 2211.8L1500.3 2222L1495.9 2222L1485.7 2211.8L1485.7 2207.4ZM1505.9 2213.8L1510.3 2213.8L1520.5 2224L1520.5 2228.4L1510.3 2238.6L1505.9 2238.6L1495.7 2228.4L1495.7 2224ZM1515.9 2210.6L1520.3 2210.6L1530.5 2220.8L1530.5 2225.2L1520.3 2235.4L1515.9 2235.4L1505.7 2225.2L1505.7 2220.8ZM1525.6 2230.3L1530 2230.3L1540.2 2240.5L1540.2 2244.9L1530 2255.1L1525.6 2255.1L1515.4 2244.9L1515.4 2240.5ZM1537.2 2240.2L1541.6 2240.2L1551.8 2250.4L1551.8 2254.8L1541.6 2265L1537.2 2265L1527 2254.8L1527 2250.4ZM1545.6 2226.8L1550 2226.8L1560.2 2237L1560.2 2241.4L1550 2251.6L1545.6 2251.6L1535.4 2241.4L1535.4 2237ZM1555.7 2268.2L1560.1 2268.2L1570.3 2278.4L1570.3 2282.8L1560.1 2293L1555.7 2293L1545.5 2282.8L1545.5 2278.4ZM1565.6 2253.6L1570 2253.6L1580.2 2263.8L1580.2 2268.2L1570 2278.4L1565.6 2278.4L1555.4 2268.2L1555.4 2263.8ZM1575.5 2226.8L1579.9 2226.8L1590.1 2237L1590.1 2241.4L1579.9 2251.6L1575.5 2251.6L1565.3 2241.4L1565.3 2237ZM1587.1 2266.6L1591.5 2266.6L1601.7 2276.8L1601.7 2281.2L1591.5 2291.4L1587.1 2291.4L1576.9 2281.2L1576.9 2276.8ZM1595.3 2263.4L1599.7 2263.4L1609.9 2273.6L1609.9 2278L1599.7 2288.2L1595.3 2288.2L1585.1 2278L1585.1 2273.6ZM1605.5 2246.9L1609.9 2246.9L1620.1 2257.1L1620.1 2261.5L1609.9 2271.7L1605.5 2271.7L1595.3 2261.5L1595.3 2257.1ZM1615.2 2243.4L1619.6 2243.4L1629.8 2253.6L1629.8 2258L1619.6 2268.2L1615.2 2268.2L1605 2258L1605 2253.6ZM1625.4 2256.8L1629.8 2256.8L1640 2267L1640 2271.4L1629.8 2281.6L1625.4 2281.6L1615.2 2271.4L1615.2 2267ZM1635.2 2270.1L1639.6 2270.1L1649.8 2280.3L1649.8 2284.7L1639.6 2294.9L1635.2 2294.9L1625 2284.7L1625 2280.3ZM1645.2 2288.3L1649.6 2288.3L1659.8 2298.5L1659.8 2302.9L1649.6 2313.1L1645.2 2313.1L1635 2302.9L1635 2298.5ZM1655.2 2263.4L1659.6 2263.4L1669.8 2273.6L1669.8 2278L1659.6 2288.2L1655.2 2288.2L1645 2278L1645 2273.6ZM1663.5 2250.1L1667.9 2250.1L1678.1 2260.3L1678.1 2264.7L1667.9 2274.9L1663.5 2274.9L1653.3 2264.7L1653.3 2260.3ZM1673.3 2266.6L1677.7 2266.6L1687.9 2276.8L1687.9 2281.2L1677.7 2291.4L1673.3 2291.4L1663.1 2281.2L1663.1 2276.8ZM1683.5 2243.4L1687.9 2243.4L1698.1 2253.6L1698.1 2258L1687.9 2268.2L1683.5 2268.2L1673.3 2258L1673.3 2253.6ZM1693.2 2216.9L1697.6 2216.9L1707.8 2227.1L1707.8 2231.5L1697.6 2241.7L1693.2 2241.7L1683 2231.5L1683 2227.1ZM1703.4 2240.2L1707.8 2240.2L1718 2250.4L1718 2254.8L1707.8 2265L1703.4 2265L1693.2 2254.8L1693.2 2250.4ZM1713.2 2230.3L1717.6 2230.3L1727.8 2240.5L1727.8 2244.9L1717.6 2255.1L1713.2 2255.1L1703 2244.9L1703 2240.5ZM1722.9 2256.8L1727.3 2256.8L1737.5 2267L1737.5 2271.4L1727.3 2281.6L1722.9 2281.6L1712.7 2271.4L1712.7 2267ZM1733.2 2240.2L1737.6 2240.2L1747.8 2250.4L1747.8 2254.8L1737.6 2265L1733.2 2265L1723 2254.8L1723 2250.4ZM1742.9 2299.8L1747.3 2299.8L1757.5 2310L1757.5 2314.4L1747.3 2324.6L1742.9 2324.6L1732.7 2314.4L1732.7 2310ZM1753.1 2246.9L1757.5 2246.9L1767.7 2257.1L1767.7 2261.5L1757.5 2271.7L1753.1 2271.7L1742.9 2261.5L1742.9 2257.1ZM1762.9 2283.2L1767.3 2283.2L1777.5 2293.4L1777.5 2297.8L1767.3 2308L1762.9 2308L1752.7 2297.8L1752.7 2293.4ZM1774.5 2223.6L1778.9 2223.6L1789.1 2233.8L1789.1 2238.2L1778.9 2248.4L1774.5 2248.4L1764.3 2238.2L1764.3 2233.8ZM1784.7 2263.4L1789.1 2263.4L1799.3 2273.6L1799.3 2278L1789.1 2288.2L1784.7 2288.2L1774.5 2278L1774.5 2273.6ZM1794.4 2283.2L1798.8 2283.2L1809 2293.4L1809 2297.8L1798.8 2308L1794.4 2308L1784.2 2297.8L1784.2 2293.4ZM1804.2 2263.4L1808.6 2263.4L1818.8 2273.6L1818.8 2278L1808.6 2288.2L1804.2 2288.2L1794 2278L1794 2273.6ZM1814.4 2289.9L1818.8 2289.9L1829 2300.1L1829 2304.5L1818.8 2314.7L1814.4 2314.7L1804.2 2304.5L1804.2 2300.1ZM1824.1 2266.6L1828.5 2266.6L1838.7 2276.8L1838.7 2281.2L1828.5 2291.4L1824.1 2291.4L1813.9 2281.2L1813.9 2276.8ZM1834.4 2299.8L1838.8 2299.8L1849 2310L1849 2314.4L1838.8 2324.6L1834.4 2324.6L1824.2 2314.4L1824.2 2310ZM1844.1 2293.4L1848.5 2293.4L1858.7 2303.6L1858.7 2308L1848.5 2318.2L1844.1 2318.2L1833.9 2308L1833.9 2303.6ZM1854.3 2316.6L1858.7 2316.6L1868.9 2326.8L1868.9 2331.2L1858.7 2341.4L1854.3 2341.4L1844.1 2331.2L1844.1 2326.8ZM1864.1 2323L1868.5 2323L1878.7 2333.2L1878.7 2337.6L1868.5 2347.8L1864.1 2347.8L1853.9 2337.6L1853.9 2333.2ZM1872.4 2336.4L1876.8 2336.4L1887 2346.6L1887 2351L1876.8 2361.2L1872.4 2361.2L1862.2 2351L1862.2 2346.6ZM1882.2 2352.9L1886.6 2352.9L1896.8 2363.1L1896.8 2367.5L1886.6 2377.7L1882.2 2377.7L1872 2367.5L1872 2363.1ZM1902.1 2352.9L1906.5 2352.9L1916.7 2363.1L1916.7 2367.5L1906.5 2377.7L1902.1 2377.7L1891.9 2367.5L1891.9 2363.1ZM1912.4 2319.8L1916.8 2319.8L1927 2330L1927 2334.4L1916.8 2344.6L1912.4 2344.6L1902.2 2334.4L1902.2 2330ZM1922.1 2283.2L1926.5 2283.2L1936.7 2293.4L1936.7 2297.8L1926.5 2308L1922.1 2308L1911.9 2297.8L1911.9 2293.4ZM1931.9 2313.1L1936.3 2313.1L1946.5 2323.3L1946.5 2327.7L1936.3 2337.9L1931.9 2337.9L1921.7 2327.7L1921.7 2323.3ZM1942.1 2246.9L1946.5 2246.9L1956.7 2257.1L1956.7 2261.5L1946.5 2271.7L1942.1 2271.7L1931.9 2261.5L1931.9 2257.1ZM1951.8 2266.6L1956.2 2266.6L1966.4 2276.8L1966.4 2281.2L1956.2 2291.4L1951.8 2291.4L1941.6 2281.2L1941.6 2276.8ZM1962 2259.9L1966.4 2259.9L1976.6 2270.1L1976.6 2274.5L1966.4 2284.7L1962 2284.7L1951.8 2274.5L1951.8 2270.1ZM1971.8 2226.8L1976.2 2226.8L1986.4 2237L1986.4 2241.4L1976.2 2251.6L1971.8 2251.6L1961.6 2241.4L1961.6 2237ZM1992.2 2120.1L1996.6 2120.1L2006.8 2130.3L2006.8 2134.7L1996.6 2144.9L1992.2 2144.9L1982 2134.7L1982 2130.3ZM2012.6 2106.7L2017 2106.7L2027.2 2116.9L2027.2 2121.3L2017 2131.5L2012.6 2131.5L2002.4 2121.3L2002.4 2116.9ZM2020.5 2083.5L2024.9 2083.5L2035.1 2093.7L2035.1 2098.1L2024.9 2108.3L2020.5 2108.3L2010.3 2098.1L2010.3 2093.7ZM2028.9 2161.5L2033.3 2161.5L2043.5 2171.7L2043.5 2176.1L2033.3 2186.3L2028.9 2186.3L2018.7 2176.1L2018.7 2171.7ZM2040.5 2150.1L2044.9 2150.1L2055.1 2160.3L2055.1 2164.7L2044.9 2174.9L2040.5 2174.9L2030.3 2164.7L2030.3 2160.3ZM2050.7 2136.7L2055.1 2136.7L2065.3 2146.9L2065.3 2151.3L2055.1 2161.5L2050.7 2161.5L2040.5 2151.3L2040.5 2146.9ZM2060.4 2063.7L2064.8 2063.7L2075 2073.9L2075 2078.3L2064.8 2088.5L2060.4 2088.5L2050.2 2078.3L2050.2 2073.9ZM2070.2 2116.6L2074.6 2116.6L2084.8 2126.8L2084.8 2131.2L2074.6 2141.4L2070.2 2141.4L2060 2131.2L2060 2126.8ZM2080.4 2091.8L2084.8 2091.8L2095 2102L2095 2106.4L2084.8 2116.6L2080.4 2116.6L2070.2 2106.4L2070.2 2102ZM2090.2 2118.5L2094.6 2118.5L2104.8 2128.7L2104.8 2133.1L2094.6 2143.3L2090.2 2143.3L2080 2133.1L2080 2128.7ZM2099.9 2096.9L2104.3 2096.9L2114.5 2107.1L2114.5 2111.5L2104.3 2121.7L2099.9 2121.7L2089.7 2111.5L2089.7 2107.1ZM2110.1 2103.6L2114.5 2103.6L2124.7 2113.8L2124.7 2118.2L2114.5 2128.4L2110.1 2128.4L2099.9 2118.2L2099.9 2113.8ZM2119.9 2130L2124.3 2130L2134.5 2140.2L2134.5 2144.6L2124.3 2154.8L2119.9 2154.8L2109.7 2144.6L2109.7 2140.2ZM2129.6 2106.7L2134 2106.7L2144.2 2116.9L2144.2 2121.3L2134 2131.5L2129.6 2131.5L2119.4 2121.3L2119.4 2116.9ZM2140.3 2113.4L2144.7 2113.4L2154.9 2123.6L2154.9 2128L2144.7 2138.2L2140.3 2138.2L2130.1 2128L2130.1 2123.6ZM2170 2083.5L2174.4 2083.5L2184.6 2093.7L2184.6 2098.1L2174.4 2108.3L2170 2108.3L2159.8 2098.1L2159.8 2093.7ZM2181.6 2047.2L2186 2047.2L2196.2 2057.4L2196.2 2061.8L2186 2072L2181.6 2072L2171.4 2061.8L2171.4 2057.4ZM2190 2100.1L2194.4 2100.1L2204.6 2110.3L2204.6 2114.7L2194.4 2124.9L2190 2124.9L2179.8 2114.7L2179.8 2110.3ZM2199.7 2095.3L2204.1 2095.3L2214.3 2105.5L2214.3 2109.9L2204.1 2120.1L2199.7 2120.1L2189.5 2109.9L2189.5 2105.5ZM2208.1 2042.1L2212.5 2042.1L2222.7 2052.3L2222.7 2056.7L2212.5 2066.9L2208.1 2066.9L2197.9 2056.7L2197.9 2052.3ZM2217.8 2063.7L2222.2 2063.7L2232.4 2073.9L2232.4 2078.3L2222.2 2088.5L2217.8 2088.5L2207.6 2078.3L2207.6 2073.9ZM2228 2123.3L2232.4 2123.3L2242.6 2133.5L2242.6 2137.9L2232.4 2148.1L2228 2148.1L2217.8 2137.9L2217.8 2133.5ZM2238.3 2126.8L2242.7 2126.8L2252.9 2137L2252.9 2141.4L2242.7 2151.6L2238.3 2151.6L2228.1 2141.4L2228.1 2137ZM2249.9 2124.9L2254.3 2124.9L2264.5 2135.1L2264.5 2139.5L2254.3 2149.7L2249.9 2149.7L2239.7 2139.5L2239.7 2135.1ZM2259.6 2090.2L2264 2090.2L2274.2 2100.4L2274.2 2104.8L2264 2115L2259.6 2115L2249.4 2104.8L2249.4 2100.4ZM2269.8 2070.4L2274.2 2070.4L2284.4 2080.6L2284.4 2085L2274.2 2095.2L2269.8 2095.2L2259.6 2085L2259.6 2080.6ZM2279.6 2091.8L2284 2091.8L2294.2 2102L2294.2 2106.4L2284 2116.6L2279.6 2116.6L2269.4 2106.4L2269.4 2102ZM2289.3 2076.8L2293.7 2076.8L2303.9 2087L2303.9 2091.4L2293.7 2101.6L2289.3 2101.6L2279.1 2091.4L2279.1 2087ZM2300.9 2090.2L2305.3 2090.2L2315.5 2100.4L2315.5 2104.8L2305.3 2115L2300.9 2115L2290.7 2104.8L2290.7 2100.4ZM2311.1 2093.4L2315.5 2093.4L2325.7 2103.6L2325.7 2108L2315.5 2118.2L2311.1 2118.2L2300.9 2108L2300.9 2103.6ZM2319.5 2135.1L2323.9 2135.1L2334.1 2145.3L2334.1 2149.7L2323.9 2159.9L2319.5 2159.9L2309.3 2149.7L2309.3 2145.3ZM2339.5 2154.8L2343.9 2154.8L2354.1 2165L2354.1 2169.4L2343.9 2179.6L2339.5 2179.6L2329.3 2169.4L2329.3 2165ZM2349.2 2096.9L2353.6 2096.9L2363.8 2107.1L2363.8 2111.5L2353.6 2121.7L2349.2 2121.7L2339 2111.5L2339 2107.1Z" fill="#4f81bd"/>
<rect x="1470" y="2105.7" width="274" height="301.1" fill="none" stroke="#2e5395" stroke-width="7.7" stroke-dasharray="7.7 5.2"/>
<rect x="2041" y="1988" width="78" height="286.6" fill="none" stroke="#2e5395" stroke-width="7.7" stroke-dasharray="7.7 5.2"/>
<rect x="2172" y="1975" width="153" height="281.7" fill="none" stroke="#2e5395" stroke-width="7.7" stroke-dasharray="7.7 5.2"/>
<line x1="2289" y1="1940" x2="2355" y2="1940" stroke="#4a7ebb" stroke-width="7.8" stroke-linecap="round"/>
<path d="M2319.8 1927.6L2324.2 1927.6L2334.4 1937.8L2334.4 1942.2L2324.2 1952.4L2319.8 1952.4L2309.6 1942.2L2309.6 1937.8Z" fill="#4f81bd"/>
<text x="2368" y="1953" font-size="35.5" text-anchor="start" textLength="84" lengthAdjust="spacingAndGlyphs" fill="#000">T (°C)</text>
<text x="1773" y="2718" font-size="45" text-anchor="start" font-weight="bold" textLength="329" lengthAdjust="spacingAndGlyphs" fill="#000">distance c-r (μm)</text>
<path d="M251.8 2827.2V3476.9M238.8 3463.9H1180.4M241.8 3463.9H251.8M241.8 3448H251.8M241.8 3432.1H251.8M241.8 3416.1H251.8M241.8 3400.2H251.8M241.8 3384.3H251.8M241.8 3368.4H251.8M241.8 3352.5H251.8M241.8 3336.6H251.8M241.8 3320.6H251.8M241.8 3304.7H251.8M241.8 3288.8H251.8M241.8 3272.9H251.8M241.8 3257H251.8M241.8 3241.1H251.8M241.8 3225.1H251.8M241.8 3209.2H251.8M241.8 3193.3H251.8M241.8 3177.4H251.8M241.8 3161.5H251.8M241.8 3145.6H251.8M241.8 3129.6H251.8M241.8 3113.7H251.8M241.8 3097.8H251.8M241.8 3081.9H251.8M241.8 3066H251.8M241.8 3050H251.8M241.8 3034.1H251.8M241.8 3018.2H251.8M241.8 3002.3H251.8M241.8 2986.4H251.8M241.8 2970.5H251.8M241.8 2954.5H251.8M241.8 2938.6H251.8M241.8 2922.7H251.8M241.8 2906.8H251.8M241.8 2890.9H251.8M241.8 2875H251.8M241.8 2859H251.8M241.8 2843.1H251.8M241.8 2827.2H251.8M238.8 3463.9H251.8M238.8 3384.3H251.8M238.8 3304.7H251.8M238.8 3225.1H251.8M238.8 3145.6H251.8M238.8 3066H251.8M238.8 2986.4H251.8M238.8 2906.8H251.8M238.8 2827.2H251.8M298.2 3463.9V3474.4M344.7 3463.9V3474.4M391.1 3463.9V3474.4M437.5 3463.9V3474.4M484 3463.9V3476.9M530.4 3463.9V3474.4M576.8 3463.9V3474.4M623.2 3463.9V3474.4M669.7 3463.9V3474.4M716.1 3463.9V3476.9M762.5 3463.9V3474.4M809 3463.9V3474.4M855.4 3463.9V3474.4M901.8 3463.9V3474.4M948.3 3463.9V3476.9M994.7 3463.9V3474.4M1041.1 3463.9V3474.4M1087.5 3463.9V3474.4M1134 3463.9V3474.4M1180.4 3463.9V3476.9" stroke="#868686" stroke-width="3.4" fill="none"/>
<text x="214.8" y="3476.9" font-size="36.5" text-anchor="end" textLength="48.8" lengthAdjust="spacingAndGlyphs" fill="#000">0.0</text>
<text x="214.8" y="3397.3" font-size="36.5" text-anchor="end" textLength="48.8" lengthAdjust="spacingAndGlyphs" fill="#000">0.5</text>
<text x="214.8" y="3317.7" font-size="36.5" text-anchor="end" textLength="48.8" lengthAdjust="spacingAndGlyphs" fill="#000">1.0</text>
<text x="214.8" y="3238.1" font-size="36.5" text-anchor="end" textLength="48.8" lengthAdjust="spacingAndGlyphs" fill="#000">1.5</text>
<text x="214.8" y="3158.6" font-size="36.5" text-anchor="end" textLength="48.8" lengthAdjust="spacingAndGlyphs" fill="#000">2.0</text>
<text x="214.8" y="3079" font-size="36.5" text-anchor="end" textLength="48.8" lengthAdjust="spacingAndGlyphs" fill="#000">2.5</text>
<text x="214.8" y="2999.4" font-size="36.5" text-anchor="end" textLength="48.8" lengthAdjust="spacingAndGlyphs" fill="#000">3.0</text>
<text x="214.8" y="2919.8" font-size="36.5" text-anchor="end" textLength="48.8" lengthAdjust="spacingAndGlyphs" fill="#000">3.5</text>
<text x="214.8" y="2840.2" font-size="36.5" text-anchor="end" textLength="48.8" lengthAdjust="spacingAndGlyphs" fill="#000">4.0</text>
<text x="254.8" y="3544.9" font-size="36.5" text-anchor="middle" textLength="19.6" lengthAdjust="spacingAndGlyphs" fill="#000">0</text>
<text x="487" y="3544.9" font-size="36.5" text-anchor="middle" textLength="39.2" lengthAdjust="spacingAndGlyphs" fill="#000">50</text>
<text x="719.1" y="3544.9" font-size="36.5" text-anchor="middle" textLength="58.8" lengthAdjust="spacingAndGlyphs" fill="#000">100</text>
<text x="951.3" y="3544.9" font-size="36.5" text-anchor="middle" textLength="58.8" lengthAdjust="spacingAndGlyphs" fill="#000">150</text>
<text x="1183.4" y="3544.9" font-size="36.5" text-anchor="middle" textLength="58.8" lengthAdjust="spacingAndGlyphs" fill="#000">200</text>
<text x="339" y="3015.7" font-size="63" text-anchor="start" textLength="122" lengthAdjust="spacingAndGlyphs" fill="#000">core</text>
<text x="796" y="3116" font-size="63" text-anchor="start" textLength="141.6" lengthAdjust="spacingAndGlyphs" fill="#000">rim 1</text>
<text x="977" y="3363.5" font-size="63" text-anchor="start" textLength="144" lengthAdjust="spacingAndGlyphs" fill="#000">rim 2</text>
<path d="M251.8 3181V3276.6M243.8 3181h16M243.8 3276.6h16M261.6 3239V3334.5M253.6 3239h16M253.6 3334.5h16M269.9 3081.9V3177.4M261.9 3081.9h16M261.9 3177.4h16M279.7 3195.8V3291.4M271.7 3195.8h16M271.7 3291.4h16M290.3 3081.9V3177.4M282.3 3081.9h16M282.3 3177.4h16M300.1 3040V3135.5M292.1 3040h16M292.1 3135.5h16M308.9 3189.3V3284.8M300.9 3189.3h16M300.9 3284.8h16M320.1 3181V3276.6M312.1 3181h16M312.1 3276.6h16M329.8 3059.9V3155.4M321.8 3059.9h16M321.8 3155.4h16M339.6 3086.7V3182.2M331.6 3086.7h16M331.6 3182.2h16M349.3 3122.9V3218.5M341.3 3122.9h16M341.3 3218.5h16M359.5 3224V3319.5M351.5 3224h16M351.5 3319.5h16M369.3 3114.7V3210.2M361.3 3114.7h16M361.3 3210.2h16M379.5 3197.6V3293.1M371.5 3197.6h16M371.5 3293.1h16M389.2 3151.1V3246.6M381.2 3151.1h16M381.2 3246.6h16M399 3305.4V3400.9M391 3305.4h16M391 3400.9h16M409.2 3214V3309.5M401.2 3214h16M401.2 3309.5h16M418.9 3190.9V3286.4M410.9 3190.9h16M410.9 3286.4h16M429.2 3200.9V3296.4M421.2 3200.9h16M421.2 3296.4h16M438.9 3258.9V3354.4M430.9 3258.9h16M430.9 3354.4h16M447.3 3088.2V3183.8M439.3 3088.2h16M439.3 3183.8h16M457.5 3224V3319.5M449.5 3224h16M449.5 3319.5h16M467.2 3141.3V3236.8M459.2 3141.3h16M459.2 3236.8h16M477.4 3074.9V3170.4M469.4 3074.9h16M469.4 3170.4h16M487.2 3058.3V3153.8M479.2 3058.3h16M479.2 3153.8h16M497.4 3181V3276.6M489.4 3181h16M489.4 3276.6h16M507.2 3220.8V3316.3M499.2 3220.8h16M499.2 3316.3h16M515.5 3111.3V3206.8M507.5 3111.3h16M507.5 3206.8h16M528.5 3177.7V3273.2M520.5 3177.7h16M520.5 3273.2h16M532.2 3088.2V3183.8M524.2 3088.2h16M524.2 3183.8h16M548.5 3076.5V3172M540.5 3076.5h16M540.5 3172h16M556.8 3005.2V3100.7M548.8 3005.2h16M548.8 3100.7h16M568.5 3063.3V3158.8M560.5 3063.3h16M560.5 3158.8h16M578.2 3108V3203.5M570.2 3108h16M570.2 3203.5h16M586.6 3026.8V3122.3M578.6 3026.8h16M578.6 3122.3h16M596.3 3078.2V3173.7M588.3 3078.2h16M588.3 3173.7h16M606.1 3101.5V3197M598.1 3101.5h16M598.1 3197h16M616.3 2970.5V3066M608.3 2970.5h16M608.3 3066h16M626 3073.1V3168.6M618 3073.1h16M618 3168.6h16M634.4 3101.5V3197M626.4 3101.5h16M626.4 3197h16M644.6 3021.9V3117.4M636.6 3021.9h16M636.6 3117.4h16M654.3 3061.7V3157.2M646.3 3061.7h16M646.3 3157.2h16M664.1 2922.7V3018.2M656.1 2922.7h16M656.1 3018.2h16M684.1 3066.6V3162.1M676.1 3066.6h16M676.1 3162.1h16M694.3 3026.8V3122.3M686.3 3026.8h16M686.3 3122.3h16M704 3078.2V3173.7M696 3078.2h16M696 3173.7h16M715.6 3089.8V3185.3M707.6 3089.8h16M707.6 3185.3h16M725.4 3212.4V3307.9M717.4 3212.4h16M717.4 3307.9h16M735.6 3151.1V3246.6M727.6 3151.1h16M727.6 3246.6h16M745.4 3116.3V3211.8M737.4 3116.3h16M737.4 3211.8h16M755.6 3190.9V3286.4M747.6 3190.9h16M747.6 3286.4h16M774.6 3253.8V3349.3M766.6 3253.8h16M766.6 3349.3h16M794.6 3234.1V3329.6M786.6 3234.1h16M786.6 3329.6h16M804.3 3151.1V3246.6M796.3 3151.1h16M796.3 3246.6h16M814.5 3338.5V3434M806.5 3338.5h16M806.5 3434h16M824.3 3182.6V3278.1M816.3 3182.6h16M816.3 3278.1h16M834 3272.1V3367.6M826 3272.1h16M826 3367.6h16M844.2 3237.4V3332.9M836.2 3237.4h16M836.2 3332.9h16M854 3204.1V3299.6M846 3204.1h16M846 3299.6h16M864.2 3169.4V3264.9M856.2 3169.4h16M856.2 3264.9h16M874 3243.9V3339.4M866 3243.9h16M866 3339.4h16M884.2 3215.7V3311.3M876.2 3215.7h16M876.2 3311.3h16M893.9 3219.1V3314.6M885.9 3219.1h16M885.9 3314.6h16M903.7 3235.6V3331.1M895.7 3235.6h16M895.7 3331.1h16M913.9 3202.5V3298M905.9 3202.5h16M905.9 3298h16M923.6 3179.3V3274.8M915.6 3179.3h16M915.6 3274.8h16M953.8 3159.4V3254.9M945.8 3159.4h16M945.8 3254.9h16M963.6 3116.3V3211.8M955.6 3116.3h16M955.6 3211.8h16M973.8 3190.9V3286.4M965.8 3190.9h16M965.8 3286.4h16M983.5 3182.6V3278.1M975.5 3182.6h16M975.5 3278.1h16M993.3 3126.3V3221.8M985.3 3126.3h16M985.3 3221.8h16M1001.6 3172.6V3268.1M993.6 3172.6h16M993.6 3268.1h16M1011.9 3171V3266.5M1003.9 3171h16M1003.9 3266.5h16M1021.6 3121.4V3216.9M1013.6 3121.4h16M1013.6 3216.9h16M1031.8 3167.7V3263.2M1023.8 3167.7h16M1023.8 3263.2h16M1041.6 3164.3V3259.8M1033.6 3164.3h16M1033.6 3259.8h16M1051.8 3144.4V3239.9M1043.8 3144.4h16M1043.8 3239.9h16M1061.5 3151.1V3246.6M1053.5 3151.1h16M1053.5 3246.6h16M1071.3 3157.8V3253.3M1063.3 3157.8h16M1063.3 3253.3h16M1081.5 3162.7V3258.2M1073.5 3162.7h16M1073.5 3258.2h16M1091.3 3164.3V3259.8M1083.3 3164.3h16M1083.3 3259.8h16M1102.9 3189.3V3284.8M1094.9 3189.3h16M1094.9 3284.8h16M1122.8 3159.4V3254.9M1114.8 3159.4h16M1114.8 3254.9h16M1133 3137.9V3233.4M1125 3137.9h16M1125 3233.4h16" stroke="#000" stroke-width="3.1" fill="none"/>
<path d="M251.8 3228.8 L261.6 3286.7 L269.9 3129.6 L279.7 3243.6 L290.3 3129.6 L300.1 3087.8 L308.9 3237.1 L320.1 3228.8 L329.8 3107.7 L339.6 3134.4 L349.3 3170.7 L359.5 3271.8 L369.3 3162.4 L379.5 3245.4 L389.2 3198.9 L399 3353.1 L409.2 3261.7 L418.9 3238.7 L429.2 3248.7 L438.9 3306.6 L447.3 3136 L457.5 3271.8 L467.2 3189 L477.4 3122.6 L487.2 3106.1 L497.4 3228.8 L507.2 3268.6 L515.5 3159.1 L528.5 3225.5 L532.2 3136 L548.5 3124.2 L556.8 3052.9 L568.5 3111 L578.2 3155.7 L586.6 3074.6 L596.3 3126 L606.1 3149.2 L616.3 3018.2 L626 3120.9 L634.4 3149.2 L644.6 3069.6 L654.3 3109.4 L664.1 2970.5 L684.1 3114.4 L694.3 3074.6 L704 3126 L715.6 3137.6 L725.4 3260.2 L735.6 3198.9 L745.4 3164 L755.6 3238.7 L774.6 3301.5 L794.6 3281.8 L804.3 3198.9 L814.5 3386.2 L824.3 3230.4 L834 3319.8 L844.2 3285.1 L854 3251.9 L864.2 3217.2 L874 3291.7 L884.2 3263.5 L893.9 3266.8 L903.7 3283.4 L913.9 3250.3 L923.6 3227 L953.8 3207.2 L963.6 3164 L973.8 3238.7 L983.5 3230.4 L993.3 3174 L1001.6 3220.4 L1011.9 3218.8 L1021.6 3169.1 L1031.8 3215.4 L1041.6 3212.1 L1051.8 3192.2 L1061.5 3198.9 L1071.3 3205.6 L1081.5 3210.5 L1091.3 3212.1 L1102.9 3237.1 L1122.8 3207.2 L1133 3185.7" stroke="#4a7ebb" stroke-width="7.5" fill="none" stroke-linejoin="round" stroke-linecap="round"/>
<path d="M249.6 3216.4L254 3216.4L264.2 3226.6L264.2 3231L254 3241.2L249.6 3241.2L239.4 3231L239.4 3226.6ZM259.4 3274.3L263.8 3274.3L274 3284.5L274 3288.9L263.8 3299.1L259.4 3299.1L249.2 3288.9L249.2 3284.5ZM267.7 3117.2L272.1 3117.2L282.3 3127.4L282.3 3131.8L272.1 3142L267.7 3142L257.5 3131.8L257.5 3127.4ZM277.5 3231.2L281.9 3231.2L292.1 3241.4L292.1 3245.8L281.9 3256L277.5 3256L267.3 3245.8L267.3 3241.4ZM288.1 3117.2L292.5 3117.2L302.7 3127.4L302.7 3131.8L292.5 3142L288.1 3142L277.9 3131.8L277.9 3127.4ZM297.9 3075.4L302.3 3075.4L312.5 3085.6L312.5 3090L302.3 3100.2L297.9 3100.2L287.7 3090L287.7 3085.6ZM306.7 3224.7L311.1 3224.7L321.3 3234.9L321.3 3239.3L311.1 3249.5L306.7 3249.5L296.5 3239.3L296.5 3234.9ZM317.9 3216.4L322.3 3216.4L332.5 3226.6L332.5 3231L322.3 3241.2L317.9 3241.2L307.7 3231L307.7 3226.6ZM327.6 3095.3L332 3095.3L342.2 3105.5L342.2 3109.9L332 3120.1L327.6 3120.1L317.4 3109.9L317.4 3105.5ZM337.4 3122L341.8 3122L352 3132.2L352 3136.6L341.8 3146.8L337.4 3146.8L327.2 3136.6L327.2 3132.2ZM347.1 3158.3L351.5 3158.3L361.7 3168.5L361.7 3172.9L351.5 3183.1L347.1 3183.1L336.9 3172.9L336.9 3168.5ZM357.3 3259.4L361.7 3259.4L371.9 3269.6L371.9 3274L361.7 3284.2L357.3 3284.2L347.1 3274L347.1 3269.6ZM367.1 3150L371.5 3150L381.7 3160.2L381.7 3164.6L371.5 3174.8L367.1 3174.8L356.9 3164.6L356.9 3160.2ZM377.3 3233L381.7 3233L391.9 3243.2L391.9 3247.6L381.7 3257.8L377.3 3257.8L367.1 3247.6L367.1 3243.2ZM387 3186.5L391.4 3186.5L401.6 3196.7L401.6 3201.1L391.4 3211.3L387 3211.3L376.8 3201.1L376.8 3196.7ZM396.8 3340.7L401.2 3340.7L411.4 3350.9L411.4 3355.3L401.2 3365.5L396.8 3365.5L386.6 3355.3L386.6 3350.9ZM407 3249.3L411.4 3249.3L421.6 3259.5L421.6 3263.9L411.4 3274.1L407 3274.1L396.8 3263.9L396.8 3259.5ZM416.7 3226.3L421.1 3226.3L431.3 3236.5L431.3 3240.9L421.1 3251.1L416.7 3251.1L406.5 3240.9L406.5 3236.5ZM427 3236.3L431.4 3236.3L441.6 3246.5L441.6 3250.9L431.4 3261.1L427 3261.1L416.8 3250.9L416.8 3246.5ZM436.7 3294.2L441.1 3294.2L451.3 3304.4L451.3 3308.8L441.1 3319L436.7 3319L426.5 3308.8L426.5 3304.4ZM445.1 3123.6L449.5 3123.6L459.7 3133.8L459.7 3138.2L449.5 3148.4L445.1 3148.4L434.9 3138.2L434.9 3133.8ZM455.3 3259.4L459.7 3259.4L469.9 3269.6L469.9 3274L459.7 3284.2L455.3 3284.2L445.1 3274L445.1 3269.6ZM465 3176.6L469.4 3176.6L479.6 3186.8L479.6 3191.2L469.4 3201.4L465 3201.4L454.8 3191.2L454.8 3186.8ZM475.2 3110.2L479.6 3110.2L489.8 3120.4L489.8 3124.8L479.6 3135L475.2 3135L465 3124.8L465 3120.4ZM485 3093.7L489.4 3093.7L499.6 3103.9L499.6 3108.3L489.4 3118.5L485 3118.5L474.8 3108.3L474.8 3103.9ZM495.2 3216.4L499.6 3216.4L509.8 3226.6L509.8 3231L499.6 3241.2L495.2 3241.2L485 3231L485 3226.6ZM505 3256.2L509.4 3256.2L519.6 3266.4L519.6 3270.8L509.4 3281L505 3281L494.8 3270.8L494.8 3266.4ZM513.3 3146.7L517.7 3146.7L527.9 3156.9L527.9 3161.3L517.7 3171.5L513.3 3171.5L503.1 3161.3L503.1 3156.9ZM526.3 3213.1L530.7 3213.1L540.9 3223.3L540.9 3227.7L530.7 3237.9L526.3 3237.9L516.1 3227.7L516.1 3223.3ZM530 3123.6L534.4 3123.6L544.6 3133.8L544.6 3138.2L534.4 3148.4L530 3148.4L519.8 3138.2L519.8 3133.8ZM546.3 3111.8L550.7 3111.8L560.9 3122L560.9 3126.4L550.7 3136.6L546.3 3136.6L536.1 3126.4L536.1 3122ZM554.6 3040.5L559 3040.5L569.2 3050.7L569.2 3055.1L559 3065.3L554.6 3065.3L544.4 3055.1L544.4 3050.7ZM566.3 3098.6L570.7 3098.6L580.9 3108.8L580.9 3113.2L570.7 3123.4L566.3 3123.4L556.1 3113.2L556.1 3108.8ZM576 3143.3L580.4 3143.3L590.6 3153.5L590.6 3157.9L580.4 3168.1L576 3168.1L565.8 3157.9L565.8 3153.5ZM584.4 3062.2L588.8 3062.2L599 3072.4L599 3076.8L588.8 3087L584.4 3087L574.2 3076.8L574.2 3072.4ZM594.1 3113.6L598.5 3113.6L608.7 3123.8L608.7 3128.2L598.5 3138.4L594.1 3138.4L583.9 3128.2L583.9 3123.8ZM603.9 3136.8L608.3 3136.8L618.5 3147L618.5 3151.4L608.3 3161.6L603.9 3161.6L593.7 3151.4L593.7 3147ZM614.1 3005.8L618.5 3005.8L628.7 3016L628.7 3020.4L618.5 3030.6L614.1 3030.6L603.9 3020.4L603.9 3016ZM623.8 3108.5L628.2 3108.5L638.4 3118.7L638.4 3123.1L628.2 3133.3L623.8 3133.3L613.6 3123.1L613.6 3118.7ZM632.2 3136.8L636.6 3136.8L646.8 3147L646.8 3151.4L636.6 3161.6L632.2 3161.6L622 3151.4L622 3147ZM642.4 3057.2L646.8 3057.2L657 3067.4L657 3071.8L646.8 3082L642.4 3082L632.2 3071.8L632.2 3067.4ZM652.1 3097L656.5 3097L666.7 3107.2L666.7 3111.6L656.5 3121.8L652.1 3121.8L641.9 3111.6L641.9 3107.2ZM661.9 2958.1L666.3 2958.1L676.5 2968.3L676.5 2972.7L666.3 2982.9L661.9 2982.9L651.7 2972.7L651.7 2968.3ZM681.9 3102L686.3 3102L696.5 3112.2L696.5 3116.6L686.3 3126.8L681.9 3126.8L671.7 3116.6L671.7 3112.2ZM692.1 3062.2L696.5 3062.2L706.7 3072.4L706.7 3076.8L696.5 3087L692.1 3087L681.9 3076.8L681.9 3072.4ZM701.8 3113.6L706.2 3113.6L716.4 3123.8L716.4 3128.2L706.2 3138.4L701.8 3138.4L691.6 3128.2L691.6 3123.8ZM713.4 3125.2L717.8 3125.2L728 3135.4L728 3139.8L717.8 3150L713.4 3150L703.2 3139.8L703.2 3135.4ZM723.2 3247.8L727.6 3247.8L737.8 3258L737.8 3262.4L727.6 3272.6L723.2 3272.6L713 3262.4L713 3258ZM733.4 3186.5L737.8 3186.5L748 3196.7L748 3201.1L737.8 3211.3L733.4 3211.3L723.2 3201.1L723.2 3196.7ZM743.2 3151.6L747.6 3151.6L757.8 3161.8L757.8 3166.2L747.6 3176.4L743.2 3176.4L733 3166.2L733 3161.8ZM753.4 3226.3L757.8 3226.3L768 3236.5L768 3240.9L757.8 3251.1L753.4 3251.1L743.2 3240.9L743.2 3236.5ZM772.4 3289.1L776.8 3289.1L787 3299.3L787 3303.7L776.8 3313.9L772.4 3313.9L762.2 3303.7L762.2 3299.3ZM792.4 3269.4L796.8 3269.4L807 3279.6L807 3284L796.8 3294.2L792.4 3294.2L782.2 3284L782.2 3279.6ZM802.1 3186.5L806.5 3186.5L816.7 3196.7L816.7 3201.1L806.5 3211.3L802.1 3211.3L791.9 3201.1L791.9 3196.7ZM812.3 3373.8L816.7 3373.8L826.9 3384L826.9 3388.4L816.7 3398.6L812.3 3398.6L802.1 3388.4L802.1 3384ZM822.1 3218L826.5 3218L836.7 3228.2L836.7 3232.6L826.5 3242.8L822.1 3242.8L811.9 3232.6L811.9 3228.2ZM831.8 3307.4L836.2 3307.4L846.4 3317.6L846.4 3322L836.2 3332.2L831.8 3332.2L821.6 3322L821.6 3317.6ZM842 3272.7L846.4 3272.7L856.6 3282.9L856.6 3287.3L846.4 3297.5L842 3297.5L831.8 3287.3L831.8 3282.9ZM851.8 3239.5L856.2 3239.5L866.4 3249.7L866.4 3254.1L856.2 3264.3L851.8 3264.3L841.6 3254.1L841.6 3249.7ZM862 3204.8L866.4 3204.8L876.6 3215L876.6 3219.4L866.4 3229.6L862 3229.6L851.8 3219.4L851.8 3215ZM871.8 3279.3L876.2 3279.3L886.4 3289.5L886.4 3293.9L876.2 3304.1L871.8 3304.1L861.6 3293.9L861.6 3289.5ZM882 3251.1L886.4 3251.1L896.6 3261.3L896.6 3265.7L886.4 3275.9L882 3275.9L871.8 3265.7L871.8 3261.3ZM891.7 3254.4L896.1 3254.4L906.3 3264.6L906.3 3269L896.1 3279.2L891.7 3279.2L881.5 3269L881.5 3264.6ZM901.5 3271L905.9 3271L916.1 3281.2L916.1 3285.6L905.9 3295.8L901.5 3295.8L891.3 3285.6L891.3 3281.2ZM911.7 3237.9L916.1 3237.9L926.3 3248.1L926.3 3252.5L916.1 3262.7L911.7 3262.7L901.5 3252.5L901.5 3248.1ZM921.4 3214.6L925.8 3214.6L936 3224.8L936 3229.2L925.8 3239.4L921.4 3239.4L911.2 3229.2L911.2 3224.8ZM951.6 3194.8L956 3194.8L966.2 3205L966.2 3209.4L956 3219.6L951.6 3219.6L941.4 3209.4L941.4 3205ZM961.4 3151.6L965.8 3151.6L976 3161.8L976 3166.2L965.8 3176.4L961.4 3176.4L951.2 3166.2L951.2 3161.8ZM971.6 3226.3L976 3226.3L986.2 3236.5L986.2 3240.9L976 3251.1L971.6 3251.1L961.4 3240.9L961.4 3236.5ZM981.3 3218L985.7 3218L995.9 3228.2L995.9 3232.6L985.7 3242.8L981.3 3242.8L971.1 3232.6L971.1 3228.2ZM991.1 3161.6L995.5 3161.6L1005.7 3171.8L1005.7 3176.2L995.5 3186.4L991.1 3186.4L980.9 3176.2L980.9 3171.8ZM999.4 3208L1003.8 3208L1014 3218.2L1014 3222.6L1003.8 3232.8L999.4 3232.8L989.2 3222.6L989.2 3218.2ZM1009.7 3206.4L1014.1 3206.4L1024.3 3216.6L1024.3 3221L1014.1 3231.2L1009.7 3231.2L999.5 3221L999.5 3216.6ZM1019.4 3156.7L1023.8 3156.7L1034 3166.9L1034 3171.3L1023.8 3181.5L1019.4 3181.5L1009.2 3171.3L1009.2 3166.9ZM1029.6 3203L1034 3203L1044.2 3213.2L1044.2 3217.6L1034 3227.8L1029.6 3227.8L1019.4 3217.6L1019.4 3213.2ZM1039.4 3199.7L1043.8 3199.7L1054 3209.9L1054 3214.3L1043.8 3224.5L1039.4 3224.5L1029.2 3214.3L1029.2 3209.9ZM1049.6 3179.8L1054 3179.8L1064.2 3190L1064.2 3194.4L1054 3204.6L1049.6 3204.6L1039.4 3194.4L1039.4 3190ZM1059.3 3186.5L1063.7 3186.5L1073.9 3196.7L1073.9 3201.1L1063.7 3211.3L1059.3 3211.3L1049.1 3201.1L1049.1 3196.7ZM1069.1 3193.2L1073.5 3193.2L1083.7 3203.4L1083.7 3207.8L1073.5 3218L1069.1 3218L1058.9 3207.8L1058.9 3203.4ZM1079.3 3198.1L1083.7 3198.1L1093.9 3208.3L1093.9 3212.7L1083.7 3222.9L1079.3 3222.9L1069.1 3212.7L1069.1 3208.3ZM1089.1 3199.7L1093.5 3199.7L1103.7 3209.9L1103.7 3214.3L1093.5 3224.5L1089.1 3224.5L1078.9 3214.3L1078.9 3209.9ZM1100.7 3224.7L1105.1 3224.7L1115.3 3234.9L1115.3 3239.3L1105.1 3249.5L1100.7 3249.5L1090.5 3239.3L1090.5 3234.9ZM1120.6 3194.8L1125 3194.8L1135.2 3205L1135.2 3209.4L1125 3219.6L1120.6 3219.6L1110.4 3209.4L1110.4 3205ZM1130.8 3173.3L1135.2 3173.3L1145.4 3183.5L1145.4 3187.9L1135.2 3198.1L1130.8 3198.1L1120.6 3187.9L1120.6 3183.5Z" fill="#4f81bd"/>
<rect x="254" y="3036.7" width="271.6" height="385.2" fill="none" stroke="#2e5395" stroke-width="7.7" stroke-dasharray="7.7 5.2"/>
<rect x="822" y="3150" width="79" height="239" fill="none" stroke="#2e5395" stroke-width="7.7" stroke-dasharray="7.7 5.2"/>
<rect x="953.5" y="3095" width="154" height="206" fill="none" stroke="#2e5395" stroke-width="7.7" stroke-dasharray="7.7 5.2"/>
<line x1="1045" y1="2840.7" x2="1111" y2="2840.7" stroke="#4a7ebb" stroke-width="7.8" stroke-linecap="round"/>
<path d="M1075.8 2828.3L1080.2 2828.3L1090.4 2838.5L1090.4 2842.9L1080.2 2853.1L1075.8 2853.1L1065.6 2842.9L1065.6 2838.5Z" fill="#4f81bd"/>
<text x="1124" y="2853.7" font-size="35.5" text-anchor="start" textLength="96" lengthAdjust="spacingAndGlyphs" fill="#000">ΔNNO</text>
<text x="555" y="3624" font-size="45" text-anchor="start" font-weight="bold" textLength="328.5" lengthAdjust="spacingAndGlyphs" fill="#000">distance c-r (μm)</text>
<path d="M1465 2827V3477.2M1452 3464.2H2398.3M1455 3464.2H1465M1455 3413.1H1465M1455 3361.9H1465M1455 3310.8H1465M1455 3259.7H1465M1455 3208.5H1465M1455 3157.4H1465M1455 3106.2H1465M1455 3055.1H1465M1455 3004H1465M1455 2952.8H1465M1455 2901.7H1465M1455 2850.6H1465M1452 3464.2H1465M1452 3208.5H1465M1452 2952.8H1465M1511.7 3464.2V3474.7M1558.3 3464.2V3474.7M1605 3464.2V3474.7M1651.7 3464.2V3474.7M1698.3 3464.2V3477.2M1745 3464.2V3474.7M1791.7 3464.2V3474.7M1838.3 3464.2V3474.7M1885 3464.2V3474.7M1931.7 3464.2V3477.2M1978.3 3464.2V3474.7M2025 3464.2V3474.7M2071.6 3464.2V3474.7M2118.3 3464.2V3474.7M2165 3464.2V3477.2M2211.6 3464.2V3474.7M2258.3 3464.2V3474.7M2305 3464.2V3474.7M2351.6 3464.2V3474.7M2398.3 3464.2V3477.2" stroke="#868686" stroke-width="3.4" fill="none"/>
<text x="1428" y="3477.2" font-size="36.5" text-anchor="end" textLength="48.8" lengthAdjust="spacingAndGlyphs" fill="#000">4.0</text>
<text x="1428" y="3221.5" font-size="36.5" text-anchor="end" textLength="48.8" lengthAdjust="spacingAndGlyphs" fill="#000">6.0</text>
<text x="1428" y="2965.8" font-size="36.5" text-anchor="end" textLength="48.8" lengthAdjust="spacingAndGlyphs" fill="#000">8.0</text>
<text x="1468" y="3545.2" font-size="36.5" text-anchor="middle" textLength="19.6" lengthAdjust="spacingAndGlyphs" fill="#000">0</text>
<text x="1701.3" y="3545.2" font-size="36.5" text-anchor="middle" textLength="39.2" lengthAdjust="spacingAndGlyphs" fill="#000">50</text>
<text x="1934.7" y="3545.2" font-size="36.5" text-anchor="middle" textLength="58.8" lengthAdjust="spacingAndGlyphs" fill="#000">100</text>
<text x="2168" y="3545.2" font-size="36.5" text-anchor="middle" textLength="58.8" lengthAdjust="spacingAndGlyphs" fill="#000">150</text>
<text x="2401.3" y="3545.2" font-size="36.5" text-anchor="middle" textLength="58.8" lengthAdjust="spacingAndGlyphs" fill="#000">200</text>
<text x="1539.4" y="3022.7" font-size="63" text-anchor="start" textLength="122" lengthAdjust="spacingAndGlyphs" fill="#000">core</text>
<text x="2003" y="2838" font-size="63" text-anchor="start" textLength="141.6" lengthAdjust="spacingAndGlyphs" fill="#000">rim 1</text>
<text x="2182" y="3083" font-size="63" text-anchor="start" textLength="144" lengthAdjust="spacingAndGlyphs" fill="#000">rim 2</text>
<path d="M1465 3163.9V3375.6M1457 3163.9h16M1457 3375.6h16M1474.8 3167V3377.9M1466.8 3167h16M1466.8 3377.9h16M1484.9 3141.1V3358.8M1476.9 3141.1h16M1476.9 3358.8h16M1493.1 3245.9V3436.3M1485.1 3245.9h16M1485.1 3436.3h16M1503.1 3204V3405.3M1495.1 3204h16M1495.1 3405.3h16M1513.1 3211.7V3410.9M1505.1 3211.7h16M1505.1 3410.9h16M1522.9 3183V3389.8M1514.9 3183h16M1514.9 3389.8h16M1533.1 3224.9V3420.7M1525.1 3224.9h16M1525.1 3420.7h16M1542.9 3175.4V3384.1M1534.9 3175.4h16M1534.9 3384.1h16M1552.7 3127.7V3348.9M1544.7 3127.7h16M1544.7 3348.9h16M1562.8 3139.2V3357.4M1554.8 3139.2h16M1554.8 3357.4h16M1572.8 3247.8V3437.7M1564.8 3247.8h16M1564.8 3437.7h16M1582.6 3120.1V3343.2M1574.6 3120.1h16M1574.6 3343.2h16M1592.9 3139.2V3357.4M1584.9 3139.2h16M1584.9 3357.4h16M1604.1 3188.7V3394M1596.1 3188.7h16M1596.1 3394h16M1614.3 3236.4V3429.2M1606.3 3236.4h16M1606.3 3429.2h16M1624.1 3160.1V3372.8M1616.1 3160.1h16M1616.1 3372.8h16M1633.9 3122V3344.7M1625.9 3122h16M1625.9 3344.7h16M1644.2 3120.1V3343.2M1636.2 3120.1h16M1636.2 3343.2h16M1654 3173.4V3382.7M1646 3173.4h16M1646 3382.7h16M1663.8 3135.4V3354.5M1655.8 3135.4h16M1655.8 3354.5h16M1674.1 3158.2V3371.4M1666.1 3158.2h16M1666.1 3371.4h16M1683.9 3150.7V3365.8M1675.9 3150.7h16M1675.9 3365.8h16M1692.3 3165.8V3377M1684.3 3165.8h16M1684.3 3377h16M1702.1 3135.4V3354.5M1694.1 3135.4h16M1694.1 3354.5h16M1711.9 3221.1V3417.9M1703.9 3221.1h16M1703.9 3417.9h16M1722.1 3173.4V3382.7M1714.1 3173.4h16M1714.1 3382.7h16M1735.2 3196.4V3399.6M1727.2 3196.4h16M1727.2 3399.6h16M1743.6 3022.9V3271.4M1735.6 3022.9h16M1735.6 3271.4h16M1753.4 3173.4V3382.7M1745.4 3173.4h16M1745.4 3382.7h16M1763.7 3110.5V3336.2M1755.7 3110.5h16M1755.7 3336.2h16M1771.6 3177.3V3385.5M1763.6 3177.3h16M1763.6 3385.5h16M1781.9 3127.7V3348.9M1773.9 3127.7h16M1773.9 3348.9h16M1793.5 3139.2V3357.4M1785.5 3139.2h16M1785.5 3357.4h16M1801.5 3114.3V3339M1793.5 3114.3h16M1793.5 3339h16M1813.1 3070.5V3306.6M1805.1 3070.5h16M1805.1 3306.6h16M1823.4 3162V3374.2M1815.4 3162h16M1815.4 3374.2h16M1833.2 3093.5V3323.6M1825.2 3093.5h16M1825.2 3323.6h16M1843 3131.5V3351.7M1835 3131.5h16M1835 3351.7h16M1853.3 3101V3329.1M1845.3 3101h16M1845.3 3329.1h16M1863.1 3110.5V3336.2M1855.1 3110.5h16M1855.1 3336.2h16M1872.9 3080.1V3313.7M1864.9 3080.1h16M1864.9 3313.7h16M1881.3 3059.1V3298.1M1873.3 3059.1h16M1873.3 3298.1h16M1899.5 3114.3V3339M1891.5 3114.3h16M1891.5 3339h16M1911.1 3129.6V3350.3M1903.1 3129.6h16M1903.1 3350.3h16M1920.9 3127.7V3348.9M1912.9 3127.7h16M1912.9 3348.9h16M1930.7 3097.1V3326.3M1922.7 3097.1h16M1922.7 3326.3h16M1942.4 3137.3V3356M1934.4 3137.3h16M1934.4 3356h16M1952.6 3129.6V3350.3M1944.6 3129.6h16M1944.6 3350.3h16M1962.4 3123.9V3346.1M1954.4 3123.9h16M1954.4 3346.1h16M1970.8 3207.8V3408.1M1962.8 3207.8h16M1962.8 3408.1h16M1991.4 3102.3V3330.1M1983.4 3102.3h16M1983.4 3330.1h16M2011.4 3115.5V3339.9M2003.4 3115.5h16M2003.4 3339.9h16M2021.2 3132.9V3352.7M2013.2 3132.9h16M2013.2 3352.7h16M2029.6 2993.5V3249.7M2021.6 2993.5h16M2021.6 3249.7h16M2039.4 2852.5V3145.5M2031.4 2852.5h16M2031.4 3145.5h16M2053 2885V3169.5M2045 2885h16M2045 3169.5h16M2061.4 2974.4V3235.6M2053.4 2974.4h16M2053.4 3235.6h16M2071.2 2928.8V3201.9M2063.2 2928.8h16M2063.2 3201.9h16M2081.4 2925V3199M2073.4 2925h16M2073.4 3199h16M2091.2 2906V3185M2083.2 2906h16M2083.2 3185h16M2101 2986.1V3244.3M2093 2986.1h16M2093 3244.3h16M2111.3 3003.2V3256.9M2103.3 3003.2h16M2103.3 3256.9h16M2121.1 3024.2V3272.4M2113.1 3024.2h16M2113.1 3272.4h16M2131.4 3115.5V3339.9M2123.4 3115.5h16M2123.4 3339.9h16M2141.2 3119.5V3342.8M2133.2 3119.5h16M2133.2 3342.8h16M2170.6 3172.9V3382.3M2162.6 3172.9h16M2162.6 3382.3h16M2180.8 3214.9V3413.3M2172.8 3214.9h16M2172.8 3413.3h16M2190.6 3163.4V3375.3M2182.6 3163.4h16M2182.6 3375.3h16M2200.4 3153.9V3368.2M2192.4 3153.9h16M2192.4 3368.2h16M2207.4 3218.4V3415.9M2199.4 3218.4h16M2199.4 3415.9h16M2219.1 3188.1V3393.6M2211.1 3188.1h16M2211.1 3393.6h16M2230.8 3127.1V3348.5M2222.8 3127.1h16M2222.8 3348.5h16M2240.6 3113.8V3338.6M2232.6 3113.8h16M2232.6 3338.6h16M2250.4 3115.5V3339.9M2242.4 3115.5h16M2242.4 3339.9h16M2260.6 3184.3V3390.7M2252.6 3184.3h16M2252.6 3390.7h16M2270.4 3169V3379.4M2262.4 3169h16M2262.4 3379.4h16M2280.2 3121.4V3344.2M2272.2 3121.4h16M2272.2 3344.2h16M2290.5 3132.9V3352.7M2282.5 3132.9h16M2282.5 3352.7h16M2300.3 3125.2V3347M2292.3 3125.2h16M2292.3 3347h16M2310.1 3159.6V3372.5M2302.1 3159.6h16M2302.1 3372.5h16M2320.4 3047V3289.2M2312.4 3047h16M2312.4 3289.2h16M2340 3052.7V3293.5M2332 3052.7h16M2332 3293.5h16M2351.6 3129V3349.9M2343.6 3129h16M2343.6 3349.9h16" stroke="#000" stroke-width="3.1" fill="none"/>
<path d="M1465 3269.8 L1474.8 3272.4 L1484.9 3249.9 L1493.1 3341.1 L1503.1 3304.7 L1513.1 3311.3 L1522.9 3286.4 L1533.1 3322.8 L1542.9 3279.7 L1552.7 3238.3 L1562.8 3248.3 L1572.8 3342.8 L1582.6 3231.7 L1592.9 3248.3 L1604.1 3291.4 L1614.3 3332.8 L1624.1 3266.4 L1633.9 3233.3 L1644.2 3231.7 L1654 3278.1 L1663.8 3245 L1674.1 3264.8 L1683.9 3258.2 L1692.3 3271.4 L1702.1 3245 L1711.9 3319.5 L1722.1 3278.1 L1735.2 3298 L1743.6 3147.2 L1753.4 3278.1 L1763.7 3223.3 L1771.6 3281.4 L1781.9 3238.3 L1793.5 3248.3 L1801.5 3226.7 L1813.1 3188.6 L1823.4 3268.1 L1833.2 3208.5 L1843 3241.6 L1853.3 3215 L1863.1 3223.3 L1872.9 3196.9 L1881.3 3178.6 L1899.5 3226.7 L1911.1 3240 L1920.9 3238.3 L1930.7 3211.7 L1942.4 3246.6 L1952.6 3240 L1962.4 3235 L1970.8 3308 L1991.4 3216.2 L2011.4 3227.7 L2021.2 3242.8 L2029.6 3121.6 L2039.4 2999 L2053 3027.2 L2061.4 3105 L2071.2 3065.3 L2081.4 3062 L2091.2 3045.5 L2101 3115.2 L2111.3 3130 L2121.1 3148.3 L2131.4 3227.7 L2141.2 3231.1 L2170.6 3277.6 L2180.8 3314.1 L2190.6 3269.4 L2200.4 3261.1 L2207.4 3317.2 L2219.1 3290.8 L2230.8 3237.8 L2240.6 3226.2 L2250.4 3227.7 L2260.6 3287.5 L2270.4 3274.2 L2280.2 3232.8 L2290.5 3242.8 L2300.3 3236.1 L2310.1 3266 L2320.4 3168.1 L2340 3173.1 L2351.6 3239.5" stroke="#4a7ebb" stroke-width="7.5" fill="none" stroke-linejoin="round" stroke-linecap="round"/>
<path d="M1462.8 3257.4L1467.2 3257.4L1477.4 3267.6L1477.4 3272L1467.2 3282.2L1462.8 3282.2L1452.6 3272L1452.6 3267.6ZM1472.6 3260L1477 3260L1487.2 3270.2L1487.2 3274.6L1477 3284.8L1472.6 3284.8L1462.4 3274.6L1462.4 3270.2ZM1482.7 3237.5L1487.1 3237.5L1497.3 3247.7L1497.3 3252.1L1487.1 3262.3L1482.7 3262.3L1472.5 3252.1L1472.5 3247.7ZM1490.9 3328.7L1495.3 3328.7L1505.5 3338.9L1505.5 3343.3L1495.3 3353.5L1490.9 3353.5L1480.7 3343.3L1480.7 3338.9ZM1500.9 3292.3L1505.3 3292.3L1515.5 3302.5L1515.5 3306.9L1505.3 3317.1L1500.9 3317.1L1490.7 3306.9L1490.7 3302.5ZM1510.9 3298.9L1515.3 3298.9L1525.5 3309.1L1525.5 3313.5L1515.3 3323.7L1510.9 3323.7L1500.7 3313.5L1500.7 3309.1ZM1520.7 3274L1525.1 3274L1535.3 3284.2L1535.3 3288.6L1525.1 3298.8L1520.7 3298.8L1510.5 3288.6L1510.5 3284.2ZM1530.9 3310.4L1535.3 3310.4L1545.5 3320.6L1545.5 3325L1535.3 3335.2L1530.9 3335.2L1520.7 3325L1520.7 3320.6ZM1540.7 3267.3L1545.1 3267.3L1555.3 3277.5L1555.3 3281.9L1545.1 3292.1L1540.7 3292.1L1530.5 3281.9L1530.5 3277.5ZM1550.5 3225.9L1554.9 3225.9L1565.1 3236.1L1565.1 3240.5L1554.9 3250.7L1550.5 3250.7L1540.3 3240.5L1540.3 3236.1ZM1560.6 3235.9L1565 3235.9L1575.2 3246.1L1575.2 3250.5L1565 3260.7L1560.6 3260.7L1550.4 3250.5L1550.4 3246.1ZM1570.6 3330.4L1575 3330.4L1585.2 3340.6L1585.2 3345L1575 3355.2L1570.6 3355.2L1560.4 3345L1560.4 3340.6ZM1580.4 3219.3L1584.8 3219.3L1595 3229.5L1595 3233.9L1584.8 3244.1L1580.4 3244.1L1570.2 3233.9L1570.2 3229.5ZM1590.7 3235.9L1595.1 3235.9L1605.3 3246.1L1605.3 3250.5L1595.1 3260.7L1590.7 3260.7L1580.5 3250.5L1580.5 3246.1ZM1601.9 3279L1606.3 3279L1616.5 3289.2L1616.5 3293.6L1606.3 3303.8L1601.9 3303.8L1591.7 3293.6L1591.7 3289.2ZM1612.1 3320.4L1616.5 3320.4L1626.7 3330.6L1626.7 3335L1616.5 3345.2L1612.1 3345.2L1601.9 3335L1601.9 3330.6ZM1621.9 3254L1626.3 3254L1636.5 3264.2L1636.5 3268.6L1626.3 3278.8L1621.9 3278.8L1611.7 3268.6L1611.7 3264.2ZM1631.7 3220.9L1636.1 3220.9L1646.3 3231.1L1646.3 3235.5L1636.1 3245.7L1631.7 3245.7L1621.5 3235.5L1621.5 3231.1ZM1642 3219.3L1646.4 3219.3L1656.6 3229.5L1656.6 3233.9L1646.4 3244.1L1642 3244.1L1631.8 3233.9L1631.8 3229.5ZM1651.8 3265.7L1656.2 3265.7L1666.4 3275.9L1666.4 3280.3L1656.2 3290.5L1651.8 3290.5L1641.6 3280.3L1641.6 3275.9ZM1661.6 3232.6L1666 3232.6L1676.2 3242.8L1676.2 3247.2L1666 3257.4L1661.6 3257.4L1651.4 3247.2L1651.4 3242.8ZM1671.9 3252.4L1676.3 3252.4L1686.5 3262.6L1686.5 3267L1676.3 3277.2L1671.9 3277.2L1661.7 3267L1661.7 3262.6ZM1681.7 3245.8L1686.1 3245.8L1696.3 3256L1696.3 3260.4L1686.1 3270.6L1681.7 3270.6L1671.5 3260.4L1671.5 3256ZM1690.1 3259L1694.5 3259L1704.7 3269.2L1704.7 3273.6L1694.5 3283.8L1690.1 3283.8L1679.9 3273.6L1679.9 3269.2ZM1699.9 3232.6L1704.3 3232.6L1714.5 3242.8L1714.5 3247.2L1704.3 3257.4L1699.9 3257.4L1689.7 3247.2L1689.7 3242.8ZM1709.7 3307.1L1714.1 3307.1L1724.3 3317.3L1724.3 3321.7L1714.1 3331.9L1709.7 3331.9L1699.5 3321.7L1699.5 3317.3ZM1719.9 3265.7L1724.3 3265.7L1734.5 3275.9L1734.5 3280.3L1724.3 3290.5L1719.9 3290.5L1709.7 3280.3L1709.7 3275.9ZM1733 3285.6L1737.4 3285.6L1747.6 3295.8L1747.6 3300.2L1737.4 3310.4L1733 3310.4L1722.8 3300.2L1722.8 3295.8ZM1741.4 3134.8L1745.8 3134.8L1756 3145L1756 3149.4L1745.8 3159.6L1741.4 3159.6L1731.2 3149.4L1731.2 3145ZM1751.2 3265.7L1755.6 3265.7L1765.8 3275.9L1765.8 3280.3L1755.6 3290.5L1751.2 3290.5L1741 3280.3L1741 3275.9ZM1761.5 3210.9L1765.9 3210.9L1776.1 3221.1L1776.1 3225.5L1765.9 3235.7L1761.5 3235.7L1751.3 3225.5L1751.3 3221.1ZM1769.4 3269L1773.8 3269L1784 3279.2L1784 3283.6L1773.8 3293.8L1769.4 3293.8L1759.2 3283.6L1759.2 3279.2ZM1779.7 3225.9L1784.1 3225.9L1794.3 3236.1L1794.3 3240.5L1784.1 3250.7L1779.7 3250.7L1769.5 3240.5L1769.5 3236.1ZM1791.3 3235.9L1795.7 3235.9L1805.9 3246.1L1805.9 3250.5L1795.7 3260.7L1791.3 3260.7L1781.1 3250.5L1781.1 3246.1ZM1799.3 3214.3L1803.7 3214.3L1813.9 3224.5L1813.9 3228.9L1803.7 3239.1L1799.3 3239.1L1789.1 3228.9L1789.1 3224.5ZM1810.9 3176.2L1815.3 3176.2L1825.5 3186.4L1825.5 3190.8L1815.3 3201L1810.9 3201L1800.7 3190.8L1800.7 3186.4ZM1821.2 3255.7L1825.6 3255.7L1835.8 3265.9L1835.8 3270.3L1825.6 3280.5L1821.2 3280.5L1811 3270.3L1811 3265.9ZM1831 3196.1L1835.4 3196.1L1845.6 3206.3L1845.6 3210.7L1835.4 3220.9L1831 3220.9L1820.8 3210.7L1820.8 3206.3ZM1840.8 3229.2L1845.2 3229.2L1855.4 3239.4L1855.4 3243.8L1845.2 3254L1840.8 3254L1830.6 3243.8L1830.6 3239.4ZM1851.1 3202.6L1855.5 3202.6L1865.7 3212.8L1865.7 3217.2L1855.5 3227.4L1851.1 3227.4L1840.9 3217.2L1840.9 3212.8ZM1860.9 3210.9L1865.3 3210.9L1875.5 3221.1L1875.5 3225.5L1865.3 3235.7L1860.9 3235.7L1850.7 3225.5L1850.7 3221.1ZM1870.7 3184.5L1875.1 3184.5L1885.3 3194.7L1885.3 3199.1L1875.1 3209.3L1870.7 3209.3L1860.5 3199.1L1860.5 3194.7ZM1879.1 3166.2L1883.5 3166.2L1893.7 3176.4L1893.7 3180.8L1883.5 3191L1879.1 3191L1868.9 3180.8L1868.9 3176.4ZM1897.3 3214.3L1901.7 3214.3L1911.9 3224.5L1911.9 3228.9L1901.7 3239.1L1897.3 3239.1L1887.1 3228.9L1887.1 3224.5ZM1908.9 3227.6L1913.3 3227.6L1923.5 3237.8L1923.5 3242.2L1913.3 3252.4L1908.9 3252.4L1898.7 3242.2L1898.7 3237.8ZM1918.7 3225.9L1923.1 3225.9L1933.3 3236.1L1933.3 3240.5L1923.1 3250.7L1918.7 3250.7L1908.5 3240.5L1908.5 3236.1ZM1928.5 3199.3L1932.9 3199.3L1943.1 3209.5L1943.1 3213.9L1932.9 3224.1L1928.5 3224.1L1918.3 3213.9L1918.3 3209.5ZM1940.2 3234.2L1944.6 3234.2L1954.8 3244.4L1954.8 3248.8L1944.6 3259L1940.2 3259L1930 3248.8L1930 3244.4ZM1950.4 3227.6L1954.8 3227.6L1965 3237.8L1965 3242.2L1954.8 3252.4L1950.4 3252.4L1940.2 3242.2L1940.2 3237.8ZM1960.2 3222.6L1964.6 3222.6L1974.8 3232.8L1974.8 3237.2L1964.6 3247.4L1960.2 3247.4L1950 3237.2L1950 3232.8ZM1968.6 3295.6L1973 3295.6L1983.2 3305.8L1983.2 3310.2L1973 3320.4L1968.6 3320.4L1958.4 3310.2L1958.4 3305.8ZM1989.2 3203.8L1993.6 3203.8L2003.8 3214L2003.8 3218.4L1993.6 3228.6L1989.2 3228.6L1979 3218.4L1979 3214ZM2009.2 3215.3L2013.6 3215.3L2023.8 3225.5L2023.8 3229.9L2013.6 3240.1L2009.2 3240.1L1999 3229.9L1999 3225.5ZM2019 3230.4L2023.4 3230.4L2033.6 3240.6L2033.6 3245L2023.4 3255.2L2019 3255.2L2008.8 3245L2008.8 3240.6ZM2027.4 3109.2L2031.8 3109.2L2042 3119.4L2042 3123.8L2031.8 3134L2027.4 3134L2017.2 3123.8L2017.2 3119.4ZM2037.2 2986.6L2041.6 2986.6L2051.8 2996.8L2051.8 3001.2L2041.6 3011.4L2037.2 3011.4L2027 3001.2L2027 2996.8ZM2050.8 3014.8L2055.2 3014.8L2065.4 3025L2065.4 3029.4L2055.2 3039.6L2050.8 3039.6L2040.6 3029.4L2040.6 3025ZM2059.2 3092.6L2063.6 3092.6L2073.8 3102.8L2073.8 3107.2L2063.6 3117.4L2059.2 3117.4L2049 3107.2L2049 3102.8ZM2069 3052.9L2073.4 3052.9L2083.6 3063.1L2083.6 3067.5L2073.4 3077.7L2069 3077.7L2058.8 3067.5L2058.8 3063.1ZM2079.2 3049.6L2083.6 3049.6L2093.8 3059.8L2093.8 3064.2L2083.6 3074.4L2079.2 3074.4L2069 3064.2L2069 3059.8ZM2089 3033.1L2093.4 3033.1L2103.6 3043.3L2103.6 3047.7L2093.4 3057.9L2089 3057.9L2078.8 3047.7L2078.8 3043.3ZM2098.8 3102.8L2103.2 3102.8L2113.4 3113L2113.4 3117.4L2103.2 3127.6L2098.8 3127.6L2088.6 3117.4L2088.6 3113ZM2109.1 3117.6L2113.5 3117.6L2123.7 3127.8L2123.7 3132.2L2113.5 3142.4L2109.1 3142.4L2098.9 3132.2L2098.9 3127.8ZM2118.9 3135.9L2123.3 3135.9L2133.5 3146.1L2133.5 3150.5L2123.3 3160.7L2118.9 3160.7L2108.7 3150.5L2108.7 3146.1ZM2129.2 3215.3L2133.6 3215.3L2143.8 3225.5L2143.8 3229.9L2133.6 3240.1L2129.2 3240.1L2119 3229.9L2119 3225.5ZM2139 3218.7L2143.4 3218.7L2153.6 3228.9L2153.6 3233.3L2143.4 3243.5L2139 3243.5L2128.8 3233.3L2128.8 3228.9ZM2168.4 3265.2L2172.8 3265.2L2183 3275.4L2183 3279.8L2172.8 3290L2168.4 3290L2158.2 3279.8L2158.2 3275.4ZM2178.6 3301.7L2183 3301.7L2193.2 3311.9L2193.2 3316.3L2183 3326.5L2178.6 3326.5L2168.4 3316.3L2168.4 3311.9ZM2188.4 3257L2192.8 3257L2203 3267.2L2203 3271.6L2192.8 3281.8L2188.4 3281.8L2178.2 3271.6L2178.2 3267.2ZM2198.2 3248.7L2202.6 3248.7L2212.8 3258.9L2212.8 3263.3L2202.6 3273.5L2198.2 3273.5L2188 3263.3L2188 3258.9ZM2205.2 3304.8L2209.6 3304.8L2219.8 3315L2219.8 3319.4L2209.6 3329.6L2205.2 3329.6L2195 3319.4L2195 3315ZM2216.9 3278.4L2221.3 3278.4L2231.5 3288.6L2231.5 3293L2221.3 3303.2L2216.9 3303.2L2206.7 3293L2206.7 3288.6ZM2228.6 3225.4L2233 3225.4L2243.2 3235.6L2243.2 3240L2233 3250.2L2228.6 3250.2L2218.4 3240L2218.4 3235.6ZM2238.4 3213.8L2242.8 3213.8L2253 3224L2253 3228.4L2242.8 3238.6L2238.4 3238.6L2228.2 3228.4L2228.2 3224ZM2248.2 3215.3L2252.6 3215.3L2262.8 3225.5L2262.8 3229.9L2252.6 3240.1L2248.2 3240.1L2238 3229.9L2238 3225.5ZM2258.4 3275.1L2262.8 3275.1L2273 3285.3L2273 3289.7L2262.8 3299.9L2258.4 3299.9L2248.2 3289.7L2248.2 3285.3ZM2268.2 3261.8L2272.6 3261.8L2282.8 3272L2282.8 3276.4L2272.6 3286.6L2268.2 3286.6L2258 3276.4L2258 3272ZM2278 3220.4L2282.4 3220.4L2292.6 3230.6L2292.6 3235L2282.4 3245.2L2278 3245.2L2267.8 3235L2267.8 3230.6ZM2288.3 3230.4L2292.7 3230.4L2302.9 3240.6L2302.9 3245L2292.7 3255.2L2288.3 3255.2L2278.1 3245L2278.1 3240.6ZM2298.1 3223.7L2302.5 3223.7L2312.7 3233.9L2312.7 3238.3L2302.5 3248.5L2298.1 3248.5L2287.9 3238.3L2287.9 3233.9ZM2307.9 3253.6L2312.3 3253.6L2322.5 3263.8L2322.5 3268.2L2312.3 3278.4L2307.9 3278.4L2297.7 3268.2L2297.7 3263.8ZM2318.2 3155.7L2322.6 3155.7L2332.8 3165.9L2332.8 3170.3L2322.6 3180.5L2318.2 3180.5L2308 3170.3L2308 3165.9ZM2337.8 3160.7L2342.2 3160.7L2352.4 3170.9L2352.4 3175.3L2342.2 3185.5L2337.8 3185.5L2327.6 3175.3L2327.6 3170.9ZM2349.4 3227.1L2353.8 3227.1L2364 3237.3L2364 3241.7L2353.8 3251.9L2349.4 3251.9L2339.2 3241.7L2339.2 3237.3Z" fill="#4f81bd"/>
<rect x="1466" y="3106.8" width="272" height="346.2" fill="none" stroke="#2e5395" stroke-width="7.7" stroke-dasharray="7.7 5.2"/>
<rect x="2034" y="2851.6" width="78" height="399.1" fill="none" stroke="#2e5395" stroke-width="7.7" stroke-dasharray="7.7 5.2"/>
<rect x="2166.5" y="3106.8" width="158.5" height="346.2" fill="none" stroke="#2e5395" stroke-width="7.7" stroke-dasharray="7.7 5.2"/>
<line x1="2203" y1="2820.5" x2="2269" y2="2820.5" stroke="#4a7ebb" stroke-width="7.8" stroke-linecap="round"/>
<path d="M2233.8 2808.1L2238.2 2808.1L2248.4 2818.3L2248.4 2822.7L2238.2 2832.9L2233.8 2832.9L2223.6 2822.7L2223.6 2818.3Z" fill="#4f81bd"/>
<text x="2282" y="2833.5" font-size="35.5" text-anchor="start" textLength="148" lengthAdjust="spacingAndGlyphs" fill="#000">H2Omelt</text>
<text x="2281" y="2885" font-size="35.5" text-anchor="start" textLength="100" lengthAdjust="spacingAndGlyphs" fill="#000">(wt.%)</text>
<text x="1769" y="3626" font-size="45" text-anchor="start" font-weight="bold" textLength="330" lengthAdjust="spacingAndGlyphs" fill="#000">distance c-r (μm)</text>
</svg>
</body></html>
